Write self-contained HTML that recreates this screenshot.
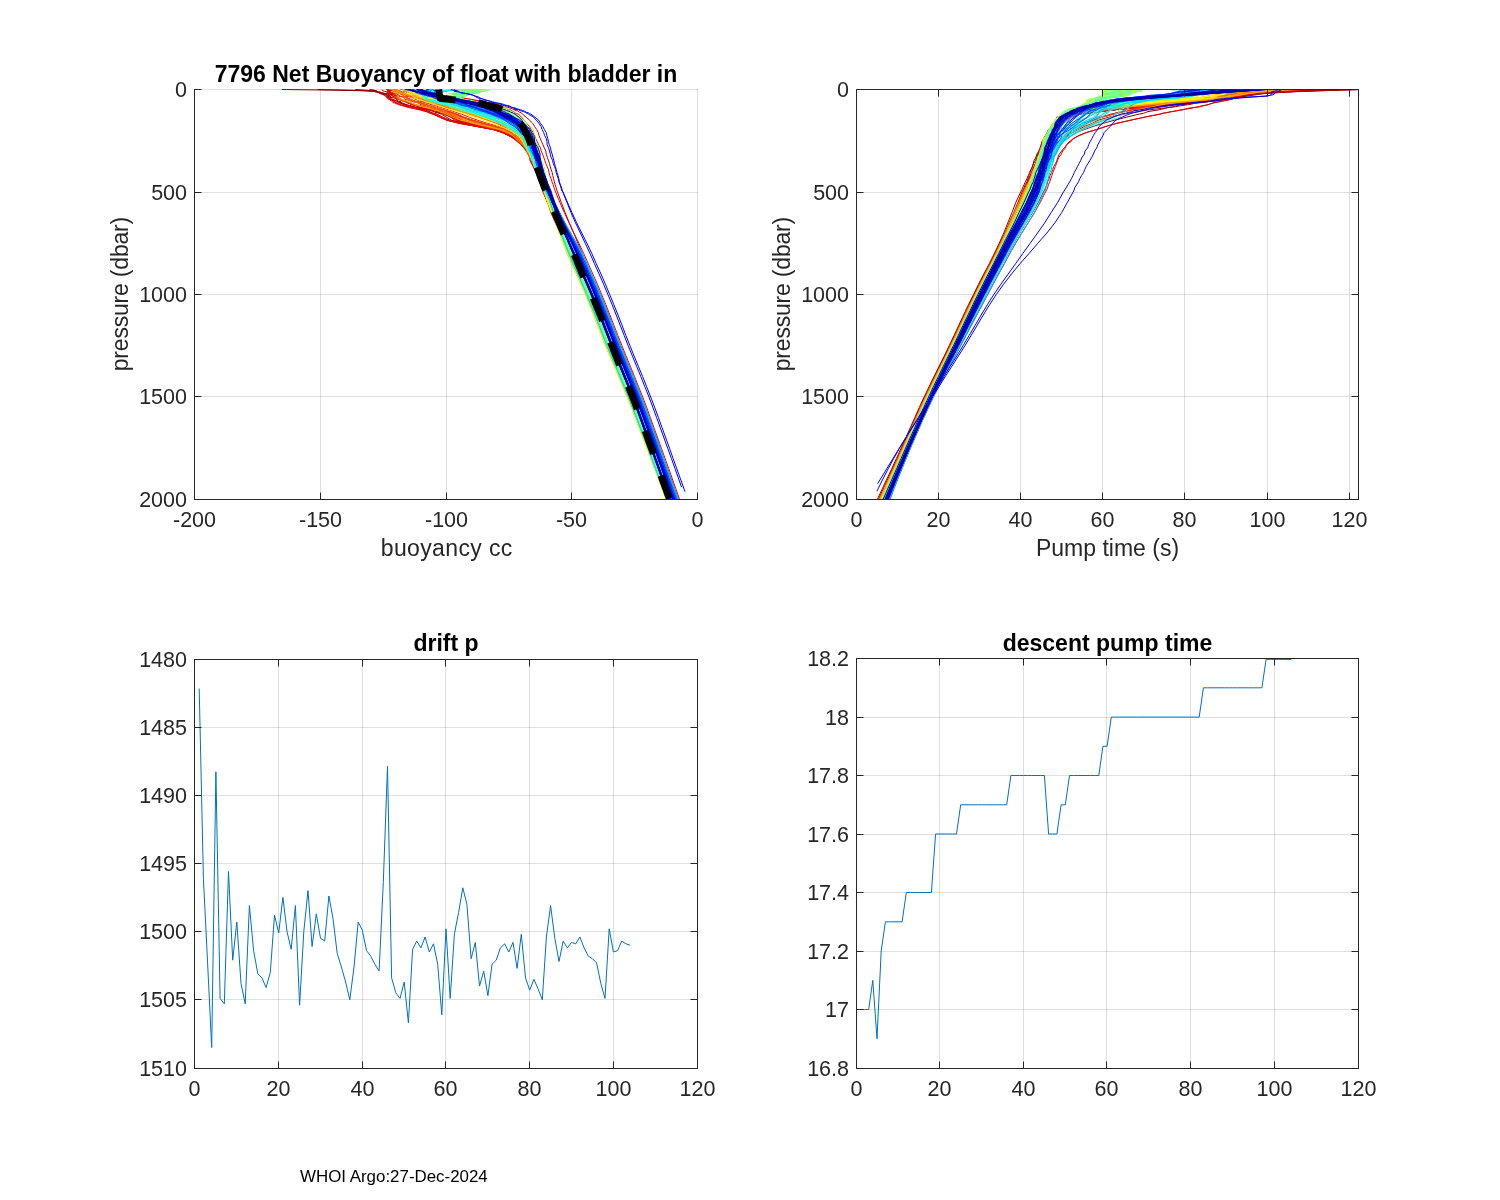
<!DOCTYPE html>
<html><head><meta charset="utf-8"><title>7796 Net Buoyancy of float with bladder in</title>
<style>
html,body{margin:0;padding:0;background:#fff;width:1500px;height:1200px;overflow:hidden}
svg{display:block}
.tk{font-family:'Liberation Sans', Arial, Helvetica, sans-serif;font-size:21.5px;fill:#262626}
.lb{font-family:'Liberation Sans', Arial, Helvetica, sans-serif;font-size:23px;fill:#262626}
.tt{font-family:'Liberation Sans', Arial, Helvetica, sans-serif;font-size:23px;font-weight:bold;fill:#000}
.ft{font-family:'Liberation Sans', Arial, Helvetica, sans-serif;font-size:16.9px;fill:#000}
</style></head><body>
<svg width="1500" height="1200" viewBox="0 0 1500 1200">
<rect width="1500" height="1200" fill="#fff"/>
<defs><clipPath id="c1"><rect x="194" y="89" width="504" height="411"/></clipPath><clipPath id="c2"><rect x="856" y="89" width="503" height="411"/></clipPath><clipPath id="c3"><rect x="194" y="659" width="504" height="410"/></clipPath><clipPath id="c4"><rect x="856" y="658" width="503" height="411"/></clipPath></defs>
<path d="M320.5 89V499.5M446.5 89V499.5M571.5 89V499.5M697.5 89V499.5" stroke="#262626" stroke-opacity="0.15" stroke-width="1" fill="none"/>
<path d="M194.5 89.5H698M194.5 192.5H698M194.5 294.5H698M194.5 396.5H698" stroke="#262626" stroke-opacity="0.15" stroke-width="1" fill="none"/>
<g clip-path="url(#c1)"><path d="M281.9 89.5L330.4 90.1L359.9 90.7L372.4 91.3L378 92L379.8 92.6L382 93.2L386 93.8L389.6 94.4L393.4 95L395.1 95.7L397.4 96.3L397.6 96.9L398.2 97.5L398.2 98.1L398.8 98.7L399.7 99.3L402.5 100L402.5 100.6L404 101.2L405.4 101.8L406.2 102.4L407.5 103L409.9 103.6L411.2 104.3L412.9 104.9L415.1 105.5L416.2 106.1L419 106.7L421.3 107.3L423 108L426.3 108.6L428.5 109.2L431.2 109.8L433.5 110.4L435.7 111L437.1 111.6L439.2 112.3L441.1 112.9L443.9 113.5L445.2 114.1L453.4 117.2L460.9 120.2L473.3 123.3L486.8 126.4L500 129.5L507.5 132.6L512.9 135.6L516 138.7L519.4 141.8L522.7 144.8L524.7 147.9L527 151L528.7 154.1L530.7 157.2L532.4 160.2L533.8 163.3L534.9 166.4L536.5 169.4L537.4 172.5L538 175.6L539.1 178.7L540.2 181.8L541.1 184.8L542.1 187.9L543.3 191L543.9 192L548.2 202.2L551.8 212.5L556.1 222.8L560.6 233L565 243.2L569.6 253.5L574.4 263.8L578.8 274L583.3 284.2L587.8 294.5L591.9 304.8L595.9 315L599.9 325.2L603.9 335.5L607.9 345.8L612.2 356L616.5 366.2L620.8 376.5L625 386.8L629.2 397L633.2 407.2L637.1 417.5L640.9 427.8L644.8 438L648.6 448.2L652.4 458.5L656.2 468.8L659.9 479L663.7 489.2L667.4 499.5" stroke="#800000" stroke-width="1.0" fill="none" stroke-linejoin="round" />
<path d="M369.6 89.5L372.8 90.1L376.7 90.7L376.3 91.3L377.1 92L378.4 92.6L378.9 93.2L380.8 93.8L383.5 94.4L383.4 95L384.8 95.7L386 96.3L389.2 96.9L392.2 97.5L394.9 98.1L395.4 98.7L396.6 99.3L397.3 100L397.1 100.6L398.8 101.2L401 101.8L400.5 102.4L402.4 103L403.9 103.6L404.9 104.3L406.5 104.9L408.7 105.5L410.6 106.1L411.8 106.7L414.8 107.3L416.6 108L418.6 108.6L422.1 109.2L424.9 109.8L426 110.4L427.9 111L429.8 111.6L431 112.3L432.6 112.9L434.9 113.5L436.6 114.1L442.8 117.2L449.9 120.2L463.3 123.3L480.2 126.4L496.6 129.5L506.3 132.6L511.1 135.6L515.4 138.7L518.6 141.8L521.1 144.8L523.8 147.9L526.1 151L528.8 154.1L530.5 157.2L532.7 160.2L533.6 163.3L534.8 166.4L536 169.4L536.6 172.5L537.4 175.6L538.7 178.7L539.6 181.8L540.7 184.8L542 187.9L543.4 191L543.8 192L548.6 202.2L552.7 212.5L557 222.8L562.6 233L567.4 243.2L572.2 253.5L577 263.8L581.5 274L586 284.2L590.3 294.5L594.5 304.8L598.5 315L602.5 325.2L606.5 335.5L610.6 345.8L614.8 356L619 366.2L623.2 376.5L627.4 386.8L631.5 397L635.4 407.2L639.2 417.5L643 427.8L646.7 438L650.4 448.2L654.2 458.5L657.9 468.8L661.6 479L665.2 489.2L668.9 499.5" stroke="#890000" stroke-width="1.0" fill="none" stroke-linejoin="round" />
<path d="M317.6 89.5L347.2 90.1L366.5 90.7L375.9 91.3L380 92L380.8 92.6L381.1 93.2L381.8 93.8L383.8 94.4L385.4 95L388.3 95.7L388.6 96.3L389.7 96.9L390.2 97.5L391.3 98.1L392 98.7L392.8 99.3L394.1 100L396.3 100.6L396.6 101.2L398.1 101.8L398.7 102.4L400.8 103L402.6 103.6L405.2 104.3L407.1 104.9L409.7 105.5L412.2 106.1L413.7 106.7L415.9 107.3L419.2 108L422.8 108.6L425.7 109.2L427.7 109.8L430.1 110.4L432.3 111L434.2 111.6L434.9 112.3L438 112.9L439.5 113.5L441.3 114.1L446.3 117.2L451.5 120.2L463.2 123.3L477.5 126.4L493.4 129.5L502.1 132.6L509.4 135.6L514.9 138.7L519.8 141.8L524.5 144.8L526.5 147.9L527.7 151L529.2 154.1L530 157.2L530 160.2L531.6 163.3L533.7 166.4L535.2 169.4L536.8 172.5L538.1 175.6L539.5 178.7L540.9 181.8L541.2 184.8L542.6 187.9L543.1 191L543.7 192L548 202.2L552.8 212.5L557.7 222.8L562.5 233L567.7 243.2L572.7 253.5L577.3 263.8L581.8 274L586.3 284.2L590.6 294.5L594.8 304.8L598.8 315L602.8 325.2L606.8 335.5L610.9 345.8L615 356L619.2 366.2L623.5 376.5L627.7 386.8L631.7 397L635.6 407.2L639.4 417.5L643.2 427.8L646.9 438L650.6 448.2L654.3 458.5L658 468.8L661.7 479L665.4 489.2L669 499.5" stroke="#930000" stroke-width="1.0" fill="none" stroke-linejoin="round" />
<path d="M371.4 89.5L372.8 90.1L375.2 90.7L377 91.3L378 92L381.5 92.6L384 93.2L387.4 93.8L389.5 94.4L391.5 95L392.1 95.7L393.5 96.3L394.8 96.9L396.3 97.5L395.6 98.1L396.6 98.7L398.7 99.3L400.1 100L402.7 100.6L404.7 101.2L406.9 101.8L407.8 102.4L409.3 103L410.6 103.6L412.1 104.3L414.4 104.9L415.6 105.5L418.5 106.1L419.8 106.7L422.8 107.3L424.6 108L427.5 108.6L430.3 109.2L432.1 109.8L435.3 110.4L436.7 111L438.4 111.6L440 112.3L442.1 112.9L443.3 113.5L445 114.1L451.2 117.2L458 120.2L468.5 123.3L481.9 126.4L497.8 129.5L507 132.6L513.5 135.6L518 138.7L522 141.8L524.1 144.8L525.2 147.9L526.6 151L527.9 154.1L529.6 157.2L531.4 160.2L533.1 163.3L534.2 166.4L536.2 169.4L537 172.5L538.2 175.6L539.8 178.7L540.6 181.8L541.7 184.8L542.7 187.9L543.6 191L543.7 192L547.6 202.2L553 212.5L557 222.8L561.8 233L566.9 243.2L571.6 253.5L576.3 263.8L580.7 274L585.3 284.2L589.6 294.5L593.8 304.8L597.9 315L601.8 325.2L605.8 335.5L609.9 345.8L614.1 356L618.3 366.2L622.6 376.5L626.8 386.8L630.9 397L634.8 407.2L638.7 417.5L642.5 427.8L646.2 438L649.9 448.2L653.7 458.5L657.4 468.8L661.1 479L664.8 489.2L668.5 499.5" stroke="#9d0000" stroke-width="1.0" fill="none" stroke-linejoin="round" />
<path d="M355.4 89.5L365.5 90.1L371 90.7L374.2 91.3L375.8 92L379.5 92.6L381.5 93.2L383.9 93.8L385.4 94.4L387.9 95L389.6 95.7L390.1 96.3L391 96.9L389.7 97.5L390.4 98.1L389.4 98.7L391.1 99.3L393.5 100L396.1 100.6L397.9 101.2L398.5 101.8L399.8 102.4L401.1 103L401.8 103.6L403.2 104.3L404.6 104.9L405.3 105.5L407.6 106.1L409.4 106.7L413.4 107.3L415.2 108L416.9 108.6L420.7 109.2L423 109.8L424.1 110.4L425.7 111L428.1 111.6L429.8 112.3L430.3 112.9L432 113.5L433.2 114.1L440.2 117.2L447 120.2L459.9 123.3L476.6 126.4L493.7 129.5L504.4 132.6L509.7 135.6L514.4 138.7L518.4 141.8L522.4 144.8L525.1 147.9L527.2 151L528.9 154.1L530.3 157.2L531.2 160.2L532.8 163.3L533.5 166.4L534.8 169.4L536.5 172.5L537.6 175.6L539.4 178.7L540.4 181.8L541.5 184.8L542.6 187.9L543.4 191L543.8 192L547.3 202.2L552.1 212.5L556.8 222.8L561.2 233L566.1 243.2L570.9 253.5L575.4 263.8L580 274L584.4 284.2L588.9 294.5L593.1 304.8L597 315L601 325.2L605.1 335.5L609.1 345.8L613.3 356L617.6 366.2L621.9 376.5L626.1 386.8L630.2 397L634.2 407.2L638 417.5L641.8 427.8L645.6 438L649.4 448.2L653.2 458.5L656.9 468.8L660.7 479L664.4 489.2L668.1 499.5" stroke="#a70000" stroke-width="1.0" fill="none" stroke-linejoin="round" />
<path d="M393.7 89.5L391.1 90.1L390.5 90.7L388.2 91.3L388.2 92L389 92.6L390.5 93.2L391.7 93.8L391.2 94.4L390.1 95L389 95.7L388.6 96.3L387.7 96.9L387.1 97.5L388.3 98.1L388.6 98.7L389.1 99.3L391.4 100L393.3 100.6L393.8 101.2L394.3 101.8L395.6 102.4L396.7 103L398.5 103.6L399.1 104.3L400.9 104.9L402.7 105.5L405.1 106.1L406.6 106.7L408.8 107.3L412.5 108L414.6 108.6L417.8 109.2L421.1 109.8L422.7 110.4L425.1 111L426.8 111.6L427.9 112.3L429.8 112.9L430.8 113.5L432.9 114.1L439.6 117.2L446.7 120.2L459.4 123.3L476.6 126.4L493.3 129.5L503.3 132.6L509.1 135.6L514.2 138.7L518.2 141.8L522.1 144.8L525.1 147.9L527.3 151L528.9 154.1L530.3 157.2L530.7 160.2L531.8 163.3L533.1 166.4L534.5 169.4L536.4 172.5L538.3 175.6L539.4 178.7L540.6 181.8L541.7 184.8L542.4 187.9L543.1 191L543.3 192L547.6 202.2L552.9 212.5L557.4 222.8L562.4 233L567.5 243.2L572.5 253.5L577.2 263.8L581.7 274L586.1 284.2L590.4 294.5L594.7 304.8L598.7 315L602.6 325.2L606.7 335.5L610.8 345.8L614.9 356L619.2 366.2L623.4 376.5L627.6 386.8L631.6 397L635.5 407.2L639.3 417.5L643.1 427.8L646.8 438L650.5 448.2L654.3 458.5L658 468.8L661.6 479L665.3 489.2L669 499.5" stroke="#b10000" stroke-width="1.0" fill="none" stroke-linejoin="round" />
<path d="M401.4 89.5L405.8 90.1L410.2 90.7L414.6 91.3L418.8 92L423.2 92.6L426.7 93.2L431.9 93.8L436.8 94.4L440.8 95L445.2 95.7L450.8 96.3L454.7 96.9L459.8 97.5L463.3 98.1L467.3 98.7L471.4 99.3L475.1 100L477.9 100.6L480.4 101.2L483.5 101.8L485.7 102.4L489.7 103L493.8 103.6L496.8 104.3L499.6 104.9L501 105.5L504.6 106.1L505.5 106.7L507.8 107.3L509.8 108L512.1 108.6L512.8 109.2L515.1 109.8L515.1 110.4L517.7 111L518.9 111.6L519.5 112.3L521.3 112.9L521.7 113.5L522.6 114.1L526.2 117.2L529.5 120.2L532.7 123.3L534.5 126.4L536.7 129.5L538.2 132.6L539.1 135.6L540.3 138.7L541.6 141.8L543 144.8L544.3 147.9L545.8 151L546.3 154.1L547.3 157.2L548.4 160.2L549.4 163.3L550.2 166.4L551.1 169.4L552.2 172.5L552.8 175.6L553.6 178.7L554.4 181.8L555.2 184.8L556.2 187.9L557.1 191L557.5 192L561.2 202.2L565.1 212.5L569.3 222.8L573.6 233L577.9 243.2L582.4 253.5L586.9 263.8L591.5 274L596 284.2L600.4 294.5L604.6 304.8L608.7 315L612.6 325.2L616.6 335.5L620.7 345.8L624.8 356L629.1 366.2L633.3 376.5L637.4 386.8L641.4 397L645.3 407.2L649.1 417.5L652.8 427.8L656.5 438L660.2 448.2L663.8 458.5L667.5 468.8L671.2 479L674.8 489.2L678.4 499.5" stroke="#bb0000" stroke-width="1.0" fill="none" stroke-linejoin="round" />
<path d="M382 89.5L382.3 90.1L382.5 90.7L384.6 91.3L387.9 92L391.3 92.6L395.3 93.2L396.7 93.8L397.9 94.4L397.9 95L398.7 95.7L400.2 96.3L403.2 96.9L404.3 97.5L406.4 98.1L408.1 98.7L409.7 99.3L410.8 100L411.6 100.6L412.6 101.2L414.9 101.8L417 102.4L418.7 103L420.9 103.6L422.4 104.3L423.9 104.9L426.8 105.5L428.7 106.1L430.5 106.7L433.3 107.3L435.6 108L436.1 108.6L439.1 109.2L440.9 109.8L443.2 110.4L445.5 111L447.7 111.6L449.2 112.3L451 112.9L453.6 113.5L455.6 114.1L463.9 117.2L472.6 120.2L482.9 123.3L493.8 126.4L504.4 129.5L511.2 132.6L515.1 135.6L518.3 138.7L521.1 141.8L523.6 144.8L525.3 147.9L527.1 151L528.6 154.1L530.6 157.2L532.7 160.2L534 163.3L535.5 166.4L536.8 169.4L537.8 172.5L538.7 175.6L539 178.7L540.2 181.8L540.8 184.8L542 187.9L543.6 191L544.3 192L548.8 202.2L552.3 212.5L556.6 222.8L561.6 233L566 243.2L570.7 253.5L575.5 263.8L579.8 274L584.4 284.2L588.9 294.5L593 304.8L597 315L601.1 325.2L605 335.5L609.1 345.8L613.3 356L617.6 366.2L621.9 376.5L626.1 386.8L630.2 397L634.2 407.2L638 417.5L641.8 427.8L645.6 438L649.4 448.2L653.2 458.5L656.9 468.8L660.6 479L664.4 489.2L668.1 499.5" stroke="#c50000" stroke-width="1.0" fill="none" stroke-linejoin="round" />
<path d="M392 89.5L390.1 90.1L390.6 90.7L389.7 91.3L390.7 92L390.1 92.6L391.6 93.2L392.8 93.8L392.6 94.4L392 95L391.2 95.7L390.5 96.3L389 96.9L388.3 97.5L388.4 98.1L388.6 98.7L390.1 99.3L390.8 100L392.9 100.6L394 101.2L395.1 101.8L397.7 102.4L399 103L401.3 103.6L402.2 104.3L403.4 104.9L405.8 105.5L409.1 106.1L411.7 106.7L416 107.3L420.1 108L422.7 108.6L424.7 109.2L428.3 109.8L430.4 110.4L432.7 111L434.3 111.6L437.7 112.3L438.9 112.9L441.8 113.5L443.1 114.1L450.6 117.2L455 120.2L466.2 123.3L479.2 126.4L493.2 129.5L502.7 132.6L508.7 135.6L514.7 138.7L520.1 141.8L524.3 144.8L526.9 147.9L528.4 151L529.3 154.1L529.8 157.2L530.3 160.2L531.5 163.3L533.4 166.4L535.4 169.4L537 172.5L538.9 175.6L539.7 178.7L540.1 181.8L541.4 184.8L541.9 187.9L542.8 191L543.4 192L548.5 202.2L552.9 212.5L557.2 222.8L562.7 233L567.6 243.2L572.3 253.5L577.2 263.8L581.6 274L586 284.2L590.5 294.5L594.6 304.8L598.6 315L602.7 325.2L606.6 335.5L610.7 345.8L614.9 356L619.1 366.2L623.3 376.5L627.5 386.8L631.6 397L635.5 407.2L639.3 417.5L643.1 427.8L646.8 438L650.5 448.2L654.2 458.5L657.9 468.8L661.6 479L665.3 489.2L668.9 499.5" stroke="#cf0000" stroke-width="1.0" fill="none" stroke-linejoin="round" />
<path d="M391.9 89.5L391.3 90.1L391.5 90.7L390.3 91.3L388.3 92L388.9 92.6L392 93.2L393.5 93.8L394.2 94.4L393.8 95L394.8 95.7L394.6 96.3L396.1 96.9L397.8 97.5L398.8 98.1L400.7 98.7L400.7 99.3L400.8 100L402.5 100.6L404.2 101.2L406.2 101.8L407.7 102.4L410.4 103L411.1 103.6L411 104.3L414 104.9L417 105.5L419.2 106.1L421.2 106.7L424.5 107.3L426.1 108L428.9 108.6L430.9 109.2L432.7 109.8L435.6 110.4L437.3 111L440 111.6L441.4 112.3L442.3 112.9L444.1 113.5L445.7 114.1L451.6 117.2L458.1 120.2L469.5 123.3L483.8 126.4L498.8 129.5L507.5 132.6L512.6 135.6L515.2 138.7L519.3 141.8L523.1 144.8L526.2 147.9L528.5 151L530.3 154.1L530.9 157.2L531.8 160.2L532.6 163.3L534 166.4L535.3 169.4L536.3 172.5L537.7 175.6L538.5 178.7L540.2 181.8L541.7 184.8L543.2 187.9L544.1 191L544.6 192L547.9 202.2L551.5 212.5L556.1 222.8L560.6 233L565.3 243.2L569.5 253.5L574.3 263.8L578.8 274L583.3 284.2L587.7 294.5L591.8 304.8L595.9 315L599.9 325.2L603.9 335.5L607.9 345.8L612.2 356L616.5 366.2L620.8 376.5L625 386.8L629.2 397L633.2 407.2L637.1 417.5L640.9 427.8L644.7 438L648.6 448.2L652.4 458.5L656.2 468.8L659.9 479L663.7 489.2L667.4 499.5" stroke="#d90000" stroke-width="1.0" fill="none" stroke-linejoin="round" />
<path d="M386.3 89.5L390.1 90.1L390.4 90.7L388.8 91.3L386.9 92L388 92.6L387.6 93.2L392.5 93.8L394.9 94.4L395.7 95L395.6 95.7L392.5 96.3L394.8 96.9L396.1 97.5L397.5 98.1L399.6 98.7L401.5 99.3L400.9 100L402.1 100.6L403 101.2L404.9 101.8L407.4 102.4L408.8 103L409.8 103.6L410.6 104.3L413 104.9L415.4 105.5L417.4 106.1L418.6 106.7L420.9 107.3L423.2 108L426.7 108.6L429 109.2L431.1 109.8L433.9 110.4L436.4 111L437.6 111.6L440.1 112.3L441.6 112.9L443.6 113.5L446.2 114.1L453.7 117.2L461.6 120.2L473.2 123.3L485.3 126.4L498.3 129.5L505.4 132.6L510.5 135.6L514.3 138.7L519.5 141.8L522.9 144.8L526.2 147.9L528.5 151L529.5 154.1L530.6 157.2L532.1 160.2L533.3 163.3L534.8 166.4L536 169.4L537 172.5L537.6 175.6L538.6 178.7L539.4 181.8L540.8 184.8L542.2 187.9L543.7 191L544.2 192L548.7 202.2L551.9 212.5L556.4 222.8L561.2 233L566.3 243.2L570.9 253.5L575.2 263.8L580 274L584.5 284.2L588.8 294.5L592.8 304.8L596.9 315L601 325.2L604.9 335.5L609 345.8L613.2 356L617.5 366.2L621.8 376.5L626 386.8L630.1 397L634.1 407.2L637.9 417.5L641.7 427.8L645.5 438L649.3 448.2L653.1 458.5L656.8 468.8L660.6 479L664.3 489.2L668 499.5" stroke="#e30000" stroke-width="1.0" fill="none" stroke-linejoin="round" />
<path d="M403.2 89.5L406.8 90.1L409.6 90.7L412.9 91.3L417.6 92L422.8 92.6L425.8 93.2L432.5 93.8L436.5 94.4L441.8 95L445.3 95.7L450.8 96.3L454.9 96.9L459.9 97.5L462.1 98.1L466 98.7L468.7 99.3L472.2 100L474.4 100.6L478.9 101.2L481.4 101.8L483.9 102.4L486.5 103L489.7 103.6L492.8 104.3L495.2 104.9L497.5 105.5L500.4 106.1L502 106.7L503.4 107.3L504 108L506.8 108.6L507.7 109.2L509.8 109.8L511.2 110.4L512.3 111L513.4 111.6L514.6 112.3L515.3 112.9L516.7 113.5L518.5 114.1L521.5 117.2L524 120.2L527 123.3L529.4 126.4L531.2 129.5L533.1 132.6L534.7 135.6L535.7 138.7L537.3 141.8L538.6 144.8L540.5 147.9L541.2 151L542.5 154.1L543.7 157.2L544.7 160.2L545.7 163.3L547.1 166.4L548.4 169.4L548.9 172.5L549.8 175.6L551.1 178.7L552 181.8L553.2 184.8L554.1 187.9L555.2 191L555.6 192L559.8 202.2L564.3 212.5L569 222.8L573.9 233L578.9 243.2L583.7 253.5L588.3 263.8L592.8 274L597.4 284.2L601.7 294.5L605.9 304.8L609.9 315L613.9 325.2L617.9 335.5L622 345.8L626.1 356L630.3 366.2L634.5 376.5L638.6 386.8L642.7 397L646.6 407.2L650.3 417.5L654 427.8L657.7 438L661.4 448.2L665.1 458.5L668.8 468.8L672.4 479L676 489.2L679.6 499.5" stroke="#ec0000" stroke-width="1.0" fill="none" stroke-linejoin="round" />
<path d="M388.1 89.5L388.2 90.1L387 90.7L389 91.3L387.9 92L388.1 92.6L389.1 93.2L388.6 93.8L389.9 94.4L388 95L388.6 95.7L387.5 96.3L387.6 96.9L388.8 97.5L388.6 98.1L389.7 98.7L391.1 99.3L391.2 100L390.4 100.6L393.6 101.2L393.2 101.8L392.9 102.4L394.7 103L396.6 103.6L398.2 104.3L399.3 104.9L401.2 105.5L403.3 106.1L405.8 106.7L407.8 107.3L411 108L414.1 108.6L417.2 109.2L419.4 109.8L421.9 110.4L423.4 111L426.2 111.6L428.4 112.3L429.3 112.9L432.1 113.5L433.7 114.1L440.4 117.2L447 120.2L458.9 123.3L476.8 126.4L493.2 129.5L503 132.6L509.3 135.6L514.1 138.7L518.3 141.8L522.3 144.8L525.3 147.9L527.2 151L528.4 154.1L529.8 157.2L530.7 160.2L532.2 163.3L533.4 166.4L535.6 169.4L536.8 172.5L538.2 175.6L539.2 178.7L540.2 181.8L541.2 184.8L541.9 187.9L543 191L543 192L547.5 202.2L552 212.5L556.1 222.8L560.7 233L565.5 243.2L570 253.5L574.7 263.8L579.2 274L583.7 284.2L588.1 294.5L592.3 304.8L596.2 315L600.3 325.2L604.3 335.5L608.3 345.8L612.5 356L616.8 366.2L621.1 376.5L625.4 386.8L629.5 397L633.5 407.2L637.4 417.5L641.2 427.8L645 438L648.8 448.2L652.6 458.5L656.4 468.8L660.2 479L663.9 489.2L667.6 499.5" stroke="#f60000" stroke-width="1.0" fill="none" stroke-linejoin="round" />
<path d="M386.7 89.5L388.4 90.1L389 90.7L387.9 91.3L388.1 92L388.5 92.6L389.3 93.2L389.2 93.8L387.6 94.4L387.7 95L387.1 95.7L386.6 96.3L386.1 96.9L386.3 97.5L387.6 98.1L387.7 98.7L388.7 99.3L391.2 100L391.4 100.6L394.1 101.2L394.1 101.8L394.8 102.4L395.6 103L396.5 103.6L398.9 104.3L400.5 104.9L403 105.5L405.9 106.1L408.6 106.7L410.8 107.3L415 108L416.9 108.6L419.8 109.2L422.2 109.8L423.9 110.4L426.9 111L428 111.6L430.6 112.3L432.2 112.9L434.2 113.5L436.7 114.1L442.6 117.2L448.2 120.2L461.3 123.3L476.6 126.4L493.6 129.5L502.5 132.6L509 135.6L514 138.7L517.4 141.8L521.8 144.8L524.9 147.9L527.3 151L529.3 154.1L530.8 157.2L532 160.2L532.7 163.3L533.8 166.4L534.9 169.4L536.1 172.5L537.4 175.6L538.7 178.7L540.5 181.8L541.5 184.8L542.6 187.9L543.7 191L543.7 192L547.6 202.2L552.4 212.5L556.6 222.8L561.4 233L566.5 243.2L571 253.5L575.8 263.8L580.3 274L584.8 284.2L589.1 294.5L593.3 304.8L597.4 315L601.4 325.2L605.3 335.5L609.4 345.8L613.6 356L617.9 366.2L622.2 376.5L626.4 386.8L630.5 397L634.4 407.2L638.3 417.5L642.1 427.8L645.8 438L649.6 448.2L653.4 458.5L657.1 468.8L660.8 479L664.5 489.2L668.2 499.5" stroke="#ff0100" stroke-width="1.0" fill="none" stroke-linejoin="round" />
<path d="M388.5 89.5L388.8 90.1L391.3 90.7L393.9 91.3L396.4 92L395.2 92.6L395.2 93.2L394.5 93.8L394.6 94.4L396 95L397.8 95.7L400.2 96.3L402.7 96.9L404.1 97.5L404 98.1L404.4 98.7L404.7 99.3L407.3 100L408.9 100.6L411.7 101.2L413.6 101.8L416.2 102.4L418.3 103L419.4 103.6L419.9 104.3L421.5 104.9L424.6 105.5L426.6 106.1L429.6 106.7L432 107.3L435 108L436.3 108.6L438.6 109.2L442.1 109.8L443.4 110.4L444.5 111L447.9 111.6L451.5 112.3L451.8 112.9L454.2 113.5L456 114.1L462.7 117.2L469.4 120.2L478 123.3L489.1 126.4L500.2 129.5L508.5 132.6L513.8 135.6L518 138.7L522.1 141.8L525.1 144.8L526.8 147.9L528.1 151L528.8 154.1L530.5 157.2L532 160.2L533.2 163.3L534.5 166.4L535.5 169.4L536.9 172.5L537.6 175.6L538.8 178.7L540.3 181.8L541.8 184.8L543.6 187.9L544.6 191L545.2 192L547.6 202.2L552.2 212.5L557.1 222.8L561.5 233L566.4 243.2L570.9 253.5L575.7 263.8L580.3 274L584.6 284.2L589 294.5L593.3 304.8L597.2 315L601.2 325.2L605.3 335.5L609.3 345.8L613.5 356L617.7 366.2L622 376.5L626.3 386.8L630.3 397L634.3 407.2L638.2 417.5L642 427.8L645.7 438L649.5 448.2L653.3 458.5L657 468.8L660.8 479L664.5 489.2L668.2 499.5" stroke="#ff0b00" stroke-width="1.0" fill="none" stroke-linejoin="round" />
<path d="M408.4 89.5L409.2 90.1L408.7 90.7L407 91.3L405.8 92L407.8 92.6L409.5 93.2L410.6 93.8L410.6 94.4L409.4 95L408.7 95.7L407 96.3L410.2 96.9L410.3 97.5L413.5 98.1L414.3 98.7L414.9 99.3L417.3 100L418.5 100.6L419.8 101.2L422.1 101.8L423.9 102.4L425.8 103L429.2 103.6L429.7 104.3L432.1 104.9L434.6 105.5L436.7 106.1L438.2 106.7L440.4 107.3L442.4 108L444.8 108.6L446.5 109.2L448.3 109.8L451.4 110.4L452.6 111L454.3 111.6L455.5 112.3L457.5 112.9L459.1 113.5L461.5 114.1L469.2 117.2L477.6 120.2L487.4 123.3L498 126.4L509 129.5L514.6 132.6L517.9 135.6L520.1 138.7L521.4 141.8L523.1 144.8L524.6 147.9L527.2 151L529.8 154.1L531.4 157.2L533 160.2L534 163.3L535.2 166.4L536.2 169.4L537.3 172.5L538.4 175.6L539.4 178.7L540.5 181.8L541.1 184.8L542.5 187.9L544 191L544.7 192L548.6 202.2L551 212.5L555.6 222.8L559.8 233L563.9 243.2L568 253.5L572.8 263.8L577.2 274L581.8 284.2L586.3 294.5L590.5 304.8L594.4 315L598.5 325.2L602.5 335.5L606.5 345.8L610.8 356L615.1 366.2L619.5 376.5L623.7 386.8L628 397L632 407.2L635.9 417.5L639.8 427.8L643.7 438L647.5 448.2L651.4 458.5L655.2 468.8L659.1 479L662.9 489.2L666.6 499.5" stroke="#ff1500" stroke-width="1.0" fill="none" stroke-linejoin="round" />
<path d="M391.6 89.5L395.9 90.1L397.6 90.7L400.8 91.3L402.4 92L402.7 92.6L401.8 93.2L403 93.8L403.6 94.4L405.7 95L409.8 95.7L411.6 96.3L412.9 96.9L415.5 97.5L418 98.1L419.9 98.7L421.8 99.3L423.9 100L426.6 100.6L429.1 101.2L431.6 101.8L434 102.4L436.1 103L439.5 103.6L441.6 104.3L445 104.9L448 105.5L450.7 106.1L452 106.7L454.4 107.3L456.2 108L458.2 108.6L459.8 109.2L461.8 109.8L464.7 110.4L467.7 111L468.8 111.6L471 112.3L474 112.9L474.4 113.5L477.2 114.1L484.2 117.2L491.4 120.2L497.4 123.3L503 126.4L508.2 129.5L513.2 132.6L518.1 135.6L522.5 138.7L525.2 141.8L527.8 144.8L529.4 147.9L530.1 151L530.7 154.1L531.2 157.2L531.8 160.2L532.8 163.3L534.2 166.4L535.9 169.4L537.5 172.5L538.9 175.6L540.3 178.7L541.3 181.8L542.5 184.8L543.6 187.9L544.7 191L545 192L548.6 202.2L552.2 212.5L557.1 222.8L561.5 233L565.5 243.2L570.4 253.5L575.2 263.8L579.5 274L584 284.2L588.5 294.5L592.6 304.8L596.6 315L600.6 325.2L604.6 335.5L608.7 345.8L612.9 356L617.2 366.2L621.5 376.5L625.7 386.8L629.8 397L633.8 407.2L637.7 417.5L641.5 427.8L645.3 438L649.1 448.2L652.9 458.5L656.7 468.8L660.4 479L664.1 489.2L667.8 499.5" stroke="#ff1f00" stroke-width="1.0" fill="none" stroke-linejoin="round" />
<path d="M401 89.5L400.2 90.1L399.4 90.7L399.2 91.3L399.6 92L399.3 92.6L399.5 93.2L399.6 93.8L400.6 94.4L403.3 95L403 95.7L404.2 96.3L407.5 96.9L407.3 97.5L407.7 98.1L408.5 98.7L410.3 99.3L411.2 100L413.8 100.6L415.4 101.2L418.1 101.8L420.4 102.4L421.3 103L423.6 103.6L424.4 104.3L426 104.9L427.1 105.5L428.1 106.1L429.9 106.7L431.7 107.3L433.7 108L435.6 108.6L436.8 109.2L440.6 109.8L441 110.4L442.5 111L444.8 111.6L447.1 112.3L448.9 112.9L450.2 113.5L452.6 114.1L462 117.2L471.8 120.2L482.9 123.3L494.1 126.4L504.3 129.5L509.2 132.6L513.3 135.6L517.8 138.7L521.4 141.8L524.7 144.8L526.6 147.9L528.6 151L528.8 154.1L529.6 157.2L531.5 160.2L533.4 163.3L535.2 166.4L536.3 169.4L537 172.5L538.2 175.6L539.2 178.7L540.6 181.8L542.1 184.8L543.1 187.9L544.2 191L544.5 192L547.7 202.2L552.3 212.5L555.7 222.8L560.4 233L565.1 243.2L569.6 253.5L573.9 263.8L578.6 274L583.1 284.2L587.5 294.5L591.7 304.8L595.8 315L599.7 325.2L603.7 335.5L607.8 345.8L612 356L616.3 366.2L620.6 376.5L624.9 386.8L629 397L633 407.2L636.9 417.5L640.8 427.8L644.6 438L648.4 448.2L652.3 458.5L656 468.8L659.8 479L663.6 489.2L667.3 499.5" stroke="#ff2900" stroke-width="1.0" fill="none" stroke-linejoin="round" />
<path d="M395.5 89.5L395.4 90.1L395.7 90.7L396.7 91.3L398.1 92L398.2 92.6L399.2 93.2L399.4 93.8L398.2 94.4L397 95L396.8 95.7L395.4 96.3L395.6 96.9L396.1 97.5L396 98.1L397.9 98.7L399.3 99.3L400.4 100L402.8 100.6L404.8 101.2L405.3 101.8L408.5 102.4L409.2 103L410.9 103.6L411.5 104.3L413.8 104.9L416.6 105.5L420 106.1L422.1 106.7L425.4 107.3L428.6 108L430.4 108.6L433.1 109.2L436 109.8L438 110.4L441 111L441.1 111.6L444.4 112.3L446.1 112.9L448.5 113.5L450 114.1L457.1 117.2L462.7 120.2L472.1 123.3L483.3 126.4L498 129.5L506.6 132.6L512.5 135.6L518 138.7L521.8 141.8L523.9 144.8L526.1 147.9L527.1 151L528.3 154.1L529.7 157.2L531.4 160.2L533.5 163.3L535.1 166.4L536.7 169.4L537.2 172.5L537.8 175.6L539 178.7L540 181.8L541.3 184.8L542.9 187.9L544.1 191L544.4 192L547.7 202.2L551.9 212.5L556.4 222.8L560.7 233L565.4 243.2L570 253.5L574.6 263.8L579 274L583.6 284.2L588.1 294.5L592.1 304.8L596.3 315L600.3 325.2L604.2 335.5L608.3 345.8L612.5 356L616.8 366.2L621.1 376.5L625.4 386.8L629.5 397L633.5 407.2L637.4 417.5L641.2 427.8L645 438L648.8 448.2L652.6 458.5L656.4 468.8L660.1 479L663.9 489.2L667.6 499.5" stroke="#ff3300" stroke-width="1.0" fill="none" stroke-linejoin="round" />
<path d="M407.5 89.5L407.1 90.1L405.1 90.7L404.6 91.3L403 92L404.5 92.6L403.9 93.2L404.4 93.8L404.5 94.4L406.6 95L406.1 95.7L406.4 96.3L406.3 96.9L407 97.5L407.4 98.1L407.8 98.7L409.7 99.3L412 100L413.6 100.6L415.3 101.2L417.6 101.8L420.3 102.4L422.1 103L424.6 103.6L425.7 104.3L428.1 104.9L430.2 105.5L432.2 106.1L433.9 106.7L436.5 107.3L438.7 108L440.5 108.6L442.1 109.2L444.8 109.8L446.2 110.4L448.5 111L450.6 111.6L452.6 112.3L454.4 112.9L455.2 113.5L457 114.1L464 117.2L472.3 120.2L482.3 123.3L494.1 126.4L505.3 129.5L510.9 132.6L516.1 135.6L518.9 138.7L521.8 141.8L524 144.8L526.4 147.9L527.9 151L529.5 154.1L530.1 157.2L531.8 160.2L533 163.3L534.8 166.4L536.4 169.4L537.8 172.5L539.3 175.6L540.1 178.7L540.6 181.8L541.6 184.8L542.2 187.9L543.5 191L544 192L548.1 202.2L551.8 212.5L555.9 222.8L559.9 233L564.9 243.2L569 253.5L573.5 263.8L578.2 274L582.6 284.2L587 294.5L591.2 304.8L595.3 315L599.2 325.2L603.2 335.5L607.4 345.8L611.5 356L615.9 366.2L620.2 376.5L624.5 386.8L628.6 397L632.7 407.2L636.6 417.5L640.4 427.8L644.3 438L648.1 448.2L651.9 458.5L655.8 468.8L659.5 479L663.3 489.2L667.1 499.5" stroke="#ff3d00" stroke-width="1.0" fill="none" stroke-linejoin="round" />
<path d="M394.4 89.5L397.2 90.1L396.4 90.7L398.3 91.3L397.4 92L399.7 92.6L399.7 93.2L401.5 93.8L403.8 94.4L405.9 95L408.5 95.7L409.2 96.3L411.6 96.9L414.3 97.5L415.8 98.1L419.2 98.7L419 99.3L421.4 100L422.1 100.6L422.1 101.2L426 101.8L428.2 102.4L431.4 103L434.1 103.6L437.5 104.3L439.9 104.9L441.8 105.5L443.9 106.1L445.3 106.7L447.2 107.3L449.8 108L451.9 108.6L454.7 109.2L456.4 109.8L458.6 110.4L461.4 111L462.9 111.6L465.4 112.3L467.5 112.9L469.6 113.5L472 114.1L481.8 117.2L489.5 120.2L497.4 123.3L503.7 126.4L509.2 129.5L513.8 132.6L516.8 135.6L519.9 138.7L523.3 141.8L525.9 144.8L528.2 147.9L529.5 151L531 154.1L530.7 157.2L531.4 160.2L532.4 163.3L534.1 166.4L535.8 169.4L537.8 172.5L539.7 175.6L540.9 178.7L541.6 181.8L542.2 184.8L542.8 187.9L543.8 191L544.4 192L548.6 202.2L552.2 212.5L556.2 222.8L560.8 233L565.2 243.2L569.6 253.5L574.1 263.8L578.7 274L583.3 284.2L587.7 294.5L591.9 304.8L595.9 315L599.9 325.2L603.9 335.5L607.9 345.8L612.2 356L616.4 366.2L620.8 376.5L625.1 386.8L629.2 397L633.2 407.2L637.1 417.5L640.9 427.8L644.8 438L648.6 448.2L652.4 458.5L656.2 468.8L659.9 479L663.7 489.2L667.4 499.5" stroke="#ff4700" stroke-width="1.0" fill="none" stroke-linejoin="round" />
<path d="M395.1 89.5L394 90.1L394.6 90.7L394.6 91.3L394.7 92L396.4 92.6L397.7 93.2L396.5 93.8L394 94.4L393.2 95L393.5 95.7L394.7 96.3L396.3 96.9L398.1 97.5L399 98.1L398.6 98.7L401 99.3L400.4 100L401.5 100.6L404.2 101.2L407.2 101.8L408.7 102.4L411.2 103L413.1 103.6L413.9 104.3L414.4 104.9L417.5 105.5L421.2 106.1L423 106.7L426.4 107.3L428.7 108L431.7 108.6L432.8 109.2L434.9 109.8L436.5 110.4L439 111L441.6 111.6L443.1 112.3L444.7 112.9L446.6 113.5L448.2 114.1L454.6 117.2L460.8 120.2L472.2 123.3L485.3 126.4L498.9 129.5L506.8 132.6L513.3 135.6L517.3 138.7L520.7 141.8L523.4 144.8L525.9 147.9L527.5 151L528.7 154.1L530 157.2L531.2 160.2L532.8 163.3L534.5 166.4L536.1 169.4L537.3 172.5L538.3 175.6L539.5 178.7L540.1 181.8L541.3 184.8L541.8 187.9L543.4 191L543.6 192L548.2 202.2L551.1 212.5L555.4 222.8L560 233L563.8 243.2L568.7 253.5L573.1 263.8L577.5 274L582.2 284.2L586.6 294.5L590.7 304.8L594.8 315L598.8 325.2L602.8 335.5L606.8 345.8L611.1 356L615.4 366.2L619.7 376.5L624 386.8L628.2 397L632.2 407.2L636.2 417.5L640.1 427.8L643.9 438L647.8 448.2L651.6 458.5L655.4 468.8L659.2 479L663 489.2L666.8 499.5" stroke="#ff5000" stroke-width="1.0" fill="none" stroke-linejoin="round" />
<path d="M394.5 89.5L396.5 90.1L396.4 90.7L396.1 91.3L397.9 92L399.7 92.6L401.4 93.2L402.5 93.8L407.4 94.4L408.7 95L411.2 95.7L412.3 96.3L413.7 96.9L415.8 97.5L417.3 98.1L418 98.7L419.1 99.3L421.2 100L423.8 100.6L424.2 101.2L427.8 101.8L429.1 102.4L431.5 103L432.5 103.6L434.9 104.3L437.1 104.9L439.1 105.5L441.2 106.1L444.3 106.7L445.7 107.3L447.4 108L448.8 108.6L451.2 109.2L453.1 109.8L455.4 110.4L457.7 111L460.2 111.6L462.8 112.3L465.3 112.9L466.2 113.5L468.4 114.1L478.5 117.2L487.1 120.2L496.1 123.3L503.2 126.4L509.2 129.5L513.4 132.6L516.9 135.6L519.5 138.7L522.9 141.8L525.6 144.8L527.9 147.9L530 151L531 154.1L531.9 157.2L532.4 160.2L533 163.3L534.2 166.4L535.1 169.4L536.7 172.5L538.4 175.6L540.1 178.7L541.6 181.8L542.7 184.8L543.4 187.9L544.6 191L545 192L548 202.2L552.3 212.5L556.2 222.8L560.5 233L565.2 243.2L569.3 253.5L573.9 263.8L578.7 274L583.1 284.2L587.4 294.5L591.7 304.8L595.7 315L599.7 325.2L603.7 335.5L607.7 345.8L612 356L616.3 366.2L620.6 376.5L624.9 386.8L629 397L633 407.2L636.9 417.5L640.8 427.8L644.6 438L648.4 448.2L652.2 458.5L656 468.8L659.8 479L663.6 489.2L667.3 499.5" stroke="#ff5a00" stroke-width="1.0" fill="none" stroke-linejoin="round" />
<path d="M407.6 89.5L407 90.1L408 90.7L409.2 91.3L410.4 92L412.1 92.6L412.7 93.2L412.6 93.8L415.6 94.4L414.9 95L415.3 95.7L415.4 96.3L415.3 96.9L417.7 97.5L419.9 98.1L422.1 98.7L423.8 99.3L427.6 100L431.2 100.6L432.1 101.2L434.1 101.8L435 102.4L436 103L437.2 103.6L440.1 104.3L442.4 104.9L445.3 105.5L447.1 106.1L449.8 106.7L452 107.3L453.7 108L455.5 108.6L457.1 109.2L458.3 109.8L459.9 110.4L461.3 111L463.6 111.6L465.6 112.3L467.5 112.9L471.1 113.5L473.3 114.1L481.8 117.2L490.4 120.2L498.5 123.3L506.2 126.4L511.5 129.5L515.7 132.6L519.1 135.6L522.3 138.7L524.6 141.8L526.2 144.8L527.6 147.9L528.7 151L530.1 154.1L531.3 157.2L532.1 160.2L533.2 163.3L534.8 166.4L536.1 169.4L537.6 172.5L539.2 175.6L540.5 178.7L541.4 181.8L542.6 184.8L543.6 187.9L544.6 191L545 192L548.3 202.2L552.6 212.5L557 222.8L561.1 233L565.5 243.2L570.1 253.5L574.8 263.8L579.3 274L583.7 284.2L588.2 294.5L592.4 304.8L596.4 315L600.3 325.2L604.4 335.5L608.4 345.8L612.6 356L616.9 366.2L621.2 376.5L625.5 386.8L629.6 397L633.6 407.2L637.5 417.5L641.3 427.8L645.1 438L648.9 448.2L652.7 458.5L656.5 468.8L660.2 479L664 489.2L667.7 499.5" stroke="#ff6400" stroke-width="1.0" fill="none" stroke-linejoin="round" />
<path d="M397.3 89.5L397.4 90.1L396.6 90.7L396.7 91.3L397.3 92L397.5 92.6L400.1 93.2L398.3 93.8L398.7 94.4L397.6 95L398.1 95.7L397.1 96.3L398.1 96.9L397.5 97.5L399.2 98.1L400.4 98.7L401.8 99.3L402.1 100L405.5 100.6L406.3 101.2L406.9 101.8L410.2 102.4L411.6 103L412.6 103.6L415.2 104.3L417.1 104.9L419.9 105.5L421 106.1L423.4 106.7L425.6 107.3L429.8 108L432.5 108.6L434.2 109.2L436.6 109.8L439 110.4L440.8 111L442.4 111.6L444.5 112.3L446.6 112.9L448.3 113.5L451.2 114.1L458.5 117.2L463.8 120.2L474.4 123.3L486.6 126.4L499.3 129.5L507.2 132.6L512.6 135.6L517.2 138.7L520.6 141.8L524.5 144.8L526.2 147.9L527.9 151L529.7 154.1L530.7 157.2L532.3 160.2L532.9 163.3L534.8 166.4L535.9 169.4L536.9 172.5L537.7 175.6L538.9 178.7L540.2 181.8L541.1 184.8L542.7 187.9L544.1 191L544.2 192L547.8 202.2L550.7 212.5L555.3 222.8L559.8 233L563.9 243.2L568 253.5L572.5 263.8L577.3 274L581.8 284.2L586.1 294.5L590.3 304.8L594.4 315L598.4 325.2L602.3 335.5L606.4 345.8L610.7 356L615 366.2L619.3 376.5L623.6 386.8L627.8 397L631.9 407.2L635.8 417.5L639.7 427.8L643.6 438L647.5 448.2L651.3 458.5L655.2 468.8L659 479L662.8 489.2L666.6 499.5" stroke="#ff6e00" stroke-width="1.0" fill="none" stroke-linejoin="round" />
<path d="M411.5 89.5L409.3 90.1L407.7 90.7L403.7 91.3L402.2 92L402.5 92.6L403.8 93.2L404.5 93.8L404.6 94.4L403.2 95L402.7 95.7L402.3 96.3L402.3 96.9L404.5 97.5L406 98.1L407.3 98.7L407.2 99.3L408.5 100L409.8 100.6L412.5 101.2L414.9 101.8L417.3 102.4L418.9 103L420.9 103.6L421.6 104.3L424.1 104.9L427 105.5L428 106.1L430.1 106.7L431.7 107.3L434.4 108L436.9 108.6L439.4 109.2L440.3 109.8L443.1 110.4L444.6 111L446.1 111.6L447.6 112.3L450.1 112.9L451.1 113.5L453.3 114.1L459.7 117.2L467.5 120.2L478.4 123.3L490 126.4L502.5 129.5L509.8 132.6L515.5 135.6L518.5 138.7L521.4 141.8L524.1 144.8L525.8 147.9L526.8 151L528.2 154.1L530 157.2L531.8 160.2L533.3 163.3L535.3 166.4L537 169.4L538 172.5L539 175.6L539.6 178.7L540.3 181.8L541.2 184.8L542 187.9L543.1 191L543.7 192L548.4 202.2L552.3 212.5L556.1 222.8L560.9 233L565.8 243.2L569.9 253.5L574.5 263.8L579.3 274L583.7 284.2L588 294.5L592.3 304.8L596.4 315L600.3 325.2L604.2 335.5L608.4 345.8L612.6 356L616.8 366.2L621.2 376.5L625.4 386.8L629.5 397L633.5 407.2L637.4 417.5L641.2 427.8L645 438L648.8 448.2L652.6 458.5L656.4 468.8L660.2 479L663.9 489.2L667.6 499.5" stroke="#ff7800" stroke-width="1.0" fill="none" stroke-linejoin="round" />
<path d="M394.5 89.5L396.1 90.1L396.5 90.7L397 91.3L398.6 92L400.4 92.6L402.7 93.2L404.8 93.8L407.3 94.4L411.3 95L413.5 95.7L415.4 96.3L416.9 96.9L417.8 97.5L418.6 98.1L422.3 98.7L424.3 99.3L426.2 100L428.1 100.6L430.9 101.2L433.4 101.8L436.1 102.4L437.6 103L439.2 103.6L442.2 104.3L444.8 104.9L446.2 105.5L448.8 106.1L450.5 106.7L453.2 107.3L454.3 108L456.3 108.6L458.4 109.2L459.6 109.8L463 110.4L464.4 111L466.3 111.6L467.7 112.3L470.2 112.9L471.9 113.5L473.5 114.1L482.5 117.2L490.6 120.2L498.1 123.3L503.7 126.4L510.5 129.5L514.9 132.6L520.3 135.6L522.9 138.7L525.6 141.8L526.3 144.8L528 147.9L528.8 151L529.9 154.1L531.1 157.2L531.8 160.2L533.5 163.3L534.7 166.4L536 169.4L537.4 172.5L538.5 175.6L539.9 178.7L541.9 181.8L543 184.8L543.9 187.9L544.7 191L545 192L548 202.2L552 212.5L556 222.8L560.1 233L564.2 243.2L568.7 253.5L573.2 263.8L577.7 274L582.3 284.2L586.7 294.5L590.9 304.8L594.9 315L598.8 325.2L602.8 335.5L606.9 345.8L611.2 356L615.5 366.2L619.8 376.5L624.1 386.8L628.3 397L632.3 407.2L636.3 417.5L640.2 427.8L644 438L647.8 448.2L651.7 458.5L655.5 468.8L659.3 479L663.1 489.2L666.9 499.5" stroke="#ff8200" stroke-width="1.0" fill="none" stroke-linejoin="round" />
<path d="M393.5 89.5L393.8 90.1L392.6 90.7L395.9 91.3L398.2 92L399.6 92.6L402.6 93.2L404.7 93.8L405.9 94.4L407.4 95L407.3 95.7L409.9 96.3L409.2 96.9L411.6 97.5L415.3 98.1L418.6 98.7L421.2 99.3L422.5 100L424.9 100.6L427.3 101.2L428.7 101.8L430.9 102.4L433.8 103L436.8 103.6L440.2 104.3L443.2 104.9L446.2 105.5L448.1 106.1L450.1 106.7L451.1 107.3L452.5 108L453.9 108.6L456.8 109.2L457.9 109.8L460.7 110.4L462.3 111L465.1 111.6L467.1 112.3L468.7 112.9L469.4 113.5L471.2 114.1L481.5 117.2L489.5 120.2L499.2 123.3L504.9 126.4L510.4 129.5L513.9 132.6L517.3 135.6L520.1 138.7L523.5 141.8L526.2 144.8L528.1 147.9L529.5 151L530.2 154.1L530.9 157.2L531.9 160.2L533.4 163.3L534.8 166.4L536.7 169.4L538 172.5L539 175.6L539.7 178.7L540.4 181.8L541.2 184.8L543 187.9L544.5 191L545 192L549 202.2L553.4 212.5L557.3 222.8L562.4 233L567.3 243.2L571.5 253.5L576.3 263.8L581 274L585.5 284.2L589.7 294.5L594 304.8L598 315L602 325.2L606 335.5L610.1 345.8L614.2 356L618.5 366.2L622.7 376.5L626.9 386.8L631 397L634.9 407.2L638.8 417.5L642.6 427.8L646.3 438L650 448.2L653.8 458.5L657.5 468.8L661.2 479L664.9 489.2L668.6 499.5" stroke="#ff8c00" stroke-width="1.0" fill="none" stroke-linejoin="round" />
<path d="M390.9 89.5L395.3 90.1L398.1 90.7L399.5 91.3L400.4 92L400.3 92.6L402.4 93.2L404.2 93.8L406.5 94.4L408.8 95L412.3 95.7L413.2 96.3L417 96.9L419.2 97.5L423.1 98.1L424.2 98.7L427 99.3L427.7 100L428.6 100.6L431.5 101.2L432.8 101.8L434.9 102.4L436.5 103L438.7 103.6L440.3 104.3L443.2 104.9L445.1 105.5L448.1 106.1L448.8 106.7L450.7 107.3L452.2 108L453.4 108.6L455.7 109.2L457.2 109.8L458.2 110.4L460.2 111L462.5 111.6L464.4 112.3L466.9 112.9L468.7 113.5L471.2 114.1L480.8 117.2L490.7 120.2L499.1 123.3L505.5 126.4L513.2 129.5L516.2 132.6L519.4 135.6L522.2 138.7L523.6 141.8L524.8 144.8L526.6 147.9L527.6 151L529.7 154.1L531.3 157.2L532.4 160.2L534.1 163.3L535.5 166.4L536.7 169.4L537.7 172.5L538.5 175.6L539.6 178.7L540.8 181.8L541.7 184.8L543 187.9L544.5 191L544.8 192L548.8 202.2L552.7 212.5L556.8 222.8L561.2 233L565.7 243.2L570.4 253.5L574.8 263.8L579.3 274L583.9 284.2L588.3 294.5L592.4 304.8L596.5 315L600.5 325.2L604.5 335.5L608.5 345.8L612.8 356L617.1 366.2L621.3 376.5L625.6 386.8L629.7 397L633.7 407.2L637.6 417.5L641.4 427.8L645.2 438L649 448.2L652.8 458.5L656.6 468.8L660.3 479L664 489.2L667.8 499.5" stroke="#ff9600" stroke-width="1.0" fill="none" stroke-linejoin="round" />
<path d="M391.4 89.5L393.4 90.1L393.8 90.7L394.4 91.3L395.3 92L397.9 92.6L399.1 93.2L403.9 93.8L409.7 94.4L411.2 95L414.6 95.7L415.4 96.3L416 96.9L417.1 97.5L420.6 98.1L423.8 98.7L427.2 99.3L429.6 100L432.3 100.6L432.7 101.2L435.3 101.8L436.6 102.4L438.9 103L440.7 103.6L441.6 104.3L443.6 104.9L445 105.5L447.7 106.1L447.9 106.7L449.8 107.3L450.3 108L451.9 108.6L453.3 109.2L454.5 109.8L457.2 110.4L459.2 111L460.7 111.6L462.4 112.3L464.4 112.9L466.9 113.5L469.7 114.1L479.3 117.2L490 120.2L500.3 123.3L508.3 126.4L513.8 129.5L516.9 132.6L518.1 135.6L520.5 138.7L522.4 141.8L524.2 144.8L527.1 147.9L529.5 151L531.3 154.1L532.2 157.2L533.4 160.2L533.7 163.3L534.3 166.4L535.2 169.4L536.9 172.5L538.1 175.6L539.9 178.7L541.6 181.8L542.8 184.8L544 187.9L544.6 191L544.8 192L548.6 202.2L553.3 212.5L557.4 222.8L562.4 233L567 243.2L571.6 253.5L576.4 263.8L580.8 274L585.4 284.2L589.7 294.5L593.9 304.8L598 315L601.9 325.2L605.9 335.5L610 345.8L614.1 356L618.4 366.2L622.7 376.5L626.9 386.8L631 397L634.9 407.2L638.7 417.5L642.5 427.8L646.3 438L650 448.2L653.8 458.5L657.5 468.8L661.2 479L664.9 489.2L668.5 499.5" stroke="#ffa000" stroke-width="1.0" fill="none" stroke-linejoin="round" />
<path d="M392.7 89.5L393.2 90.1L393.7 90.7L394.1 91.3L393.8 92L395 92.6L396.8 93.2L398.6 93.8L398.5 94.4L397.9 95L398.2 95.7L398 96.3L397.7 96.9L398.1 97.5L398.5 98.1L400.5 98.7L400.8 99.3L403 100L405.1 100.6L406.9 101.2L408.2 101.8L410.3 102.4L411.1 103L413.3 103.6L415 104.3L415.9 104.9L418 105.5L419.7 106.1L422.4 106.7L424.5 107.3L427.4 108L429.3 108.6L431.9 109.2L433.4 109.8L436 110.4L438 111L439.8 111.6L440.3 112.3L443.2 112.9L444.1 113.5L445.8 114.1L452.9 117.2L461 120.2L474.1 123.3L487.4 126.4L501.3 129.5L508.6 132.6L512.9 135.6L515.8 138.7L519.3 141.8L522.7 144.8L525.3 147.9L527.6 151L529.3 154.1L530.8 157.2L532.3 160.2L533.5 163.3L534.6 166.4L535.9 169.4L537.3 172.5L538 175.6L538.8 178.7L539.8 181.8L540.9 184.8L542.4 187.9L543.9 191L544.5 192L547.9 202.2L551.8 212.5L556.4 222.8L561.2 233L565.7 243.2L570.3 253.5L575 263.8L579.4 274L584 284.2L588.3 294.5L592.5 304.8L596.6 315L600.6 325.2L604.6 335.5L608.6 345.8L612.8 356L617.1 366.2L621.4 376.5L625.6 386.8L629.8 397L633.7 407.2L637.6 417.5L641.5 427.8L645.2 438L649 448.2L652.8 458.5L656.6 468.8L660.4 479L664.1 489.2L667.8 499.5" stroke="#ffaa00" stroke-width="1.0" fill="none" stroke-linejoin="round" />
<path d="M420.5 89.5L418.2 90.1L418.4 90.7L421 91.3L423.1 92L424.4 92.6L424.5 93.2L424.7 93.8L426.8 94.4L428.4 95L431 95.7L434 96.3L434.2 96.9L434.6 97.5L437.6 98.1L440.5 98.7L443.7 99.3L445.8 100L448.9 100.6L449.7 101.2L450.8 101.8L453.7 102.4L456 103L458.2 103.6L460.3 104.3L461.9 104.9L463.5 105.5L464.9 106.1L468 106.7L468.8 107.3L470.9 108L473.5 108.6L474.5 109.2L476.4 109.8L477.4 110.4L479.7 111L480.9 111.6L483.1 112.3L485.3 112.9L486.8 113.5L488.4 114.1L496.6 117.2L503.7 120.2L510.3 123.3L515.8 126.4L520.4 129.5L522.8 132.6L525.4 135.6L527.6 138.7L528.6 141.8L529.6 144.8L531 147.9L532.3 151L533.6 154.1L534.8 157.2L535.8 160.2L536.7 163.3L537.9 166.4L539 169.4L539.9 172.5L541.2 175.6L542.8 178.7L543.9 181.8L544.9 184.8L546.2 187.9L547.2 191L547.4 192L549.7 202.2L552.7 212.5L556.4 222.8L559.8 233L563.2 243.2L567.2 253.5L571.6 263.8L576.2 274L580.8 284.2L585.3 294.5L589.5 304.8L593.5 315L597.5 325.2L601.5 335.5L605.5 345.8L609.8 356L614.2 366.2L618.6 376.5L622.9 386.8L627.1 397L631.2 407.2L635.2 417.5L639.1 427.8L643 438L646.9 448.2L650.8 458.5L654.6 468.8L658.5 479L662.3 489.2L666.1 499.5" stroke="#ffb300" stroke-width="1.0" fill="none" stroke-linejoin="round" />
<path d="M415 89.5L416.9 90.1L419.6 90.7L419.8 91.3L419 92L417.8 92.6L416 93.2L414.6 93.8L416.6 94.4L416.4 95L417.1 95.7L419 96.3L420.1 96.9L421.6 97.5L423.4 98.1L425.6 98.7L427.3 99.3L428.8 100L431.3 100.6L432.2 101.2L434.6 101.8L436.3 102.4L440 103L442.5 103.6L445.1 104.3L447.7 104.9L450.4 105.5L452.5 106.1L454.1 106.7L456.6 107.3L457.2 108L458.6 108.6L461.4 109.2L463.7 109.8L464.4 110.4L467.8 111L470 111.6L472 112.3L474.4 112.9L476 113.5L477.7 114.1L486.2 117.2L494.7 120.2L501.2 123.3L507.2 126.4L511.3 129.5L515.5 132.6L518.7 135.6L522.2 138.7L525 141.8L527.6 144.8L529.6 147.9L531 151L532.3 154.1L532.4 157.2L532.8 160.2L533.4 163.3L534.3 166.4L535.7 169.4L537.2 172.5L539 175.6L540.8 178.7L542.4 181.8L543.8 184.8L544.7 187.9L545.5 191L545.8 192L548.3 202.2L552.1 212.5L556.4 222.8L560.1 233L564.2 243.2L568.7 253.5L573.2 263.8L577.7 274L582.2 284.2L586.6 294.5L590.9 304.8L594.9 315L598.9 325.2L602.9 335.5L606.9 345.8L611.2 356L615.5 366.2L619.8 376.5L624.1 386.8L628.3 397L632.3 407.2L636.3 417.5L640.2 427.8L644 438L647.8 448.2L651.7 458.5L655.5 468.8L659.3 479L663.1 489.2L666.9 499.5" stroke="#ffbd00" stroke-width="1.0" fill="none" stroke-linejoin="round" />
<path d="M430 89.5L427.3 90.1L423.8 90.7L424.2 91.3L423.2 92L423.5 92.6L424.9 93.2L425.8 93.8L425.1 94.4L424.8 95L425.3 95.7L425.6 96.3L426.6 96.9L428.6 97.5L429.8 98.1L429.9 98.7L430.9 99.3L433.5 100L435.3 100.6L439.6 101.2L441.2 101.8L442.1 102.4L444.2 103L447 103.6L449.2 104.3L452.3 104.9L454.5 105.5L455.7 106.1L456.6 106.7L458.7 107.3L460 108L462.9 108.6L464.2 109.2L465.7 109.8L467.9 110.4L468.9 111L471.2 111.6L474.8 112.3L475.1 112.9L476.5 113.5L479.5 114.1L487.7 117.2L494.9 120.2L503.6 123.3L510.6 126.4L516.6 129.5L520.2 132.6L522.7 135.6L524.8 138.7L525.2 141.8L526.4 144.8L528.2 147.9L529.5 151L531 154.1L532.4 157.2L534.2 160.2L535.2 163.3L537 166.4L538.2 169.4L539.6 172.5L540.4 175.6L540.9 178.7L541.7 181.8L542.6 184.8L543.9 187.9L545.3 191L545.5 192L549.9 202.2L553.2 212.5L557.1 222.8L561.6 233L566.3 243.2L570.3 253.5L574.8 263.8L579.5 274L584.1 284.2L588.3 294.5L592.6 304.8L596.7 315L600.6 325.2L604.6 335.5L608.7 345.8L612.9 356L617.1 366.2L621.5 376.5L625.7 386.8L629.8 397L633.8 407.2L637.7 417.5L641.5 427.8L645.3 438L649.1 448.2L652.9 458.5L656.6 468.8L660.4 479L664.1 489.2L667.8 499.5" stroke="#ffc700" stroke-width="1.0" fill="none" stroke-linejoin="round" />
<path d="M414 89.5L413.5 90.1L415.7 90.7L416.3 91.3L418.7 92L420.1 92.6L418 93.2L416.7 93.8L416.5 94.4L417 95L415.4 95.7L418.4 96.3L420.6 96.9L422.9 97.5L425.2 98.1L426.3 98.7L429.7 99.3L429.8 100L431.7 100.6L435.2 101.2L437.5 101.8L439.1 102.4L441.7 103L444.5 103.6L447 104.3L449.7 104.9L452.4 105.5L453.5 106.1L456.3 106.7L458.9 107.3L460.4 108L461.9 108.6L463.8 109.2L465.3 109.8L468.2 110.4L469.3 111L471 111.6L473.6 112.3L475.4 112.9L476.5 113.5L478.4 114.1L486.1 117.2L494.2 120.2L500.7 123.3L506.7 126.4L512.5 129.5L517.3 132.6L521.4 135.6L523.1 138.7L525.7 141.8L527.2 144.8L528.3 147.9L529.7 151L531 154.1L532.6 157.2L533.9 160.2L534.8 163.3L535.8 166.4L536.9 169.4L537.6 172.5L539.2 175.6L540.5 178.7L541.8 181.8L543.1 184.8L544.2 187.9L545.5 191L545.4 192L549 202.2L552.9 212.5L556.7 222.8L561.3 233L565.7 243.2L570.1 253.5L574.7 263.8L579 274L583.8 284.2L588.1 294.5L592.3 304.8L596.3 315L600.3 325.2L604.4 335.5L608.4 345.8L612.6 356L616.9 366.2L621.2 376.5L625.4 386.8L629.5 397L633.5 407.2L637.4 417.5L641.3 427.8L645.1 438L648.8 448.2L652.7 458.5L656.4 468.8L660.2 479L663.9 489.2L667.7 499.5" stroke="#ffd100" stroke-width="1.0" fill="none" stroke-linejoin="round" />
<path d="M407.1 89.5L410 90.1L411.7 90.7L414.1 91.3L415.2 92L416.8 92.6L417.3 93.2L415.9 93.8L416.2 94.4L418.7 95L421.8 95.7L426.8 96.3L428.8 96.9L429.8 97.5L431.7 98.1L432.8 98.7L435.4 99.3L439 100L440.7 100.6L444 101.2L446.7 101.8L449.5 102.4L451.2 103L452.5 103.6L454.2 104.3L457.9 104.9L460.4 105.5L462.5 106.1L464.2 106.7L465.5 107.3L466.5 108L469.4 108.6L471 109.2L474.1 109.8L474.7 110.4L476.8 111L478.2 111.6L481 112.3L482.2 112.9L484.2 113.5L485.5 114.1L493.6 117.2L500.5 120.2L506 123.3L511.3 126.4L515.9 129.5L519.5 132.6L522.9 135.6L525.3 138.7L527.2 141.8L528.5 144.8L530.2 147.9L531.5 151L533.3 154.1L534.3 157.2L535 160.2L535.7 163.3L536.2 166.4L537.4 169.4L538.8 172.5L540.4 175.6L542.2 178.7L543.4 181.8L544.3 184.8L545.1 187.9L546 191L546.4 192L549.7 202.2L552.6 212.5L556.5 222.8L560.5 233L564.2 243.2L568.4 253.5L572.7 263.8L577.6 274L581.9 284.2L586.4 294.5L590.6 304.8L594.7 315L598.6 325.2L602.6 335.5L606.7 345.8L610.9 356L615.3 366.2L619.6 376.5L623.9 386.8L628.1 397L632.1 407.2L636.1 417.5L640 427.8L643.8 438L647.7 448.2L651.5 458.5L655.4 468.8L659.2 479L663 489.2L666.7 499.5" stroke="#ffdb00" stroke-width="1.0" fill="none" stroke-linejoin="round" />
<path d="M402.3 89.5L405.9 90.1L406.6 90.7L407.3 91.3L407.7 92L407.6 92.6L409.9 93.2L412.7 93.8L416.5 94.4L418.4 95L419.5 95.7L420.7 96.3L422.4 96.9L426 97.5L428 98.1L430.2 98.7L432 99.3L433.5 100L434.8 100.6L439.2 101.2L442.1 101.8L441.7 102.4L443.7 103L445.5 103.6L448 104.3L449.2 104.9L451.8 105.5L454.3 106.1L455.4 106.7L456 107.3L457.6 108L458 108.6L461.2 109.2L460.9 109.8L463.8 110.4L464.5 111L466.4 111.6L468.6 112.3L470.6 112.9L472.8 113.5L474.4 114.1L482.7 117.2L490.6 120.2L500.4 123.3L508.1 126.4L513.9 129.5L518.9 132.6L522.9 135.6L525.6 138.7L527 141.8L528.1 144.8L528.5 147.9L529.4 151L529.5 154.1L530.6 157.2L531.8 160.2L533.6 163.3L535.3 166.4L537.3 169.4L539 172.5L540.5 175.6L541.4 178.7L542.4 181.8L543.4 184.8L544.2 187.9L544.8 191L545 192L548.2 202.2L552.3 212.5L556.2 222.8L559.5 233L563.6 243.2L568.2 253.5L572.5 263.8L576.9 274L581.6 284.2L586.1 294.5L590.2 304.8L594.2 315L598.2 325.2L602.2 335.5L606.3 345.8L610.5 356L614.9 366.2L619.2 376.5L623.5 386.8L627.7 397L631.8 407.2L635.7 417.5L639.6 427.8L643.5 438L647.4 448.2L651.2 458.5L655.1 468.8L658.9 479L662.7 489.2L666.5 499.5" stroke="#ffe500" stroke-width="1.0" fill="none" stroke-linejoin="round" />
<path d="M411.8 89.5L411.3 90.1L409.5 90.7L409.1 91.3L410.2 92L413.8 92.6L414.3 93.2L417 93.8L419.4 94.4L421.8 95L422.7 95.7L423.7 96.3L427.1 96.9L427.9 97.5L430.5 98.1L432.5 98.7L435.9 99.3L438.1 100L440.5 100.6L444.3 101.2L445.7 101.8L448.3 102.4L450.6 103L452.4 103.6L455.2 104.3L457.5 104.9L459.4 105.5L461.4 106.1L462.4 106.7L463.6 107.3L465.4 108L467.2 108.6L469.8 109.2L470.1 109.8L472.5 110.4L474.3 111L475.6 111.6L477 112.3L478 112.9L480.3 113.5L482.6 114.1L489.5 117.2L497.3 120.2L505.9 123.3L512.4 126.4L517.4 129.5L520.8 132.6L523.1 135.6L524.9 138.7L526.4 141.8L527.2 144.8L528.7 147.9L530.9 151L532.6 154.1L534.3 157.2L535.3 160.2L536.1 163.3L536.6 166.4L537.6 169.4L539.1 172.5L540.7 175.6L542 178.7L543.2 181.8L544.4 184.8L544.9 187.9L545.4 191L545.8 192L549.4 202.2L552.8 212.5L555.7 222.8L560.1 233L563.7 243.2L567.9 253.5L572.3 263.8L576.6 274L581.5 284.2L585.8 294.5L589.9 304.8L594.1 315L598 325.2L602 335.5L606.1 345.8L610.3 356L614.7 366.2L619 376.5L623.4 386.8L627.6 397L631.6 407.2L635.6 417.5L639.5 427.8L643.3 438L647.2 448.2L651.1 458.5L654.9 468.8L658.8 479L662.6 489.2L666.4 499.5" stroke="#ffef00" stroke-width="1.0" fill="none" stroke-linejoin="round" />
<path d="M418.4 89.5L418.2 90.1L417.1 90.7L415.8 91.3L417.6 92L419 92.6L418.9 93.2L419.7 93.8L420.3 94.4L420.6 95L421.9 95.7L422.3 96.3L424 96.9L425 97.5L426.8 98.1L428.6 98.7L430.6 99.3L431.6 100L433.5 100.6L435.8 101.2L439.5 101.8L440.8 102.4L444 103L446.1 103.6L446.8 104.3L448.5 104.9L451.1 105.5L452.6 106.1L454.6 106.7L456.7 107.3L458.6 108L460.7 108.6L462.6 109.2L464.9 109.8L465.6 110.4L469 111L470.8 111.6L472.3 112.3L474.2 112.9L476.1 113.5L478.7 114.1L488.4 117.2L496.3 120.2L503.6 123.3L510.1 126.4L514.4 129.5L517.6 132.6L520.4 135.6L522.9 138.7L525.3 141.8L527 144.8L528.8 147.9L530.1 151L531.9 154.1L532.3 157.2L534 160.2L535.5 163.3L536 166.4L537.4 169.4L538.5 172.5L539.9 175.6L541 178.7L542.1 181.8L543.1 184.8L543.9 187.9L545.3 191L545.8 192L548.9 202.2L551.9 212.5L555.7 222.8L559.3 233L563.2 243.2L567.4 253.5L571.7 263.8L576.4 274L581 284.2L585.4 294.5L589.6 304.8L593.7 315L597.6 325.2L601.6 335.5L605.7 345.8L609.9 356L614.3 366.2L618.7 376.5L623 386.8L627.2 397L631.3 407.2L635.2 417.5L639.2 427.8L643.1 438L646.9 448.2L650.8 458.5L654.7 468.8L658.5 479L662.4 489.2L666.2 499.5" stroke="#fff900" stroke-width="1.0" fill="none" stroke-linejoin="round" />
<path d="M408 89.5L407.2 90.1L406.7 90.7L407.3 91.3L407.6 92L407 92.6L407 93.2L408.5 93.8L410 94.4L410.9 95L412.1 95.7L412.4 96.3L413.5 96.9L413.8 97.5L415.5 98.1L417.3 98.7L417.2 99.3L420.5 100L422.6 100.6L424 101.2L425.7 101.8L427.5 102.4L430.9 103L432.6 103.6L434.9 104.3L435.9 104.9L437.9 105.5L439.8 106.1L441.7 106.7L443.9 107.3L445.3 108L447.1 108.6L448.6 109.2L451.3 109.8L453.7 110.4L455 111L457.5 111.6L459.7 112.3L461.6 112.9L463.6 113.5L465.6 114.1L474.3 117.2L483 120.2L491.7 123.3L500.2 126.4L508.7 129.5L513.4 132.6L518.4 135.6L520.5 138.7L522.8 141.8L524.4 144.8L526.2 147.9L528 151L529.9 154.1L531.9 157.2L532.9 160.2L533.7 163.3L534.5 166.4L535.2 169.4L536.5 172.5L538.2 175.6L539.7 178.7L541.5 181.8L542.9 184.8L543.9 187.9L544.4 191L544.6 192L547.5 202.2L552.1 212.5L555.4 222.8L559.7 233L563.9 243.2L568.2 253.5L572.8 263.8L577.2 274L581.8 284.2L586.3 294.5L590.5 304.8L594.4 315L598.5 325.2L602.4 335.5L606.5 345.8L610.8 356L615.1 366.2L619.5 376.5L623.8 386.8L627.9 397L632 407.2L635.9 417.5L639.8 427.8L643.7 438L647.5 448.2L651.4 458.5L655.2 468.8L659.1 479L662.9 489.2L666.6 499.5" stroke="#fbff04" stroke-width="1.0" fill="none" stroke-linejoin="round" />
<path d="M478.7 91.5L465.3 90.6L466.4 89.5L473.7 90.2L474.6 92.4L465.2 93.8L458.9 93.5L460.2 93L465.1 93.7L466.5 95.3L459.7 96.4L456 96.5L457.4 96.4L460.7 97L461.5 98.3L459.1 99.2L458.6 99.5L461 99.7L465.6 100.3L467.1 101.3L469.3 102.1L467.9 102.5L471.4 102.9L475.2 103.5L478.9 104.3L479.8 105L481 105.6L482.4 106L485.3 106.6L487.5 107.4L488.5 108.1L489.4 108.6L491.4 109.1L492.7 109.7L494.4 110.4L496.3 111.1L497.1 111.7L498.8 112.2L501 112.8L502.8 113.5L503.8 114.1L510.4 117.2L515.8 120.3L520 123.3L523.2 126.4L524.6 129.5L526.7 132.6L529.1 135.6L532.4 138.7L533.8 141.8L534.8 144.9L535.4 147.9L535.6 151L535.7 154.1L537.1 157.2L538.7 160.2L540 163.3L541.1 166.4L542.2 169.5L542.7 172.5L543.3 175.6L544.2 178.7L545.5 181.8L546.8 184.8L548.2 187.9L549.1 191L549.4 192L552.6 202.2L556.7 212.5L559.7 222.8L564.6 233L568.5 243.3L572.8 253.5L577.1 263.7L581.9 274L586.5 284.2L590.7 294.5L595 304.8L599.1 315L603.1 325.2L607 335.5L611.1 345.8L615.3 356L619.5 366.2L623.7 376.5L627.9 386.8L631.9 397L635.8 407.2L639.6 417.5L643.4 427.8L647.1 438L650.8 448.2L654.5 458.5L658.2 468.8L661.9 479L665.5 489.2L669.2 499.5" stroke="#f1ff0e" stroke-width="1.0" fill="none" stroke-linejoin="round" />
<path d="M484.7 89.5L487.8 90L479.7 92.2L466.8 92.6L461.2 91.7L465.8 91.4L471.2 92.5L470 94.2L462.5 95.3L456.3 95.4L456.1 95.2L458.2 95.6L460.9 96.8L457.9 98L456.6 98.5L454.9 98.7L456.8 99L460.5 99.7L463.7 100.7L462.9 101.5L464.9 101.9L467.9 102.3L471 102.8L474.5 103.6L476.9 104.4L479 105L481.5 105.5L484.6 106L486.8 106.6L489.4 107.4L490.3 108.1L491 108.6L494.8 109.1L495.9 109.7L497.3 110.4L499.7 111.1L500.5 111.7L502.2 112.3L504.1 112.8L505.2 113.5L506.3 114.1L512.7 117.2L516.4 120.2L519.9 123.3L523.7 126.4L526.1 129.5L527.6 132.6L529.7 135.6L531.6 138.7L532.5 141.8L533.8 144.9L534.5 147.9L536.3 151L537.5 154.1L538.4 157.1L539.6 160.2L540 163.3L541.1 166.4L541.6 169.5L542.5 172.5L543.2 175.6L544.5 178.7L545.4 181.7L546.9 184.8L548.4 187.9L549.5 191L549.9 192L552.7 202.2L556.3 212.5L560.9 222.7L564.7 233L568.7 243.2L573.5 253.5L577.8 263.7L582.2 274L586.9 284.2L591.4 294.5L595.5 304.8L599.5 315L603.6 325.2L607.5 335.5L611.6 345.8L615.7 356L620 366.2L624.2 376.5L628.3 386.8L632.4 397L636.2 407.2L640 417.5L643.8 427.8L647.5 438L651.1 448.2L654.8 458.5L658.5 468.8L662.2 479L665.8 489.2L669.4 499.5" stroke="#e7ff18" stroke-width="1.0" fill="none" stroke-linejoin="round" />
<path d="M474.2 89.5L480.6 89.5L480.7 91.4L473.2 92.9L464.7 92.7L464.5 92L467.7 92.1L471.3 93.4L466.4 95L458.2 95.9L453.3 95.9L454.2 95.8L457.1 96.3L458.9 97.4L458.5 98.5L456.1 99.1L454.5 99.4L457.2 99.6L461.1 100.3L462.7 101.2L462.2 102.1L462.9 102.6L464 103L467.1 103.4L471.5 104.1L474 104.9L475 105.6L476.3 106.2L478.1 106.7L480.7 107.2L483.4 107.9L485.6 108.6L486.6 109.3L487.2 109.8L490.3 110.4L490.7 111L492.1 111.6L493.5 112.3L494.8 112.9L496.5 113.5L498.7 114.1L505.1 117.2L511.2 120.3L516.8 123.3L520.8 126.4L524.3 129.5L526.8 132.5L529.3 135.6L530.5 138.7L531.4 141.8L531.5 144.9L533 147.9L533.9 151L535 154.1L536.3 157.1L537.4 160.2L539 163.3L539.9 166.4L541.6 169.5L542.1 172.5L543 175.6L544 178.7L544.3 181.7L545.7 184.8L546.3 187.9L547.6 191L548 192L552.1 202.2L555.4 212.5L558.6 222.8L563 233L567.2 243.3L571.1 253.5L575.6 263.7L580.4 274L584.9 284.2L589.2 294.5L593.5 304.8L597.5 315L601.5 325.2L605.5 335.5L609.5 345.8L613.7 356L618 366.2L622.3 376.5L626.5 386.8L630.6 397L634.5 407.2L638.4 417.5L642.2 427.8L645.9 438L649.7 448.2L653.5 458.5L657.2 468.8L660.9 479L664.6 489.2L668.3 499.5" stroke="#deff21" stroke-width="1.0" fill="none" stroke-linejoin="round" />
<path d="M478.5 89.5L475.1 91.3L458.8 92.1L452.8 90.6L460.1 90.7L463.8 93L452.7 94.3L448 93.6L453.4 93.5L456.8 95.1L451.4 96.4L448.2 96.3L451.2 96.3L453.5 97.4L450.6 98.6L448.5 98.9L450.8 99L455.7 99.8L456.8 100.9L457.1 101.4L459.4 101.6L464.5 102.2L466.5 103.2L468.4 103.8L472.1 104.2L475.4 104.7L477.7 105.6L479.7 106.2L481.4 106.7L485.3 107.2L486.6 108L488.5 108.7L490 109.2L491.2 109.7L493.5 110.4L495.3 111.1L496 111.7L497.1 112.2L498.3 112.9L499.8 113.5L500.7 114.1L505.2 117.2L508.4 120.2L512.6 123.3L517.5 126.4L522.3 129.5L526.5 132.5L529.9 135.6L531.7 138.7L532.2 141.8L532.1 144.9L532.3 147.9L532.9 151L534.6 154.1L536.1 157.2L537.7 160.2L538.7 163.3L540.2 166.4L540.8 169.4L541.7 172.5L542.8 175.6L543.7 178.7L544.7 181.7L545.9 184.8L546.6 187.9L547.7 191L548 192L551.9 202.2L555 212.5L558.3 222.7L563 233L566.5 243.2L570.7 253.5L575.4 263.7L579.7 274L584.3 284.2L588.8 294.5L593 304.8L597 315L601 325.2L605 335.5L609 345.8L613.3 356L617.6 366.2L621.8 376.5L626.1 386.8L630.2 397L634.1 407.2L638 417.5L641.8 427.8L645.6 438L649.4 448.2L653.1 458.5L656.9 468.8L660.6 479L664.3 489.2L668 499.5" stroke="#d4ff2b" stroke-width="1.0" fill="none" stroke-linejoin="round" />
<path d="M477.4 89.5L486 89.5L483.9 91.7L472.4 92.8L461.4 92L465.4 91.4L468.9 92.6L467.3 94.4L458.9 95.3L453 95L456.6 94.9L460.6 95.9L459.7 97.3L456.6 98L453.6 98L455.9 98.3L457.1 99.2L457.7 100.2L455.3 100.9L457.7 101.1L461.2 101.5L465.7 102.3L467.8 103.2L468.9 103.8L471.5 104.2L475.7 104.7L478.6 105.5L481.9 106.2L482.5 106.8L483.7 107.3L486.3 107.8L488.9 108.5L490.8 109.3L491.4 109.8L494.4 110.4L495.6 111L497.7 111.6L499.9 112.3L500.8 112.9L502.7 113.5L504.3 114.1L510.4 117.2L515.6 120.2L518.5 123.3L522.5 126.4L524.4 129.5L526.5 132.5L529 135.6L530.6 138.7L532.8 141.8L533.6 144.8L534.2 147.9L535.5 151L536.5 154.1L537.2 157.1L538 160.2L539.4 163.3L540.4 166.4L541.5 169.5L542.2 172.5L543.6 175.6L544.4 178.7L545.6 181.8L546.3 184.8L547.3 187.9L548.4 191L548.7 192L552.3 202.2L555.6 212.5L559.1 222.7L563.1 233L567.1 243.3L571.2 253.5L575.5 263.8L580.2 274L584.8 284.2L589.2 294.5L593.4 304.8L597.5 315L601.4 325.2L605.4 335.5L609.5 345.8L613.7 356L617.9 366.2L622.2 376.5L626.4 386.8L630.5 397L634.5 407.2L638.3 417.5L642.1 427.8L645.9 438L649.6 448.2L653.4 458.5L657.1 468.8L660.9 479L664.6 489.2L668.3 499.5" stroke="#caff35" stroke-width="1.0" fill="none" stroke-linejoin="round" />
<path d="M454.1 89.5L461.1 89.5L467.3 89.5L468.9 91.5L463.9 93.1L455.9 93.7L452.5 93.4L454.9 93.1L459.5 93.5L460.4 94.7L459.3 96L454.9 96.9L452.8 97.3L452.6 97.3L456.8 97.6L460.6 98.4L461.7 99.4L463.9 100.3L465.1 100.9L467.7 101.3L471.5 101.6L475.4 102.2L480.5 102.9L481.1 103.7L483.5 104.4L485.4 105L489.2 105.5L491.8 106L494.8 106.6L497.9 107.3L499.3 108L499.3 108.7L500.1 109.2L502.6 109.7L503.8 110.3L506.5 111L506.9 111.7L508.9 112.3L509.5 112.9L510.3 113.5L511 114.1L514.9 117.2L518.6 120.3L521.5 123.3L524.8 126.4L527.2 129.5L530.4 132.6L532.2 135.6L534.3 138.7L535.2 141.8L535.7 144.9L536.4 147.9L537.2 151L537.7 154.1L538.7 157.2L540 160.2L540.9 163.3L541.7 166.4L542.9 169.5L543.6 172.5L544.2 175.6L545.3 178.7L546.1 181.7L547.4 184.8L548.9 187.9L550 191L550.5 192L553.5 202.2L555.9 212.5L559.6 222.7L563.6 233L567.3 243.2L571.1 253.5L575.6 263.7L580.3 274L584.9 284.2L589.1 294.5L593.4 304.8L597.6 315L601.5 325.2L605.4 335.5L609.5 345.8L613.7 356L618 366.2L622.3 376.5L626.5 386.8L630.6 397L634.5 407.2L638.4 417.5L642.1 427.8L645.9 438L649.7 448.2L653.4 458.5L657.2 468.8L660.9 479L664.6 489.2L668.3 499.5" stroke="#c0ff3f" stroke-width="1.0" fill="none" stroke-linejoin="round" />
<path d="M471.6 91.5L462.1 90.2L469.8 89.5L479.2 90.5L479.6 92.8L469 93.7L461.1 93.1L463.1 92.8L466 93.9L464.4 95.6L461.2 96.3L459.8 96.2L463.4 96.3L465.3 97.2L463.1 98.5L459.9 99.1L460.7 99.3L466 99.6L471.6 100.4L475.4 101.4L475.7 102L477.7 102.4L481.8 102.8L485.9 103.6L489.3 104.4L492.5 105L495.2 105.4L498.6 106L500.9 106.7L502.5 107.4L503.4 108L505.4 108.5L508.2 109.1L509.3 109.8L509.4 110.5L511.4 111.1L511.2 111.6L512.9 112.2L513.7 112.9L514.9 113.5L515.2 114.1L519.8 117.2L523.8 120.3L527.3 123.3L530.7 126.4L533.4 129.5L533.9 132.6L535 135.6L535.1 138.7L535.3 141.8L536.2 144.9L537.2 147.9L538.3 151L539.5 154.1L540.3 157.1L541.4 160.2L543.1 163.3L544.1 166.4L544.8 169.4L544.9 172.5L545.5 175.6L545.6 178.7L547.1 181.7L548.6 184.8L550.3 187.9L551.3 191L551.6 192L553.9 202.3L556 212.5L559.1 222.8L562.6 233L565.4 243.2L569.4 253.5L573.5 263.7L578.1 274L582.7 284.2L587.4 294.5L591.5 304.8L595.6 315L599.5 325.2L603.5 335.5L607.6 345.8L611.9 356L616.1 366.2L620.5 376.5L624.8 386.8L628.9 397L632.9 407.2L636.8 417.5L640.7 427.8L644.5 438L648.3 448.2L652.1 458.5L655.9 468.8L659.7 479L663.5 489.2L667.2 499.5" stroke="#b6ff49" stroke-width="1.0" fill="none" stroke-linejoin="round" />
<path d="M473.5 91.5L459.5 90.9L461 89.5L468.5 90.1L470.8 92.4L463.1 93.8L456.1 93.5L461.1 92.9L463 93.7L461.4 95.4L454.7 96.4L451.5 96.3L454.9 96.3L459.3 97.1L460.9 98.4L458.4 99.2L456.1 99.3L460.1 99.6L464.1 100.4L466.4 101.4L467.7 102L469.4 102.4L474.2 102.8L477.9 103.6L480.6 104.4L479.9 105L482.4 105.4L485.6 106L488.9 106.7L489.6 107.4L490.7 108L490.7 108.5L493.6 109.1L495.9 109.8L496.9 110.5L498 111.1L499 111.6L501.2 112.2L501.8 112.9L502.8 113.5L502.9 114.1L509 117.2L513.2 120.3L518.6 123.3L522.6 126.4L526.2 129.5L529.5 132.5L532.1 135.6L533 138.7L533.8 141.8L534 144.8L534.1 147.9L535.3 151L535.8 154.1L537.1 157.1L538.3 160.2L539.7 163.3L541.1 166.4L541.7 169.4L542.9 172.5L543.7 175.6L544.8 178.7L545.8 181.8L546.8 184.8L548 187.9L548.8 191L549.4 192L552.3 202.2L555.7 212.5L559.5 222.7L563.4 233L567.2 243.2L571.4 253.5L575.8 263.8L580.5 274L585 284.2L589.3 294.5L593.7 304.8L597.7 315L601.6 325.2L605.7 335.5L609.7 345.8L613.9 356L618.2 366.2L622.4 376.5L626.6 386.8L630.7 397L634.7 407.2L638.5 417.5L642.3 427.8L646 438L649.8 448.2L653.6 458.5L657.3 468.8L661 479L664.7 489.2L668.4 499.5" stroke="#acff53" stroke-width="1.0" fill="none" stroke-linejoin="round" />
<path d="M470.9 90.8L466.2 89.5L472.4 89.5L477.7 91.3L470.8 93.2L464.4 93.3L462.5 92.6L467.7 92.8L468.1 94.4L462.4 95.8L454.8 96.1L454.2 95.9L457.8 96.3L460.1 97.5L456.9 98.6L455.7 99L455.7 99.1L461.7 99.6L465.4 100.6L467.7 101.5L468.2 102L470.7 102.3L475.4 102.8L479 103.7L481.7 104.4L485.1 105L488.5 105.4L492.2 106L495.6 106.7L496.5 107.4L497.6 108L499.2 108.5L501.2 109.1L502.6 109.8L503.9 110.5L504.6 111.1L506.5 111.6L507.6 112.2L508.9 112.9L508.9 113.5L510 114.1L513.2 117.2L517.3 120.3L521.9 123.3L525.4 126.4L529.5 129.5L531.1 132.6L532.4 135.6L532.5 138.7L533.4 141.8L535.1 144.9L536.3 147.9L537.4 151L538 154.1L538.4 157.2L539.2 160.2L540.1 163.3L541.4 166.4L542.6 169.4L543.8 172.5L544.8 175.6L545.6 178.7L546.3 181.7L547 184.8L548.2 187.9L549.6 191L550.1 192L553.2 202.3L555.6 212.5L559.6 222.7L562.8 233L566.8 243.2L570.9 253.5L575.3 263.8L579.7 274L584.5 284.2L588.9 294.5L593.1 304.8L597.1 315L601.1 325.2L605.1 335.5L609.2 345.8L613.4 356L617.6 366.2L621.9 376.5L626.1 386.8L630.2 397L634.2 407.2L638.1 417.5L641.9 427.8L645.6 438L649.4 448.2L653.2 458.5L656.9 468.8L660.7 479L664.4 489.2L668.1 499.5" stroke="#a2ff5d" stroke-width="1.0" fill="none" stroke-linejoin="round" />
<path d="M474.9 89.5L476.1 90.4L465.5 92.4L453.3 92L454.6 91L462.8 91.5L465.8 93.4L459.6 94.8L452.7 94.8L454.5 94.4L458.5 95L462.5 96.4L459.1 97.5L455.6 97.7L456.2 97.7L460.3 98.3L463.4 99.4L463.6 100.3L465.6 100.7L470.2 100.9L474.6 101.6L477.8 102.5L480.7 103.3L482.2 103.7L485.8 104.1L489.1 104.7L492.4 105.5L492.6 106.2L495 106.8L497.5 107.2L500.1 107.9L501.6 108.6L503 109.3L503.9 109.8L506 110.4L507.3 111L508.9 111.7L510.3 112.3L510.8 112.9L512 113.4L514.1 114.1L518.3 117.2L522.2 120.2L524.6 123.3L525.8 126.4L527.6 129.5L529.6 132.5L531.9 135.6L535 138.7L535.8 141.8L537.3 144.8L538.1 147.9L538.2 151L538.6 154.1L539.5 157.1L539.9 160.2L541.2 163.3L542.3 166.4L543.5 169.4L544.2 172.5L544.7 175.6L545.9 178.7L546.9 181.8L548.3 184.8L549.5 187.9L550.6 191L550.4 192L553.3 202.2L555.7 212.5L558.6 222.8L562.3 233L565.5 243.3L569.3 253.5L573.4 263.7L578.1 274L582.9 284.2L587.4 294.5L591.5 304.8L595.5 315L599.6 325.2L603.5 335.5L607.6 345.8L611.8 356L616.1 366.2L620.5 376.5L624.7 386.8L628.9 397L632.9 407.2L636.8 417.5L640.7 427.8L644.5 438L648.3 448.2L652.1 458.5L655.9 468.8L659.7 479L663.5 489.2L667.2 499.5" stroke="#98ff67" stroke-width="1.0" fill="none" stroke-linejoin="round" />
<path d="M462.6 89.5L468.3 89.5L473.6 89.7L471.6 91.9L461 93.3L453.7 93.3L454.3 92.7L458.5 92.8L463.8 93.9L463.2 95.4L459.6 96.4L456.5 96.6L457 96.6L459.1 96.9L461.8 97.9L461.8 99L461.4 99.8L462.4 100.1L466.1 100.4L471.6 100.9L474.8 101.7L476.8 102.6L479.8 103.3L480.5 103.7L483.4 104.1L487.6 104.7L490.4 105.4L492.1 106.2L493.3 106.8L494.8 107.4L497.3 107.9L499.2 108.5L500.8 109.2L502.2 109.8L502.7 110.5L503.9 111L506.5 111.6L507.4 112.2L509.5 112.9L510.8 113.5L511 114.1L516.4 117.2L519.9 120.2L523.1 123.3L526 126.4L529.3 129.5L531.3 132.6L533.6 135.6L534.2 138.7L535 141.8L535.1 144.8L536.1 147.9L537.2 151L538.1 154.1L539.7 157.2L540.7 160.2L541.4 163.3L541.9 166.4L543.3 169.5L543.5 172.5L544.6 175.6L545.2 178.7L546.2 181.7L547.9 184.8L549.4 187.9L550.6 191L550.8 192L552.6 202.3L555.8 212.5L559 222.8L562.3 233L565.8 243.2L569.8 253.5L573.7 263.8L578.5 274L583.3 284.2L587.6 294.5L591.9 304.8L595.9 315L599.9 325.2L603.9 335.5L608 345.8L612.1 356L616.5 366.2L620.8 376.5L625 386.8L629.2 397L633.2 407.2L637.1 417.5L640.9 427.8L644.7 438L648.5 448.2L652.4 458.5L656.1 468.8L659.9 479L663.7 489.2L667.4 499.5" stroke="#8eff71" stroke-width="1.0" fill="none" stroke-linejoin="round" />
<path d="M489.4 90.5L475.3 91.9L465.3 91L469.5 90L477.7 90.9L478.6 93L469.8 94.3L461.5 94.1L458.7 93.7L462.4 94.3L461.7 95.8L458.3 96.9L455.3 97.1L456.1 97.1L459.4 97.7L460.4 98.8L459.5 99.7L457.8 100.2L460 100.4L464.9 100.9L467.4 101.8L467.8 102.7L470.5 103.2L473.2 103.5L478.6 104.1L482.5 104.9L484.8 105.6L486.8 106.2L489 106.7L491.3 107.2L494.1 107.9L494.8 108.6L496.4 109.2L498.6 109.8L500.4 110.3L501.9 111L503.5 111.7L505.2 112.3L506.6 112.9L507.8 113.4L509.4 114.1L514.5 117.2L519.3 120.2L524.3 123.3L527 126.4L529.7 129.5L530 132.5L530.4 135.6L531.1 138.7L531.8 141.8L533.8 144.8L535.7 147.9L537.8 151L539.3 154.1L539.5 157.1L539.7 160.2L540.5 163.3L541 166.4L542 169.4L543.5 172.5L544.5 175.6L545.7 178.7L546.2 181.8L547 184.8L548.2 187.9L549.6 191L549.9 192L553.4 202.3L556.5 212.5L560.6 222.7L564.2 233L568.7 243.3L572.7 253.5L577.2 263.7L581.5 274L586.4 284.2L590.8 294.5L594.9 304.8L598.9 315L603 325.2L607 335.5L610.9 345.8L615.2 356L619.4 366.2L623.6 376.5L627.8 386.8L631.8 397L635.7 407.2L639.5 417.5L643.3 427.8L647 438L650.7 448.2L654.4 458.5L658.1 468.8L661.8 479L665.5 489.2L669.1 499.5" stroke="#84ff7b" stroke-width="1.0" fill="none" stroke-linejoin="round" />
<path d="M467.9 89.5L475.7 89.5L480 90.6L472.4 92.6L464.2 93.2L458.5 92.6L462 92.2L466.4 93L465 94.5L460.2 95.8L453.7 96.2L453 96.1L455.7 96.3L458.5 97.1L459.7 98.3L457.7 99.2L456.4 99.6L457.7 99.8L460.4 100.2L464.1 101L465.8 101.9L466.9 102.7L469.5 103.1L471.3 103.5L476.7 104.1L479.6 104.8L483 105.6L484.4 106.2L485.6 106.7L486.8 107.3L490.6 107.9L492.9 108.6L494.8 109.2L496.4 109.9L497 110.4L499.5 111L501.4 111.6L502.7 112.3L504.7 112.9L505.8 113.5L506.8 114.1L513 117.2L518.8 120.3L522.3 123.3L525.3 126.4L526.9 129.5L528.9 132.5L529.9 135.6L531.7 138.7L532.5 141.8L533.8 144.9L534.7 147.9L536 151L537 154.1L538.2 157.1L539.1 160.2L540.3 163.3L541.3 166.4L542.3 169.5L543.2 172.5L544.4 175.6L545.4 178.7L546.1 181.8L547 184.8L548 187.9L548.8 191L549.2 192L552.2 202.3L555.5 212.5L558.5 222.7L561.5 233L565.3 243.2L569.4 253.5L573.6 263.8L577.9 274L582.7 284.2L587.3 294.5L591.5 304.8L595.4 315L599.4 325.2L603.4 335.5L607.5 345.8L611.7 356L616 366.2L620.4 376.5L624.6 386.8L628.8 397L632.8 407.2L636.7 417.5L640.6 427.8L644.4 438L648.2 448.2L652 458.5L655.9 468.8L659.6 479L663.4 489.2L667.2 499.5" stroke="#7bff84" stroke-width="1.0" fill="none" stroke-linejoin="round" />
<path d="M482.1 91L466.9 91.7L460.4 90.3L466.6 89.8L471.6 91.6L467.5 93.6L458.8 94L456.6 93.3L460.9 93.5L464.4 95L460.5 96.4L455.2 96.7L456.8 96.5L461.5 97L462.2 98.2L461.3 99.2L459.2 99.5L462.2 99.7L466.2 100.3L469.6 101.3L470.4 102.1L471.2 102.5L475.2 102.8L480.3 103.5L482.8 104.4L484.1 105L486.6 105.5L489.1 106L491.5 106.7L492.4 107.4L493.3 108L495 108.5L497.2 109.1L498.8 109.8L501.3 110.5L501.4 111.1L502.7 111.6L505.2 112.2L505 112.9L506.8 113.5L508.7 114.1L514.9 117.2L520.1 120.3L523.4 123.3L525.9 126.4L527.8 129.5L528.5 132.5L530.6 135.6L532.5 138.7L534.7 141.8L535.9 144.8L537.1 147.9L538 151L538.2 154.1L538.3 157.1L538.7 160.2L539.8 163.3L541.2 166.4L542.4 169.5L543.6 172.5L544.7 175.6L545.5 178.7L546.6 181.8L547.7 184.8L548.7 187.9L550 191L550.2 192L552.9 202.3L556 212.5L560 222.7L563.4 233L567.4 243.2L571.2 253.5L575.8 263.7L580.3 274L584.9 284.2L589.4 294.5L593.6 304.8L597.7 315L601.6 325.2L605.6 335.5L609.7 345.8L613.9 356L618.1 366.2L622.4 376.5L626.6 386.8L630.7 397L634.6 407.2L638.5 417.5L642.3 427.8L646 438L649.8 448.2L653.5 458.5L657.3 468.8L661 479L664.7 489.2L668.4 499.5" stroke="#71ff8e" stroke-width="1.0" fill="none" stroke-linejoin="round" />
<path d="M479.5 89.5L485.8 89.5L485.8 90.8L477.7 92.6L468 93.2L461.9 92.8L463.6 92.4L469.2 92.8L470.7 94L467.7 95.4L464.6 96.4L459 96.7L457.6 96.8L459.6 97L461.5 97.7L463.3 98.7L464 99.7L463.7 100.3L466.1 100.7L469.5 101L472.6 101.5L476.5 102.3L479.6 103.1L482.1 103.8L484.7 104.4L488.9 104.9L491.6 105.4L495.2 106L497.1 106.7L498.4 107.4L500.4 108.1L500.5 108.6L503.5 109.1L505.2 109.7L506.9 110.4L509.2 111L509.4 111.7L510.1 112.3L511.3 112.9L512.1 113.5L513.7 114.1L517.4 117.2L521.8 120.3L525.6 123.3L527.6 126.4L529.8 129.5L530.5 132.6L532.4 135.6L533.7 138.7L535.2 141.8L537.9 144.9L538.7 147.9L538.6 151L538.8 154.1L538.4 157.2L539.2 160.2L540.6 163.3L542.3 166.4L543.5 169.4L544.7 172.5L545.3 175.6L546.4 178.7L547.4 181.7L548.2 184.8L548.9 187.9L549.7 191L550.2 192L554.3 202.2L557.4 212.5L561 222.7L565.1 233L569.2 243.2L573.3 253.5L577.8 263.7L582.4 274L587 284.2L591.3 294.5L595.7 304.8L599.7 315L603.6 325.2L607.6 335.5L611.7 345.8L615.8 356L620.1 366.2L624.3 376.5L628.4 386.8L632.4 397L636.3 407.2L640.1 417.5L643.8 427.8L647.5 438L651.2 448.2L654.9 458.5L658.6 468.8L662.2 479L665.9 489.2L669.5 499.5" stroke="#67ff98" stroke-width="1.0" fill="none" stroke-linejoin="round" />
<path d="M458.3 90.8L453.2 89.5L458.4 89.5L465.3 90.3L467.5 92.3L461.6 93.7L456.2 94.1L451.8 93.7L452.8 93.6L455.3 94.3L456.9 95.6L455.4 96.8L452.5 97.4L450.5 97.6L451.4 97.7L454 98.3L456.2 99.2L457.3 100.2L459.5 100.9L461.4 101.3L463.1 101.6L468 102.2L470.2 102.9L473.7 103.7L475 104.4L477.8 105L480 105.4L482.1 106L485.4 106.6L486.9 107.4L488.5 108L489.8 108.6L491.9 109.2L494.5 109.7L496.7 110.4L497.8 111L498.8 111.7L500.1 112.3L500.8 112.9L502.6 113.5L504.1 114.1L508.7 117.2L513.8 120.3L518.3 123.3L523 126.4L524.9 129.5L527.2 132.5L529.1 135.6L530.6 138.7L532.1 141.8L534.2 144.8L535.1 147.9L536.2 151L536.6 154.1L536.9 157.1L538 160.2L539.1 163.3L540.6 166.4L541.9 169.5L543 172.5L543.6 175.6L544.2 178.7L544.8 181.8L546.3 184.8L547.6 187.9L549.1 191L549.5 192L551.6 202.2L555 212.5L558.4 222.8L561.9 233L565.9 243.3L569.7 253.5L574.1 263.7L578.6 274L583.4 284.2L587.7 294.5L592 304.8L596 315L600 325.2L604 335.5L608.1 345.8L612.3 356L616.6 366.2L620.9 376.5L625.1 386.8L629.3 397L633.3 407.2L637.2 417.5L641 427.8L644.8 438L648.6 448.2L652.4 458.5L656.2 468.8L660 479L663.7 489.2L667.5 499.5" stroke="#5dffa2" stroke-width="1.0" fill="none" stroke-linejoin="round" />
<path d="M444.6 89.5L441.9 90.1L439.3 90.7L439.6 91.3L437.2 92L434 92.6L431.1 93.2L426.9 93.8L423.1 94.4L422.4 95L423.7 95.7L423.9 96.3L424.2 96.9L423.6 97.5L423.3 98.1L423.4 98.7L426.1 99.3L428.2 100L430.3 100.6L433 101.2L434.6 101.8L436.5 102.4L437.2 103L440 103.6L443.3 104.3L445.7 104.9L447.5 105.5L449.6 106.1L450 106.7L452.6 107.3L454.3 108L456.3 108.6L457.6 109.2L459.4 109.8L462.3 110.4L463.2 111L466.3 111.6L469 112.3L471.5 112.9L473.9 113.5L475.6 114.1L486.1 117.2L494.4 120.2L500.5 123.3L505.7 126.4L509.7 129.5L515 132.6L519.5 135.6L523.2 138.7L525.8 141.8L526.6 144.8L527.5 147.9L529.3 151L530.3 154.1L531.7 157.2L532.9 160.2L533.9 163.3L534.9 166.4L536.6 169.4L537.8 172.5L539.1 175.6L540.7 178.7L541.4 181.8L542.1 184.8L543.5 187.9L545.1 191L545.5 192L550.4 202.2L556.8 212.5L562 222.8L568.4 233L574.3 243.2L580 253.5L584.6 263.8L589.4 274L593.7 284.2L597.9 294.5L602.1 304.8L606.2 315L610.2 325.2L614.2 335.5L618.2 345.8L622.4 356L626.6 366.2L630.8 376.5L634.9 386.8L638.9 397L642.8 407.2L646.6 417.5L650.3 427.8L654 438L657.7 448.2L661.4 458.5L665 468.8L668.7 479L672.3 489.2L675.9 499.5" stroke="#53ffac" stroke-width="1.0" fill="none" stroke-linejoin="round" />
<path d="M453.9 89.5L449.9 90.1L445.7 90.7L442.3 91.3L438.6 92L437.1 92.6L435.4 93.2L436.4 93.8L435.9 94.4L435.4 95L435.8 95.7L436.1 96.3L435.8 96.9L437.3 97.5L437.1 98.1L437.5 98.7L438.7 99.3L441.6 100L444.6 100.6L448.2 101.2L450 101.8L453.3 102.4L454.8 103L457.5 103.6L459.3 104.3L461.3 104.9L463.2 105.5L465.9 106.1L468.5 106.7L470.1 107.3L472 108L474 108.6L477.1 109.2L477.6 109.8L480.7 110.4L481.2 111L483.6 111.6L485.5 112.3L487.8 112.9L490.3 113.5L492.1 114.1L498.8 117.2L504.8 120.2L510.3 123.3L514.2 126.4L517.8 129.5L521 132.6L524.4 135.6L527.5 138.7L529.1 141.8L530.3 144.8L531.2 147.9L532 151L532.9 154.1L534.8 157.2L535.8 160.2L537.3 163.3L538 166.4L539.2 169.4L540 172.5L540.9 175.6L541.9 178.7L543.2 181.8L544.1 184.8L545.6 187.9L547 191L547.3 192L552.1 202.2L557.5 212.5L562.4 222.8L568.3 233L573.9 243.2L578.9 253.5L583.9 263.8L588.4 274L592.8 284.2L596.9 294.5L601.3 304.8L605.3 315L609.2 325.2L613.3 335.5L617.3 345.8L621.4 356L625.6 366.2L629.9 376.5L634 386.8L638 397L641.9 407.2L645.7 417.5L649.4 427.8L653.1 438L656.8 448.2L660.4 458.5L664.1 468.8L667.8 479L671.4 489.2L675 499.5" stroke="#49ffb6" stroke-width="1.0" fill="none" stroke-linejoin="round" />
<path d="M432 89.5L429.3 90.1L427 90.7L423.7 91.3L421.8 92L423.5 92.6L423.6 93.2L424.6 93.8L424.9 94.4L423 95L422.8 95.7L421.9 96.3L421.9 96.9L422.4 97.5L424.7 98.1L426.4 98.7L429 99.3L430.5 100L433.8 100.6L436.1 101.2L437 101.8L440.7 102.4L442.7 103L445.5 103.6L450.2 104.3L453.1 104.9L455.5 105.5L456.5 106.1L458.5 106.7L460.7 107.3L462.8 108L465.7 108.6L467.5 109.2L469.8 109.8L471.2 110.4L473.7 111L474.9 111.6L475.8 112.3L478.6 112.9L480.8 113.5L482.5 114.1L489.9 117.2L495.8 120.2L502.4 123.3L509.1 126.4L514.5 129.5L519 132.6L522.4 135.6L524.1 138.7L525.8 141.8L526.8 144.8L528.5 147.9L530.3 151L532 154.1L533.5 157.2L534.7 160.2L535 163.3L536 166.4L536.8 169.4L538.2 172.5L539.4 175.6L541.2 178.7L542.7 181.8L544.1 184.8L545.1 187.9L545.6 191L545.8 192L550.9 202.2L557.1 212.5L562 222.8L568.1 233L573.8 243.2L579.1 253.5L584 263.8L588.5 274L592.9 284.2L597.1 294.5L601.3 304.8L605.4 315L609.3 325.2L613.4 335.5L617.4 345.8L621.5 356L625.8 366.2L630 376.5L634.1 386.8L638.1 397L642 407.2L645.8 417.5L649.5 427.8L653.2 438L656.9 448.2L660.6 458.5L664.2 468.8L667.9 479L671.5 489.2L675.1 499.5" stroke="#3fffc0" stroke-width="1.0" fill="none" stroke-linejoin="round" />
<path d="M442.3 89.5L440.8 90.1L439.7 90.7L436.6 91.3L435.2 92L433.8 92.6L433.7 93.2L433.3 93.8L434.8 94.4L434.5 95L435.4 95.7L437.6 96.3L436.8 96.9L437.4 97.5L440.5 98.1L441.8 98.7L445.2 99.3L446.9 100L448.6 100.6L452.1 101.2L454.6 101.8L455.9 102.4L458.6 103L460.2 103.6L462.7 104.3L463 104.9L466.1 105.5L466.6 106.1L468.4 106.7L469.9 107.3L471.4 108L472.5 108.6L473.9 109.2L475.2 109.8L477.7 110.4L478.1 111L479.7 111.6L482.2 112.3L483.8 112.9L486.3 113.5L487.5 114.1L496.4 117.2L503.9 120.2L510.8 123.3L516.9 126.4L520.9 129.5L523.8 132.6L526 135.6L527.1 138.7L528.2 141.8L529.9 144.8L530.7 147.9L532.1 151L533.5 154.1L534.5 157.2L535.8 160.2L536.5 163.3L537.5 166.4L538.6 169.4L539.9 172.5L541.4 175.6L542.6 178.7L543.8 181.8L544.7 184.8L546 187.9L546.6 191L547.2 192L552.4 202.2L558.4 212.5L564.1 222.8L569.8 233L575.8 243.2L581.4 253.5L586.2 263.8L590.7 274L595 284.2L599.3 294.5L603.6 304.8L607.6 315L611.5 325.2L615.6 335.5L619.6 345.8L623.7 356L628 366.2L632.1 376.5L636.3 386.8L640.3 397L644.2 407.2L648 417.5L651.7 427.8L655.4 438L659 448.2L662.7 458.5L666.4 468.8L670 479L673.7 489.2L677.3 499.5" stroke="#35ffca" stroke-width="1.0" fill="none" stroke-linejoin="round" />
<path d="M429.7 89.5L428.7 90.1L428.8 90.7L428.6 91.3L431 92L429.7 92.6L429 93.2L428.8 93.8L427.6 94.4L428.7 95L430.2 95.7L431.1 96.3L432.1 96.9L434 97.5L436.4 98.1L439.5 98.7L441.2 99.3L444.3 100L447.3 100.6L449.7 101.2L451.9 101.8L454.6 102.4L458 103L459.7 103.6L461.9 104.3L464 104.9L464.8 105.5L467.6 106.1L468 106.7L470.5 107.3L472.7 108L473.6 108.6L474.9 109.2L476.2 109.8L476.8 110.4L478.8 111L481.3 111.6L482.3 112.3L483.4 112.9L485.5 113.5L487.5 114.1L495.6 117.2L504.2 120.2L510.5 123.3L514.2 126.4L518.2 129.5L522 132.6L524.2 135.6L527.5 138.7L529 141.8L529 144.8L530.2 147.9L530.8 151L532.7 154.1L535.3 157.2L536.6 160.2L537.4 163.3L538.1 166.4L538.8 169.4L539.6 172.5L540.7 175.6L542 178.7L543 181.8L543.9 184.8L545.4 187.9L547.1 191L547.6 192L552.2 202.2L557.2 212.5L563 222.8L568.5 233L574 243.2L579.6 253.5L584.1 263.8L588.7 274L593.2 284.2L597.5 294.5L601.6 304.8L605.8 315L609.6 325.2L613.7 335.5L617.7 345.8L621.9 356L626.1 366.2L630.3 376.5L634.4 386.8L638.4 397L642.3 407.2L646.1 417.5L649.8 427.8L653.5 438L657.2 448.2L660.9 458.5L664.5 468.8L668.2 479L671.8 489.2L675.4 499.5" stroke="#2bffd4" stroke-width="1.0" fill="none" stroke-linejoin="round" />
<path d="M440.8 89.5L438.1 90.1L438.2 90.7L436.9 91.3L437.5 92L434 92.6L430.6 93.2L428.8 93.8L427.1 94.4L427.2 95L425.6 95.7L425.6 96.3L425.8 96.9L425.5 97.5L425.5 98.1L425.9 98.7L428.3 99.3L431.3 100L432.7 100.6L436.2 101.2L437 101.8L440 102.4L442.6 103L445.3 103.6L446.1 104.3L448.7 104.9L452.5 105.5L454.6 106.1L457.2 106.7L459.6 107.3L461.7 108L463.7 108.6L465.6 109.2L468.3 109.8L470.3 110.4L472.3 111L475.6 111.6L477.2 112.3L479.2 112.9L480.8 113.5L482.7 114.1L490.2 117.2L496.4 120.2L503 123.3L508.2 126.4L514.4 129.5L518.2 132.6L521.2 135.6L523.2 138.7L524.3 141.8L526.1 144.8L528.6 147.9L531 151L532.7 154.1L533.3 157.2L534 160.2L534.9 163.3L536.4 166.4L537.7 169.4L539 172.5L539.8 175.6L540.1 178.7L541 181.8L541.9 184.8L543.7 187.9L545.8 191L546.2 192L551.6 202.2L557.6 212.5L562.9 222.8L569.9 233L575.8 243.2L581.3 253.5L586.1 263.8L590.8 274L595.1 284.2L599.4 294.5L603.5 304.8L607.6 315L611.6 325.2L615.6 335.5L619.6 345.8L623.7 356L628 366.2L632.2 376.5L636.3 386.8L640.3 397L644.2 407.2L648 417.5L651.7 427.8L655.4 438L659.1 448.2L662.8 458.5L666.4 468.8L670.1 479L673.7 489.2L677.3 499.5" stroke="#21ffde" stroke-width="1.0" fill="none" stroke-linejoin="round" />
<path d="M439.9 89.5L437.9 90.1L438.6 90.7L438.1 91.3L437.4 92L436.7 92.6L435.2 93.2L434.3 93.8L432.9 94.4L432.7 95L432.4 95.7L432.6 96.3L434 96.9L436.2 97.5L438.1 98.1L439.7 98.7L440.2 99.3L442.5 100L442.6 100.6L445.6 101.2L448 101.8L449.7 102.4L452.7 103L455.2 103.6L456.7 104.3L458.8 104.9L461.5 105.5L462.6 106.1L465.6 106.7L466.8 107.3L468.9 108L471.8 108.6L472.5 109.2L473.9 109.8L476.8 110.4L478.3 111L480.5 111.6L482 112.3L485.1 112.9L486.8 113.5L488.9 114.1L498.9 117.2L506.6 120.2L512.5 123.3L517.2 126.4L520.1 129.5L522.4 132.6L524.1 135.6L525.3 138.7L526.8 141.8L528.8 144.8L530.1 147.9L531.7 151L533.9 154.1L535.1 157.2L536.5 160.2L538.1 163.3L538.6 166.4L539.3 169.4L540.3 172.5L540.9 175.6L541.8 178.7L542.9 181.8L544 184.8L545.6 187.9L546.9 191L547.4 192L552.2 202.2L557.7 212.5L563.3 222.8L568.8 233L574.5 243.2L580.2 253.5L584.8 263.8L589.2 274L593.7 284.2L598 294.5L602.1 304.8L606.2 315L610.2 325.2L614.2 335.5L618.3 345.8L622.4 356L626.6 366.2L630.8 376.5L635 386.8L639 397L642.9 407.2L646.7 417.5L650.4 427.8L654 438L657.7 448.2L661.4 458.5L665.1 468.8L668.7 479L672.4 489.2L676 499.5" stroke="#18ffe7" stroke-width="1.0" fill="none" stroke-linejoin="round" />
<path d="M454 89.5L451.5 90.1L447.7 90.7L446.4 91.3L443 92L441.9 92.6L438.7 93.2L434.9 93.8L430.9 94.4L427.7 95L425.3 95.7L425.8 96.3L425.4 96.9L426.8 97.5L427 98.1L426.6 98.7L426.6 99.3L428 100L428.3 100.6L431.3 101.2L432.7 101.8L436.1 102.4L437.4 103L440.8 103.6L443 104.3L445.8 104.9L447.7 105.5L449.6 106.1L451.8 106.7L453.8 107.3L456.5 108L457.9 108.6L460.4 109.2L463.2 109.8L464.6 110.4L467 111L469.2 111.6L472 112.3L474.2 112.9L475.9 113.5L478.2 114.1L487.6 117.2L495.6 120.2L503.2 123.3L509.8 126.4L514.7 129.5L518.8 132.6L521.9 135.6L523.5 138.7L524.1 141.8L525.5 144.8L526.3 147.9L528.9 151L530.9 154.1L532.8 157.2L534.4 160.2L535.4 163.3L536.4 166.4L537.4 169.4L538.3 172.5L539.7 175.6L540.7 178.7L541.5 181.8L542.6 184.8L543.3 187.9L544.5 191L545.3 192L551.8 202.2L557.3 212.5L563.3 222.8L569.7 233L576.2 243.2L581.8 253.5L586.5 263.8L591.1 274L595.5 284.2L599.8 294.5L603.8 304.8L608 315L612 325.2L615.9 335.5L619.9 345.8L624.1 356L628.3 366.2L632.5 376.5L636.7 386.8L640.7 397L644.6 407.2L648.4 417.5L652.1 427.8L655.8 438L659.5 448.2L663.1 458.5L666.8 468.8L670.4 479L674.1 489.2L677.7 499.5" stroke="#0efff1" stroke-width="1.0" fill="none" stroke-linejoin="round" />
<path d="M429.8 89.5L430.7 90.1L430.1 90.7L432.4 91.3L431.9 92L431.3 92.6L429.7 93.2L429.1 93.8L430.3 94.4L430.9 95L432.5 95.7L433.1 96.3L437.2 96.9L436.9 97.5L437.7 98.1L440.3 98.7L443.7 99.3L446.2 100L450.6 100.6L453.7 101.2L455.5 101.8L457 102.4L459.6 103L461.9 103.6L464.4 104.3L466.6 104.9L468.5 105.5L471.4 106.1L472.7 106.7L472.7 107.3L475.3 108L475.9 108.6L477 109.2L480.7 109.8L481 110.4L481.7 111L484.4 111.6L484.6 112.3L486.7 112.9L488.4 113.5L489.9 114.1L497.4 117.2L504 120.2L511.2 123.3L516.2 126.4L519.5 129.5L522.5 132.6L525.3 135.6L527.7 138.7L529.8 141.8L531 144.8L531.8 147.9L532.4 151L533 154.1L534.2 157.2L535.6 160.2L537.1 163.3L538.8 166.4L540.1 169.4L540.9 172.5L541.5 175.6L542.2 178.7L543.2 181.8L544.5 184.8L545.9 187.9L547.4 191L547.6 192L552.4 202.2L557.7 212.5L562.7 222.8L568.7 233L574.2 243.2L579.5 253.5L584.1 263.8L588.7 274L593.1 284.2L597.4 294.5L601.6 304.8L605.6 315L609.6 325.2L613.6 335.5L617.6 345.8L621.8 356L626 366.2L630.2 376.5L634.3 386.8L638.4 397L642.3 407.2L646 417.5L649.7 427.8L653.4 438L657.1 448.2L660.8 458.5L664.5 468.8L668.1 479L671.7 489.2L675.3 499.5" stroke="#04fffb" stroke-width="1.0" fill="none" stroke-linejoin="round" />
<path d="M437.9 89.5L435.1 90.1L431.5 90.7L429.8 91.3L429.7 92L429.7 92.6L426.4 93.2L426.4 93.8L423.9 94.4L422.1 95L422.2 95.7L423.3 96.3L425.2 96.9L426.4 97.5L427.8 98.1L428.3 98.7L428.3 99.3L432.1 100L435.3 100.6L439.8 101.2L442.2 101.8L443.4 102.4L445.6 103L447.5 103.6L450.7 104.3L452.8 104.9L455.1 105.5L455.9 106.1L458.6 106.7L459.8 107.3L460.9 108L463.3 108.6L464.7 109.2L465.4 109.8L467.1 110.4L468.3 111L470 111.6L472.9 112.3L474.1 112.9L476.6 113.5L477.1 114.1L485.6 117.2L493.3 120.2L500.6 123.3L507.8 126.4L512 129.5L517.5 132.6L521.2 135.6L524.4 138.7L526.4 141.8L528.4 144.8L529.3 147.9L530.5 151L530.8 154.1L531.7 157.2L532 160.2L533.2 163.3L535.1 166.4L536.9 169.4L539.1 172.5L540.2 175.6L541.6 178.7L541.9 181.8L542.8 184.8L543.6 187.9L544.8 191L545.2 192L551.4 202.2L557.4 212.5L563.7 222.8L569.7 233L576.2 243.2L581.9 253.5L586.8 263.8L591.4 274L595.6 284.2L600 294.5L604.1 304.8L608.1 315L612.1 325.2L616.1 335.5L620.2 345.8L624.3 356L628.5 366.2L632.8 376.5L636.9 386.8L640.9 397L644.8 407.2L648.6 417.5L652.3 427.8L656 438L659.7 448.2L663.3 458.5L667 468.8L670.6 479L674.3 489.2L677.9 499.5" stroke="#00f9ff" stroke-width="1.0" fill="none" stroke-linejoin="round" />
<path d="M453.8 89.5L448.5 90.1L446.2 90.7L441 91.3L439.3 92L436.6 92.6L436.2 93.2L435.4 93.8L436.5 94.4L436.1 95L435.8 95.7L434.8 96.3L435.5 96.9L436.2 97.5L439.2 98.1L440.1 98.7L442.4 99.3L446.3 100L448.9 100.6L451.6 101.2L456 101.8L459.1 102.4L460.4 103L465.2 103.6L467.2 104.3L468.8 104.9L471.1 105.5L472.5 106.1L474.8 106.7L476.5 107.3L479.1 108L480.5 108.6L482.1 109.2L483.8 109.8L485 110.4L486.1 111L486.9 111.6L488.7 112.3L489.7 112.9L490.8 113.5L491.9 114.1L498.7 117.2L503.8 120.2L510.7 123.3L516.6 126.4L520.5 129.5L523.4 132.6L525.8 135.6L527.8 138.7L529.8 141.8L530.6 144.8L532.2 147.9L533.2 151L533.3 154.1L533.6 157.2L535.5 160.2L537.1 163.3L538.7 166.4L540.4 169.4L541.6 172.5L542 175.6L542.6 178.7L543.5 181.8L544.5 184.8L545.9 187.9L547.2 191L547.6 192L550.4 202.2L554 212.5L556.9 222.8L561.2 233L565.1 243.2L569.1 253.5L573.5 263.8L578.1 274L582.6 284.2L587.2 294.5L591.3 304.8L595.4 315L599.4 325.2L603.3 335.5L607.4 345.8L611.6 356L616 366.2L620.3 376.5L624.6 386.8L628.7 397L632.7 407.2L636.6 417.5L640.5 427.8L644.3 438L648.2 448.2L652 458.5L655.8 468.8L659.6 479L663.4 489.2L667.1 499.5" stroke="#00efff" stroke-width="1.0" fill="none" stroke-linejoin="round" />
<path d="M432.8 89.5L430 90.1L428.4 90.7L427.6 91.3L425.8 92L426.6 92.6L426.2 93.2L426.2 93.8L426.6 94.4L426.2 95L427.6 95.7L428.2 96.3L430.2 96.9L433 97.5L433.5 98.1L435.7 98.7L435.9 99.3L437.7 100L440.9 100.6L443.8 101.2L446.1 101.8L449.2 102.4L450.6 103L451 103.6L452.5 104.3L454.5 104.9L457.5 105.5L458.5 106.1L460.5 106.7L461.7 107.3L462.7 108L464.8 108.6L466.4 109.2L468 109.8L470.6 110.4L471.6 111L474.4 111.6L476.8 112.3L479.6 112.9L481.3 113.5L483 114.1L492.7 117.2L500.4 120.2L506.1 123.3L512 126.4L515.6 129.5L520 132.6L523.7 135.6L526.1 138.7L527 141.8L527.4 144.8L528.1 147.9L529.8 151L531.9 154.1L534.1 157.2L535.8 160.2L536.6 163.3L537.4 166.4L537.7 169.4L538.9 172.5L540.1 175.6L541.3 178.7L542.2 181.8L543.4 184.8L544.4 187.9L545.8 191L546.5 192L552 202.2L556.6 212.5L562.8 222.8L568.5 233L574.3 243.2L579.6 253.5L584.6 263.8L588.9 274L593.4 284.2L597.7 294.5L601.9 304.8L605.9 315L610 325.2L613.9 335.5L617.9 345.8L622.1 356L626.3 366.2L630.5 376.5L634.7 386.8L638.7 397L642.6 407.2L646.3 417.5L650.1 427.8L653.7 438L657.4 448.2L661.1 458.5L664.8 468.8L668.4 479L672 489.2L675.6 499.5" stroke="#00e5ff" stroke-width="1.0" fill="none" stroke-linejoin="round" />
<path d="M430.1 89.5L429.4 90.1L429.7 90.7L429.9 91.3L428.5 92L428.7 92.6L428.2 93.2L428.9 93.8L430.2 94.4L429.2 95L429.7 95.7L431.7 96.3L432.9 96.9L434.7 97.5L435.4 98.1L437.1 98.7L439 99.3L441.2 100L441.7 100.6L444 101.2L447.2 101.8L449.1 102.4L449.5 103L452.2 103.6L454.5 104.3L455.8 104.9L457.9 105.5L460.2 106.1L462.2 106.7L464.8 107.3L466.5 108L467.7 108.6L469.9 109.2L472.2 109.8L473.5 110.4L475.7 111L478.8 111.6L480.4 112.3L482.8 112.9L486.1 113.5L487.6 114.1L496.6 117.2L503.5 120.2L509 123.3L513.6 126.4L517.4 129.5L521.2 132.6L525.3 135.6L527.4 138.7L528.4 141.8L528.5 144.8L529.1 147.9L530.8 151L532 154.1L533.8 157.2L535.9 160.2L537.4 163.3L538.2 166.4L538.8 169.4L539.5 172.5L540.7 175.6L541.9 178.7L543.4 181.8L544.4 184.8L545.2 187.9L545.9 191L546.1 192L550.1 202.2L553.2 212.5L556.5 222.8L560.5 233L564.5 243.2L568.7 253.5L572.7 263.8L577.6 274L582.1 284.2L586.6 294.5L590.6 304.8L594.8 315L598.8 325.2L602.7 335.5L606.8 345.8L611 356L615.4 366.2L619.7 376.5L624 386.8L628.2 397L632.2 407.2L636.2 417.5L640.1 427.8L643.9 438L647.8 448.2L651.6 458.5L655.4 468.8L659.2 479L663 489.2L666.8 499.5" stroke="#00dbff" stroke-width="1.0" fill="none" stroke-linejoin="round" />
<path d="M452.1 89.5L452.4 90.1L449.2 90.7L444.6 91.3L442.4 92L438.5 92.6L438.8 93.2L438.6 93.8L436.9 94.4L437.5 95L436.2 95.7L436.2 96.3L438.7 96.9L439.6 97.5L442.5 98.1L444 98.7L447.1 99.3L448.1 100L450 100.6L453 101.2L456.8 101.8L459.8 102.4L461.7 103L464.2 103.6L467.1 104.3L469.8 104.9L471.3 105.5L473.9 106.1L475.7 106.7L476.9 107.3L478.8 108L480.7 108.6L482 109.2L484.8 109.8L485.4 110.4L487.4 111L489 111.6L491 112.3L492.6 112.9L494.1 113.5L495 114.1L502.3 117.2L508.3 120.2L513.3 123.3L517.8 126.4L519.9 129.5L522.2 132.6L524.8 135.6L526.8 138.7L528.7 141.8L530.8 144.8L532.9 147.9L534.7 151L535.9 154.1L537.3 157.2L536.8 160.2L538.1 163.3L538.1 166.4L538.4 169.4L539.5 172.5L540.9 175.6L542 178.7L544.3 181.8L545.6 184.8L547.1 187.9L548.4 191L548.7 192L552.5 202.2L558.3 212.5L564.1 222.8L570 233L575.8 243.2L581 253.5L585.9 263.8L590.6 274L594.8 284.2L599.1 294.5L603.3 304.8L607.3 315L611.4 325.2L615.4 335.5L619.4 345.8L623.6 356L627.8 366.2L632 376.5L636.1 386.8L640.1 397L644 407.2L647.8 417.5L651.5 427.8L655.2 438L658.9 448.2L662.6 458.5L666.2 468.8L669.9 479L673.5 489.2L677.1 499.5" stroke="#00d1ff" stroke-width="1.0" fill="none" stroke-linejoin="round" />
<path d="M433.8 89.5L431.2 90.1L431.4 90.7L430 91.3L427.8 92L429.7 92.6L429.7 93.2L429.4 93.8L431.1 94.4L431.5 95L432.2 95.7L432.9 96.3L435.6 96.9L438.4 97.5L442.6 98.1L443.9 98.7L445.9 99.3L447.6 100L450.9 100.6L453.1 101.2L456 101.8L460.9 102.4L464.2 103L466 103.6L467.9 104.3L470 104.9L472.3 105.5L474 106.1L475.3 106.7L478.6 107.3L480 108L481.1 108.6L483.2 109.2L485 109.8L488.1 110.4L489.3 111L490.3 111.6L492.3 112.3L493.3 112.9L494.9 113.5L496.8 114.1L502.9 117.2L506.8 120.2L511 123.3L515.2 126.4L518.2 129.5L521.9 132.6L525.9 135.6L528.8 138.7L530.7 141.8L532.6 144.8L533.2 147.9L534.7 151L534.7 154.1L535.1 157.2L535.8 160.2L536.2 163.3L537.7 166.4L539 169.4L540.3 172.5L541.9 175.6L543.2 178.7L544.4 181.8L545.8 184.8L546.5 187.9L547.7 191L547.8 192L552.5 202.2L558 212.5L563.9 222.8L569.3 233L575 243.2L580.4 253.5L585.1 263.8L589.7 274L594 284.2L598.4 294.5L602.5 304.8L606.6 315L610.6 325.2L614.5 335.5L618.6 345.8L622.8 356L627 366.2L631.2 376.5L635.3 386.8L639.4 397L643.2 407.2L647 417.5L650.7 427.8L654.4 438L658.1 448.2L661.8 458.5L665.4 468.8L669.1 479L672.7 489.2L676.3 499.5" stroke="#00c7ff" stroke-width="1.0" fill="none" stroke-linejoin="round" />
<path d="M422.8 89.5L422.1 90.1L422 90.7L422 91.3L423.8 92L425.6 92.6L427 93.2L427.7 93.8L427.4 94.4L427.6 95L427.1 95.7L429.2 96.3L432.6 96.9L435.3 97.5L437.8 98.1L438.9 98.7L440.3 99.3L441.6 100L443.9 100.6L446.9 101.2L448 101.8L451.3 102.4L452.9 103L455.8 103.6L457.1 104.3L459.8 104.9L462.6 105.5L464.9 106.1L468.1 106.7L469.7 107.3L471.3 108L474.2 108.6L476.1 109.2L477.8 109.8L480 110.4L482.4 111L484.6 111.6L487.4 112.3L489.2 112.9L490.9 113.5L492.5 114.1L501.3 117.2L509.3 120.2L513.8 123.3L517.1 126.4L519.1 129.5L521.6 132.6L524.3 135.6L525.7 138.7L528.4 141.8L530.4 144.8L531.7 147.9L532.9 151L534.3 154.1L535.2 157.2L536.5 160.2L537.5 163.3L538.2 166.4L539.2 169.4L540.1 172.5L541.6 175.6L542.6 178.7L543.5 181.8L544.5 184.8L545.4 187.9L546.7 191L547.1 192L552 202.2L556.7 212.5L561 222.8L566.2 233L571.7 243.2L576.2 253.5L580.9 263.8L585.6 274L590 284.2L594.3 294.5L598.5 304.8L602.5 315L606.5 325.2L610.6 335.5L614.6 345.8L618.7 356L622.9 366.2L627.1 376.5L631.3 386.8L635.3 397L639.2 407.2L643 417.5L646.7 427.8L650.4 438L654 448.2L657.7 458.5L661.4 468.8L665 479L668.7 489.2L672.3 499.5" stroke="#00bdff" stroke-width="1.0" fill="none" stroke-linejoin="round" />
<path d="M435.9 89.5L434.8 90.1L434.9 90.7L435.1 91.3L437 92L437.8 92.6L440.7 93.2L440.7 93.8L441.9 94.4L441.9 95L442.6 95.7L442.7 96.3L443.2 96.9L445.3 97.5L447.9 98.1L450.5 98.7L454.7 99.3L455.9 100L460 100.6L463.2 101.2L463.4 101.8L465.7 102.4L469.8 103L471.2 103.6L473.6 104.3L475.2 104.9L478.9 105.5L480.5 106.1L483.1 106.7L485.9 107.3L486.6 108L488.4 108.6L489.5 109.2L491.6 109.8L493.5 110.4L495.9 111L497.1 111.6L499.1 112.3L499.8 112.9L501.9 113.5L503.4 114.1L509.7 117.2L514.8 120.2L519.3 123.3L523.4 126.4L525.9 129.5L529 132.6L531.2 135.6L532.5 138.7L533.3 141.8L533.7 144.8L533.7 147.9L535 151L534.9 154.1L536.2 157.2L538.1 160.2L539.6 163.3L541.2 166.4L542.4 169.4L543.3 172.5L544.2 175.6L544.6 178.7L545.1 181.8L546.4 184.8L547.3 187.9L548.6 191L549.1 192L553.8 202.2L558.3 212.5L563.4 222.8L568.2 233L573.1 243.2L578.4 253.5L583 263.8L587.5 274L591.9 284.2L596.3 294.5L600.6 304.8L604.5 315L608.5 325.2L612.6 335.5L616.6 345.8L620.7 356L624.9 366.2L629.1 376.5L633.3 386.8L637.3 397L641.2 407.2L645 417.5L648.7 427.8L652.4 438L656 448.2L659.7 458.5L663.4 468.8L667 479L670.7 489.2L674.3 499.5" stroke="#00b3ff" stroke-width="1.0" fill="none" stroke-linejoin="round" />
<path d="M420.7 89.5L421 90.1L424.1 90.7L424.9 91.3L427.3 92L431.2 92.6L432.3 93.2L434.2 93.8L435.5 94.4L436.5 95L436.7 95.7L439.7 96.3L442 96.9L444.7 97.5L448.1 98.1L451.2 98.7L454.2 99.3L456.8 100L459.2 100.6L461.4 101.2L463.6 101.8L466 102.4L468.8 103L471.1 103.6L472.9 104.3L477.1 104.9L478.4 105.5L480 106.1L481.3 106.7L483.6 107.3L486 108L487.4 108.6L489.2 109.2L491 109.8L492.9 110.4L493.9 111L495.8 111.6L497.9 112.3L499.5 112.9L501.1 113.5L501.9 114.1L507.9 117.2L513.5 120.2L517.3 123.3L520.1 126.4L523.9 129.5L527 132.6L529.8 135.6L532.1 138.7L532.8 141.8L534.5 144.8L534.4 147.9L534.6 151L535.1 154.1L536.2 157.2L537.2 160.2L538.8 163.3L539.8 166.4L541.4 169.4L542.6 172.5L543.2 175.6L544.1 178.7L545 181.8L546.5 184.8L547.6 187.9L549 191L549 192L553.9 202.2L559.6 212.5L565.1 222.8L570.7 233L576.7 243.2L581.9 253.5L586.8 263.8L591.2 274L595.7 284.2L600 294.5L604.1 304.8L608.2 315L612.1 325.2L616.1 335.5L620.2 345.8L624.3 356L628.5 366.2L632.7 376.5L636.9 386.8L640.9 397L644.8 407.2L648.6 417.5L652.3 427.8L656 438L659.7 448.2L663.3 458.5L667 468.8L670.7 479L674.3 489.2L677.9 499.5" stroke="#00aaff" stroke-width="1.0" fill="none" stroke-linejoin="round" />
<path d="M407.5 89.5L412.2 90.1L416.2 90.7L418.5 91.3L419.8 92L420.7 92.6L422.3 93.2L425.7 93.8L429.6 94.4L430.9 95L434.5 95.7L436.2 96.3L437.8 96.9L440.7 97.5L444.5 98.1L447.3 98.7L450 99.3L451.1 100L454.9 100.6L456.6 101.2L461.4 101.8L463.7 102.4L469.1 103L471.2 103.6L473.8 104.3L476.9 104.9L479.9 105.5L482.5 106.1L484.1 106.7L487.1 107.3L488.6 108L490.8 108.6L493.3 109.2L493.1 109.8L495.4 110.4L498.2 111L498.2 111.6L500.4 112.3L500.7 112.9L503.1 113.5L503.3 114.1L507.8 117.2L514.1 120.2L519.9 123.3L524.8 126.4L527.6 129.5L528.3 132.6L528.2 135.6L528.9 138.7L530.2 141.8L532 144.8L534.8 147.9L536.6 151L536.9 154.1L537 157.2L537.8 160.2L539.1 163.3L541.1 166.4L542.5 169.4L542.9 172.5L543.4 175.6L543.6 178.7L544.3 181.8L546.1 184.8L547.5 187.9L549.1 191L549.4 192L553.8 202.2L559.6 212.5L563.7 222.8L569.8 233L575.1 243.2L580.4 253.5L584.8 263.8L589.6 274L594 284.2L598.2 294.5L602.4 304.8L606.5 315L610.5 325.2L614.4 335.5L618.5 345.8L622.6 356L626.9 366.2L631 376.5L635.2 386.8L639.2 397L643.1 407.2L646.9 417.5L650.6 427.8L654.3 438L658 448.2L661.6 458.5L665.3 468.8L668.9 479L672.6 489.2L676.2 499.5" stroke="#00a0ff" stroke-width="1.0" fill="none" stroke-linejoin="round" />
<path d="M405.6 89.5L409.3 90.1L414.7 90.7L416.3 91.3L416.8 92L415.8 92.6L416.8 93.2L418.6 93.8L421.1 94.4L422.9 95L427 95.7L428.6 96.3L431.5 96.9L434.2 97.5L437.1 98.1L438.6 98.7L441.6 99.3L445 100L447.4 100.6L450.5 101.2L454.4 101.8L457.7 102.4L459.3 103L461.3 103.6L464.2 104.3L467 104.9L469.4 105.5L472.5 106.1L474 106.7L476 107.3L476.6 108L478.3 108.6L479.4 109.2L481.7 109.8L483 110.4L484.3 111L485.7 111.6L487.3 112.3L487 112.9L489.5 113.5L490.5 114.1L497.1 117.2L505.2 120.2L513.2 123.3L518.4 126.4L520.9 129.5L522.3 132.6L523.9 135.6L526.5 138.7L528.4 141.8L531.4 144.8L532.7 147.9L533 151L533.7 154.1L534.9 157.2L535.9 160.2L537.1 163.3L538.6 166.4L539.6 169.4L540.7 172.5L541.5 175.6L542.5 178.7L543.6 181.8L544.5 184.8L546.1 187.9L547.2 191L548.1 192L551.7 202.2L556.6 212.5L561.1 222.8L566.4 233L571.2 243.2L576.4 253.5L580.8 263.8L585.5 274L589.8 284.2L594.3 294.5L598.4 304.8L602.5 315L606.5 325.2L610.5 335.5L614.5 345.8L618.7 356L622.9 366.2L627.1 376.5L631.2 386.8L635.2 397L639.1 407.2L642.9 417.5L646.6 427.8L650.3 438L654 448.2L657.7 458.5L661.3 468.8L665 479L668.6 489.2L672.2 499.5" stroke="#0096ff" stroke-width="1.0" fill="none" stroke-linejoin="round" />
<path d="M416.8 89.5L416.8 90.1L418.8 90.7L420.7 91.3L424.1 92L426.4 92.6L429.3 93.2L431.9 93.8L433.5 94.4L435 95L437.4 95.7L441.4 96.3L444.1 96.9L448.2 97.5L451.5 98.1L452.7 98.7L455.6 99.3L457.8 100L460.2 100.6L463.7 101.2L466.4 101.8L469.5 102.4L471.1 103L473.4 103.6L474.6 104.3L479.1 104.9L480.5 105.5L483 106.1L485 106.7L487.7 107.3L488.3 108L490.2 108.6L493.1 109.2L494.6 109.8L496.9 110.4L498.5 111L499.9 111.6L501.6 112.3L503.9 112.9L505.2 113.5L506.5 114.1L513.5 117.2L518.3 120.2L521.4 123.3L522.5 126.4L524.3 129.5L526.7 132.6L530.1 135.6L532.9 138.7L534 141.8L534.6 144.8L534.6 147.9L535.1 151L536.4 154.1L538.3 157.2L539.5 160.2L540.7 163.3L541 166.4L541.4 169.4L542.1 172.5L543.3 175.6L544.8 178.7L546.4 181.8L547.5 184.8L548.1 187.9L549.1 191L549.1 192L554.4 202.2L558.1 212.5L563.3 222.8L568.1 233L573.3 243.2L578 253.5L582.9 263.8L587.4 274L591.8 284.2L596.2 294.5L600.3 304.8L604.4 315L608.4 325.2L612.4 335.5L616.4 345.8L620.6 356L624.8 366.2L629 376.5L633.1 386.8L637.2 397L641 407.2L644.8 417.5L648.5 427.8L652.2 438L655.9 448.2L659.6 458.5L663.2 468.8L666.9 479L670.5 489.2L674.1 499.5" stroke="#008cff" stroke-width="1.0" fill="none" stroke-linejoin="round" />
<path d="M435.5 89.5L436.8 90.1L435.3 90.7L434.1 91.3L433.9 92L434.9 92.6L434.9 93.2L437 93.8L438.8 94.4L441.1 95L442.5 95.7L443.9 96.3L446.1 96.9L446.7 97.5L448 98.1L452.3 98.7L455.4 99.3L458 100L462.8 100.6L464.6 101.2L468.5 101.8L469.7 102.4L474.3 103L476.1 103.6L479.6 104.3L480.7 104.9L482.7 105.5L486.5 106.1L488.5 106.7L489.6 107.3L491.4 108L493.4 108.6L494.7 109.2L496.3 109.8L497.3 110.4L500 111L500.5 111.6L501.7 112.3L502.7 112.9L503.7 113.5L505.1 114.1L510.3 117.2L514.5 120.2L519 123.3L523.5 126.4L526.4 129.5L528.2 132.6L530.9 135.6L532.8 138.7L533 141.8L533.9 144.8L535.9 147.9L536.5 151L537.5 154.1L538 157.2L538.6 160.2L539.1 163.3L539.7 166.4L541.1 169.4L542.2 172.5L544.1 175.6L545.4 178.7L546.4 181.8L547.1 184.8L548.1 187.9L549.4 191L549.5 192L553.4 202.2L558.1 212.5L563.3 222.8L567.7 233L572.6 243.2L577.6 253.5L582.2 263.8L586.7 274L591.1 284.2L595.7 294.5L599.8 304.8L603.9 315L607.8 325.2L611.8 335.5L615.9 345.8L620 356L624.2 366.2L628.4 376.5L632.6 386.8L636.6 397L640.5 407.2L644.2 417.5L648 427.8L651.6 438L655.3 448.2L659 458.5L662.7 468.8L666.3 479L669.9 489.2L673.6 499.5" stroke="#0082ff" stroke-width="1.0" fill="none" stroke-linejoin="round" />
<path d="M422.1 89.5L422.8 90.1L423.2 90.7L422.4 91.3L421.9 92L423.7 92.6L427.6 93.2L429.8 93.8L431.7 94.4L433 95L435.3 95.7L437.8 96.3L440.6 96.9L442.8 97.5L444.3 98.1L446.4 98.7L448.5 99.3L451 100L453.2 100.6L455.1 101.2L456.7 101.8L459.3 102.4L459.2 103L461.7 103.6L463.5 104.3L466.1 104.9L468.4 105.5L469.9 106.1L471.8 106.7L473.4 107.3L476.5 108L477.5 108.6L480.5 109.2L481.7 109.8L484.1 110.4L486 111L488.6 111.6L490.7 112.3L492.7 112.9L495.4 113.5L497.4 114.1L506.5 117.2L513.1 120.2L517.3 123.3L520 126.4L521.1 129.5L523.3 132.6L525.9 135.6L527.5 138.7L529.5 141.8L531.2 144.8L532.2 147.9L533.9 151L535.5 154.1L537.1 157.2L538.5 160.2L539.2 163.3L539.2 166.4L539.6 169.4L539.8 172.5L540.8 175.6L542.5 178.7L544.6 181.8L546.1 184.8L547.4 187.9L548.3 191L548.9 192L552 202.2L557.4 212.5L562.1 222.8L567.3 233L572.1 243.2L577.5 253.5L581.8 263.8L586.5 274L591 284.2L595.3 294.5L599.5 304.8L603.6 315L607.5 325.2L611.5 335.5L615.6 345.8L619.7 356L623.9 366.2L628.1 376.5L632.3 386.8L636.3 397L640.2 407.2L643.9 417.5L647.6 427.8L651.3 438L655 448.2L658.7 458.5L662.4 468.8L666 479L669.6 489.2L673.3 499.5" stroke="#0078ff" stroke-width="1.0" fill="none" stroke-linejoin="round" />
<path d="M430.9 89.5L431 90.1L430.9 90.7L430.1 91.3L429.8 92L432.4 92.6L434.4 93.2L438.1 93.8L438.7 94.4L441.9 95L442.8 95.7L444.5 96.3L446.8 96.9L449.4 97.5L451 98.1L454.8 98.7L457.6 99.3L461.1 100L464.7 100.6L467.4 101.2L470.8 101.8L473.5 102.4L476.1 103L478.8 103.6L480.9 104.3L483.5 104.9L485.3 105.5L487.7 106.1L490.2 106.7L491.6 107.3L493 108L494.3 108.6L495.3 109.2L496.9 109.8L498.4 110.4L500.3 111L501 111.6L502.9 112.3L503.6 112.9L505.7 113.5L507.6 114.1L513.4 117.2L518.6 120.2L523.1 123.3L527.1 126.4L529.8 129.5L531.7 132.6L532.6 135.6L532.7 138.7L532.8 141.8L532.8 144.8L534.1 147.9L535.8 151L537.5 154.1L539.5 157.2L540.6 160.2L541.7 163.3L542.2 166.4L542.7 169.4L543 172.5L543.9 175.6L544.7 178.7L545.9 181.8L547.3 184.8L548.6 187.9L550.1 191L550.4 192L554.7 202.2L559.6 212.5L564.4 222.8L569.3 233L574.8 243.2L579.9 253.5L584.2 263.8L589 274L593.5 284.2L597.7 294.5L602 304.8L606 315L610 325.2L614.1 335.5L618.1 345.8L622.2 356L626.4 366.2L630.6 376.5L634.8 386.8L638.8 397L642.7 407.2L646.4 417.5L650.2 427.8L653.8 438L657.5 448.2L661.2 458.5L664.9 468.8L668.5 479L672.2 489.2L675.8 499.5" stroke="#006eff" stroke-width="1.0" fill="none" stroke-linejoin="round" />
<path d="M428.3 89.5L426.4 90.1L426.2 90.7L427 91.3L427.5 92L428.9 92.6L428.1 93.2L426.9 93.8L427.7 94.4L427.2 95L431.3 95.7L432.3 96.3L433.4 96.9L435.8 97.5L436.2 98.1L438.5 98.7L439.7 99.3L442.6 100L444.5 100.6L447.5 101.2L449.1 101.8L452.4 102.4L455.3 103L457.7 103.6L458.6 104.3L460.2 104.9L462.3 105.5L464.6 106.1L467.6 106.7L469.3 107.3L470.8 108L473.2 108.6L474 109.2L476.8 109.8L478.6 110.4L480.5 111L483.3 111.6L485.1 112.3L486.9 112.9L488.8 113.5L490.8 114.1L499 117.2L505.3 120.2L511.7 123.3L515.8 126.4L519.3 129.5L522.3 132.6L524.5 135.6L526.8 138.7L528.1 141.8L529.2 144.8L530.2 147.9L531.4 151L533.1 154.1L534.9 157.2L536.4 160.2L537.8 163.3L539.1 166.4L539.2 169.4L540 172.5L540.6 175.6L541.9 178.7L542.9 181.8L544.3 184.8L545.7 187.9L547 191L547.5 192L552 202.2L557.2 212.5L562.3 222.8L567.5 233L573.2 243.2L578.2 253.5L583.1 263.8L587.5 274L592.1 284.2L596.3 294.5L600.5 304.8L604.6 315L608.5 325.2L612.5 335.5L616.6 345.8L620.7 356L624.9 366.2L629.1 376.5L633.3 386.8L637.3 397L641.2 407.2L645 417.5L648.7 427.8L652.4 438L656 448.2L659.7 458.5L663.4 468.8L667 479L670.7 489.2L674.3 499.5" stroke="#0064ff" stroke-width="1.0" fill="none" stroke-linejoin="round" />
<path d="M418.5 89.5L419.3 90.1L421.9 90.7L423.5 91.3L423.2 92L423.5 92.6L425.5 93.2L427.4 93.8L430.5 94.4L432.7 95L435.1 95.7L438 96.3L440.9 96.9L444.4 97.5L446.9 98.1L448.5 98.7L450.4 99.3L452.9 100L454.9 100.6L457.9 101.2L460.2 101.8L463.6 102.4L466.6 103L467.6 103.6L470 104.3L471.7 104.9L473.1 105.5L475.5 106.1L477.1 106.7L478.7 107.3L481 108L482.7 108.6L483.8 109.2L486.1 109.8L487 110.4L488.4 111L491 111.6L492.7 112.3L494.7 112.9L495.3 113.5L497.1 114.1L505 117.2L512 120.2L518.3 123.3L522.1 126.4L525.5 129.5L526.8 132.6L528.3 135.6L530.1 138.7L530.8 141.8L532.4 144.8L532.8 147.9L533.6 151L534.3 154.1L535.6 157.2L537.2 160.2L538.9 163.3L540.2 166.4L541.8 169.4L542.4 172.5L543.4 175.6L543.5 178.7L544.8 181.8L545.4 184.8L546.9 187.9L548 191L548.2 192L552.7 202.2L557.9 212.5L562 222.8L566.9 233L572.2 243.2L577.4 253.5L581.8 263.8L586.3 274L590.8 284.2L595.2 294.5L599.3 304.8L603.3 315L607.4 325.2L611.4 335.5L615.4 345.8L619.5 356L623.8 366.2L628 376.5L632.1 386.8L636.1 397L640 407.2L643.8 417.5L647.5 427.8L651.2 438L654.9 448.2L658.6 458.5L662.2 468.8L665.9 479L669.5 489.2L673.1 499.5" stroke="#005aff" stroke-width="1.0" fill="none" stroke-linejoin="round" />
<path d="M416.7 89.5L418.7 90.1L420.3 90.7L419.6 91.3L421 92L422 92.6L424.2 93.2L426.4 93.8L430 94.4L431.2 95L432.2 95.7L434.8 96.3L438.2 96.9L441.2 97.5L443.5 98.1L445.8 98.7L450.7 99.3L453.9 100L456.4 100.6L461.5 101.2L463 101.8L466.9 102.4L470.1 103L472.3 103.6L474.2 104.3L476.3 104.9L478.8 105.5L482 106.1L483.7 106.7L485.5 107.3L487.5 108L489 108.6L489.8 109.2L490.9 109.8L492.5 110.4L494.3 111L495.8 111.6L497.7 112.3L498.4 112.9L499.8 113.5L501.6 114.1L507.1 117.2L512.7 120.2L516.6 123.3L520.3 126.4L522.5 129.5L524.4 132.6L527.2 135.6L530.3 138.7L533.5 141.8L534.6 144.8L535.1 147.9L535.3 151L535.2 154.1L535.5 157.2L536.9 160.2L538.7 163.3L539.8 166.4L541.2 169.4L541.7 172.5L542.6 175.6L543.5 178.7L545 181.8L546.4 184.8L547.4 187.9L548.4 191L548.5 192L553.1 202.2L558.1 212.5L563 222.8L568.4 233L573.6 243.2L578.5 253.5L583.2 263.8L588 274L592.2 284.2L596.6 294.5L600.8 304.8L604.9 315L608.8 325.2L612.8 335.5L616.8 345.8L621 356L625.2 366.2L629.4 376.5L633.6 386.8L637.6 397L641.5 407.2L645.2 417.5L649 427.8L652.6 438L656.3 448.2L660 458.5L663.7 468.8L667.3 479L670.9 489.2L674.6 499.5" stroke="#0050ff" stroke-width="1.0" fill="none" stroke-linejoin="round" />
<path d="M432.8 89.5L433.3 90.1L435 90.7L436.4 91.3L434.8 92L433.9 92.6L433.9 93.2L434.6 93.8L437.6 94.4L437.2 95L437.9 95.7L438.3 96.3L439.8 96.9L441.8 97.5L446 98.1L449 98.7L451.8 99.3L453.5 100L457.2 100.6L460.5 101.2L463 101.8L466.3 102.4L468.8 103L470.2 103.6L472.8 104.3L474.5 104.9L478.1 105.5L480.4 106.1L481.3 106.7L483.9 107.3L485.2 108L486.9 108.6L489 109.2L491.5 109.8L492.4 110.4L493.3 111L495.1 111.6L495.8 112.3L498.1 112.9L499 113.5L501.5 114.1L507.3 117.2L510.8 120.2L516.2 123.3L519 126.4L522.9 129.5L524.7 132.6L527.6 135.6L530.2 138.7L531.7 141.8L533 144.8L534.1 147.9L535 151L536.3 154.1L536.6 157.2L537.3 160.2L538.2 163.3L539.1 166.4L539.9 169.4L541.2 172.5L542.5 175.6L543.7 178.7L545.4 181.8L546.4 184.8L547.4 187.9L548.8 191L549 192L552.7 202.2L558.1 212.5L563.6 222.8L568.1 233L573.3 243.2L578.8 253.5L583.3 263.8L587.6 274L592.3 284.2L596.7 294.5L600.7 304.8L604.9 315L608.9 325.2L612.8 335.5L616.8 345.8L621 356L625.3 366.2L629.4 376.5L633.6 386.8L637.6 397L641.5 407.2L645.3 417.5L649 427.8L652.7 438L656.4 448.2L660 458.5L663.7 468.8L667.4 479L671 489.2L674.6 499.5" stroke="#0047ff" stroke-width="1.0" fill="none" stroke-linejoin="round" />
<path d="M428.9 89.5L426.3 90.1L425.1 90.7L426.6 91.3L428.4 92L429.2 92.6L429 93.2L427.3 93.8L427.2 94.4L428.9 95L431.1 95.7L431.6 96.3L433 96.9L432.9 97.5L434.1 98.1L436.3 98.7L439.1 99.3L442 100L444 100.6L446.9 101.2L448.2 101.8L453.4 102.4L455.6 103L458.6 103.6L460.4 104.3L462.3 104.9L464.5 105.5L467.9 106.1L469.8 106.7L472.9 107.3L475.2 108L478.1 108.6L479.3 109.2L482.1 109.8L484.2 110.4L486.5 111L487.9 111.6L489.1 112.3L491.2 112.9L492.9 113.5L493.9 114.1L500.6 117.2L505 120.2L509 123.3L514.2 126.4L517.6 129.5L522.1 132.6L525.8 135.6L527.6 138.7L529.1 141.8L530.9 144.8L532.1 147.9L533.2 151L534.6 154.1L534.7 157.2L535.6 160.2L536.2 163.3L537.3 166.4L539.1 169.4L540.6 172.5L542 175.6L542.9 178.7L543.6 181.8L544.3 184.8L545.2 187.9L546.8 191L547.3 192L552.8 202.2L557.8 212.5L563.9 222.8L569.3 233L575.2 243.2L580.6 253.5L585.6 263.8L589.8 274L594.4 284.2L598.6 294.5L602.8 304.8L606.8 315L610.8 325.2L614.8 335.5L618.9 345.8L623 356L627.2 366.2L631.4 376.5L635.6 386.8L639.6 397L643.5 407.2L647.3 417.5L651 427.8L654.7 438L658.3 448.2L662 458.5L665.7 468.8L669.3 479L673 489.2L676.6 499.5" stroke="#003dff" stroke-width="1.0" fill="none" stroke-linejoin="round" />
<path d="M421.4 89.5L422.1 90.1L424.8 90.7L425.7 91.3L427.8 92L429.5 92.6L430.9 93.2L432.6 93.8L434.4 94.4L436.5 95L439 95.7L442.7 96.3L445.8 96.9L447.7 97.5L450.8 98.1L452 98.7L455.8 99.3L459.3 100L461.2 100.6L466.1 101.2L468.2 101.8L472.5 102.4L475.7 103L477.2 103.6L480 104.3L482.4 104.9L483.4 105.5L485.8 106.1L487.5 106.7L488.8 107.3L490.8 108L491.8 108.6L493.5 109.2L494 109.8L495.3 110.4L496.7 111L497.9 111.6L498.7 112.3L498.9 112.9L500.8 113.5L501.6 114.1L507.5 117.2L514.7 120.2L520.1 123.3L526.2 126.4L529.2 129.5L529.7 132.6L530.9 135.6L530.6 138.7L531.6 141.8L532.9 144.8L534.5 147.9L535.4 151L536.4 154.1L537.8 157.2L539.3 160.2L540.2 163.3L542 166.4L542.7 169.4L543.2 172.5L543.2 175.6L543.6 178.7L544.4 181.8L546 184.8L547.7 187.9L549.6 191L550.1 192L553.9 202.2L558.2 212.5L562.7 222.8L568.4 233L572.9 243.2L577.8 253.5L582.5 263.8L587.1 274L591.4 284.2L595.9 294.5L600 304.8L604.1 315L608.1 325.2L612.1 335.5L616.1 345.8L620.3 356L624.5 366.2L628.7 376.5L632.8 386.8L636.8 397L640.7 407.2L644.5 417.5L648.2 427.8L651.9 438L655.6 448.2L659.3 458.5L662.9 468.8L666.6 479L670.2 489.2L673.8 499.5" stroke="#0033ff" stroke-width="1.0" fill="none" stroke-linejoin="round" />
<path d="M429.5 89.5L426.3 90.1L425.9 90.7L426.8 91.3L427.7 92L430.5 92.6L433.9 93.2L435.2 93.8L436.5 94.4L437.5 95L437.5 95.7L438 96.3L438.3 96.9L440.2 97.5L445.1 98.1L446.1 98.7L450.7 99.3L452.8 100L455.7 100.6L459.4 101.2L459.1 101.8L461.4 102.4L462.2 103L464.7 103.6L466.2 104.3L467.2 104.9L469.2 105.5L471.8 106.1L472.9 106.7L475.6 107.3L476.8 108L478.8 108.6L480.6 109.2L482.2 109.8L483.3 110.4L485.3 111L487.5 111.6L489 112.3L491.2 112.9L492.5 113.5L496.6 114.1L503.2 117.2L509.7 120.2L516 123.3L519 126.4L521.6 129.5L524.3 132.6L526.8 135.6L529.4 138.7L531.5 141.8L532.5 144.8L533.3 147.9L533.5 151L533.9 154.1L534.8 157.2L535.8 160.2L537.9 163.3L539.5 166.4L540.9 169.4L541.5 172.5L542.2 175.6L543.3 178.7L544 181.8L545.5 184.8L546.6 187.9L547.9 191L548.2 192L552.1 202.2L557.3 212.5L562 222.8L566.8 233L572.1 243.2L576.9 253.5L581.7 263.8L586 274L590.6 284.2L594.9 294.5L599.1 304.8L603.2 315L607.1 325.2L611.2 335.5L615.2 345.8L619.4 356L623.5 366.2L627.8 376.5L631.9 386.8L635.9 397L639.8 407.2L643.6 417.5L647.3 427.8L651 438L654.6 448.2L658.3 458.5L662 468.8L665.7 479L669.3 489.2L672.9 499.5" stroke="#0029ff" stroke-width="1.0" fill="none" stroke-linejoin="round" />
<path d="M411.8 89.5L411.3 90.1L412.8 90.7L414.6 91.3L415.9 92L417.4 92.6L419.7 93.2L419.6 93.8L423.7 94.4L424.6 95L427.2 95.7L430.1 96.3L434.4 96.9L437 97.5L438.6 98.1L442.3 98.7L445 99.3L448.2 100L450.4 100.6L453.6 101.2L457 101.8L458.9 102.4L461.2 103L463.8 103.6L465.9 104.3L466.6 104.9L468.8 105.5L471.1 106.1L472.2 106.7L473.8 107.3L475.6 108L476.7 108.6L478.4 109.2L479.6 109.8L481.7 110.4L482.1 111L484.8 111.6L487.2 112.3L488.3 112.9L490.5 113.5L492.6 114.1L501 117.2L509.2 120.2L514 123.3L517.1 126.4L518.5 129.5L520.1 132.6L523.6 135.6L528 138.7L530.9 141.8L532.8 144.8L532.5 147.9L533.1 151L533.5 154.1L534.7 157.2L536.4 160.2L538.3 163.3L539 166.4L539.3 169.4L540 172.5L540.7 175.6L542.2 178.7L544.3 181.8L546.1 184.8L546.7 187.9L547.6 191L547.5 192L552.3 202.2L557.5 212.5L563 222.8L568.4 233L573.9 243.2L579.3 253.5L584 263.8L588.6 274L592.8 284.2L597.3 294.5L601.4 304.8L605.5 315L609.5 325.2L613.5 335.5L617.4 345.8L621.6 356L625.8 366.2L630.1 376.5L634.2 386.8L638.2 397L642.1 407.2L645.9 417.5L649.6 427.8L653.3 438L656.9 448.2L660.6 458.5L664.3 468.8L668 479L671.6 489.2L675.2 499.5" stroke="#001fff" stroke-width="1.0" fill="none" stroke-linejoin="round" />
<path d="M420.2 89.5L422.7 90.1L425 90.7L426.9 91.3L428.1 92L429.7 92.6L430.5 93.2L431.7 93.8L434.8 94.4L437.5 95L440.5 95.7L442.7 96.3L445.7 96.9L449 97.5L450.3 98.1L453.8 98.7L455.6 99.3L457.9 100L460.7 100.6L463.6 101.2L465.9 101.8L469.5 102.4L473.2 103L475.3 103.6L477.7 104.3L479.1 104.9L481.7 105.5L482.6 106.1L483.5 106.7L485.9 107.3L489.4 108L489.9 108.6L491.6 109.2L492.5 109.8L494.7 110.4L496.9 111L497.7 111.6L499.8 112.3L500.6 112.9L502.2 113.5L503.5 114.1L510.6 117.2L516.8 120.2L521.1 123.3L524.8 126.4L527.7 129.5L529.3 132.6L530.7 135.6L531.1 138.7L531.8 141.8L533.2 144.8L533.8 147.9L535.1 151L536.6 154.1L538.5 157.2L539.3 160.2L540.6 163.3L541.1 166.4L541.9 169.4L542.4 172.5L543.4 175.6L544.5 178.7L545.2 181.8L546.8 184.8L548 187.9L549.1 191L549.6 192L553.9 202.2L558.6 212.5L563.4 222.8L568.5 233L573.6 243.2L578.6 253.5L583.1 263.8L587.7 274L592.3 284.2L596.5 294.5L600.6 304.8L604.8 315L608.8 325.2L612.7 335.5L616.8 345.8L621 356L625.1 366.2L629.4 376.5L633.5 386.8L637.5 397L641.4 407.2L645.2 417.5L648.9 427.8L652.6 438L656.3 448.2L659.9 458.5L663.6 468.8L667.3 479L670.9 489.2L674.5 499.5" stroke="#0015ff" stroke-width="1.0" fill="none" stroke-linejoin="round" />
<path d="M421.9 89.5L422.3 90.1L424.1 90.7L424.5 91.3L426.5 92L427 92.6L426.6 93.2L427.3 93.8L430.7 94.4L433.2 95L436.5 95.7L438.4 96.3L442.8 96.9L444.6 97.5L448.2 98.1L450 98.7L453.2 99.3L457.1 100L458.9 100.6L462.6 101.2L465.8 101.8L467.6 102.4L470.9 103L473.4 103.6L476.6 104.3L478.4 104.9L479.8 105.5L481.9 106.1L483.6 106.7L484.5 107.3L487.3 108L488.3 108.6L489.2 109.2L490.3 109.8L492.6 110.4L492.8 111L494 111.6L495.5 112.3L496.9 112.9L498.3 113.5L498.8 114.1L504.3 117.2L508.9 120.2L514.4 123.3L519.6 126.4L523.3 129.5L527 132.6L530 135.6L532.4 138.7L533 141.8L532.9 144.8L532.6 147.9L533.3 151L534.2 154.1L535.8 157.2L537.2 160.2L538.9 163.3L540.4 166.4L541.5 169.4L542.6 172.5L543.1 175.6L544 178.7L544.5 181.8L545.5 184.8L546.4 187.9L548.1 191L548.3 192L553.5 202.2L557.6 212.5L562 222.8L567.4 233L572.6 243.2L577.2 253.5L581.9 263.8L586.6 274L591 284.2L595.2 294.5L599.5 304.8L603.6 315L607.5 325.2L611.5 335.5L615.6 345.8L619.7 356L623.9 366.2L628.2 376.5L632.3 386.8L636.3 397L640.2 407.2L644 417.5L647.7 427.8L651.4 438L655 448.2L658.7 458.5L662.4 468.8L666 479L669.7 489.2L673.3 499.5" stroke="#000bff" stroke-width="1.0" fill="none" stroke-linejoin="round" />
<path d="M418.6 89.5L420.4 90.1L422.2 90.7L423.2 91.3L423.9 92L425 92.6L427.6 93.2L430 93.8L431.5 94.4L433 95L435.8 95.7L438.2 96.3L440.3 96.9L442.7 97.5L445.4 98.1L449.9 98.7L451.2 99.3L454 100L456.7 100.6L459.1 101.2L460.7 101.8L463.1 102.4L465.9 103L469.1 103.6L471.3 104.3L474.4 104.9L477.1 105.5L479.6 106.1L481.7 106.7L483.5 107.3L485.4 108L487.5 108.6L488.9 109.2L490.9 109.8L493.3 110.4L495.7 111L496.3 111.6L498.8 112.3L500.7 112.9L502.1 113.5L504.1 114.1L509.4 117.2L513.3 120.2L517.7 123.3L520.7 126.4L524 129.5L526.6 132.6L529.1 135.6L530.5 138.7L531.9 141.8L532.4 144.8L533.4 147.9L535.2 151L536.3 154.1L537.4 157.2L538.4 160.2L538.9 163.3L539.8 166.4L540.4 169.4L541.7 172.5L543 175.6L544.3 178.7L545.5 181.8L546.6 184.8L547.5 187.9L548.6 191L548.6 192L553.2 202.2L557.4 212.5L562 222.8L566.9 233L571.8 243.2L576.5 253.5L581 263.8L585.6 274L590.1 284.2L594.5 294.5L598.6 304.8L602.7 315L606.7 325.2L610.7 335.5L614.7 345.8L618.9 356L623.1 366.2L627.3 376.5L631.5 386.8L635.5 397L639.3 407.2L643.1 417.5L646.8 427.8L650.5 438L654.2 448.2L657.9 458.5L661.6 468.8L665.2 479L668.8 489.2L672.4 499.5" stroke="#0001ff" stroke-width="1.0" fill="none" stroke-linejoin="round" />
<path d="M419.4 89.5L419 90.1L420.9 90.7L422.6 91.3L424.6 92L426.9 92.6L430.2 93.2L432.4 93.8L433.2 94.4L435.8 95L437.5 95.7L440.3 96.3L442.8 96.9L444.8 97.5L448.7 98.1L452.3 98.7L455.4 99.3L457.7 100L461.3 100.6L465.5 101.2L467.7 101.8L469.5 102.4L473.2 103L474.6 103.6L478.1 104.3L480.2 104.9L481.9 105.5L484.4 106.1L486 106.7L487.7 107.3L490.2 108L491.2 108.6L492.9 109.2L493.9 109.8L495.1 110.4L495.2 111L497.4 111.6L498.7 112.3L500 112.9L501.6 113.5L502.3 114.1L507.8 117.2L513.2 120.2L519.5 123.3L524.5 126.4L527.7 129.5L529.2 132.6L530.3 135.6L530.2 138.7L530.6 141.8L531.7 144.8L533.9 147.9L535.8 151L537.7 154.1L538.7 157.2L539 160.2L540 163.3L540.2 166.4L541.2 169.4L542 172.5L543.2 175.6L544.5 178.7L545.5 181.8L546.9 184.8L548.1 187.9L549.4 191L549.9 192L553.3 202.2L558.3 212.5L562.8 222.8L567.7 233L572.8 243.2L577.5 253.5L582.4 263.8L586.7 274L591.2 284.2L595.6 294.5L599.8 304.8L603.8 315L607.9 325.2L611.8 335.5L615.9 345.8L620 356L624.2 366.2L628.4 376.5L632.6 386.8L636.6 397L640.5 407.2L644.2 417.5L647.9 427.8L651.6 438L655.3 448.2L659 458.5L662.7 468.8L666.3 479L669.9 489.2L673.6 499.5" stroke="#0000f6" stroke-width="1.0" fill="none" stroke-linejoin="round" />
<path d="M422.2 89.5L421.4 90.1L422.9 90.7L424.3 91.3L426.9 92L429.6 92.6L432.8 93.2L434.8 93.8L437.7 94.4L439 95L440.7 95.7L442.2 96.3L446.1 96.9L447.5 97.5L449.4 98.1L453 98.7L455.3 99.3L457.4 100L461.6 100.6L465.6 101.2L467.9 101.8L470.3 102.4L472.3 103L473.6 103.6L475.3 104.3L478.3 104.9L479.2 105.5L482.4 106.1L484.2 106.7L486 107.3L488.6 108L490 108.6L492.2 109.2L493.8 109.8L496.6 110.4L497.8 111L499.2 111.6L501.5 112.3L502.7 112.9L504.8 113.5L506.8 114.1L513.4 117.2L516.9 120.2L519.8 123.3L522.2 126.4L524.8 129.5L527.4 132.6L529.9 135.6L531.8 138.7L532.2 141.8L533.8 144.8L534.6 147.9L536.4 151L538.7 154.1L539.6 157.2L539 160.2L539 163.3L539.7 166.4L540.9 169.4L542.4 172.5L543.5 175.6L544.9 178.7L545.6 181.8L546.7 184.8L548.1 187.9L549.8 191L550.3 192L552.6 202.2L557 212.5L561.3 222.8L565.9 233L569.8 243.2L574.7 253.5L579.2 263.8L583.7 274L588.2 284.2L592.7 294.5L596.8 304.8L600.9 315L604.9 325.2L608.8 335.5L612.9 345.8L617.1 356L621.3 366.2L625.4 376.5L629.6 386.8L633.6 397L637.5 407.2L641.3 417.5L645 427.8L648.7 438L652.4 448.2L656.1 458.5L659.7 468.8L663.4 479L667 489.2L670.6 499.5" stroke="#0000ec" stroke-width="1.0" fill="none" stroke-linejoin="round" />
<path d="M405.1 89.5L409.9 90.1L413.6 90.7L417.4 91.3L418.5 92L420.1 92.6L420.9 93.2L422.2 93.8L423.7 94.4L428 95L431.9 95.7L434.1 96.3L437.8 96.9L440.1 97.5L443.4 98.1L444.8 98.7L449.1 99.3L451.5 100L455.9 100.6L458.5 101.2L461.9 101.8L463.1 102.4L467.1 103L469.1 103.6L471.8 104.3L474.4 104.9L477.2 105.5L480.1 106.1L481.5 106.7L483.1 107.3L485.3 108L486.3 108.6L487.8 109.2L489.7 109.8L491.2 110.4L493.9 111L495 111.6L495.5 112.3L497.7 112.9L497.6 113.5L500 114.1L506.3 117.2L511.1 120.2L517.2 123.3L522 126.4L524.7 129.5L527.3 132.6L528.7 135.6L529.5 138.7L530 141.8L530.7 144.8L531.4 147.9L533.8 151L535.5 154.1L536.9 157.2L538.5 160.2L539.4 163.3L540.6 166.4L540.8 169.4L541.7 172.5L542.4 175.6L543.6 178.7L544.8 181.8L545.8 184.8L546.9 187.9L548.1 191L548 192L552.1 202.2L556.5 212.5L559.8 222.8L564.3 233L569.1 243.2L573.4 253.5L578.1 263.8L582.3 274L586.9 284.2L591.5 294.5L595.6 304.8L599.6 315L603.6 325.2L607.6 335.5L611.7 345.8L615.8 356L620 366.2L624.2 376.5L628.4 386.8L632.4 397L636.3 407.2L640.1 417.5L643.8 427.8L647.5 438L651.2 448.2L654.9 458.5L658.6 468.8L662.2 479L665.8 489.2L669.5 499.5" stroke="#0000e3" stroke-width="1.0" fill="none" stroke-linejoin="round" />
<path d="M409.6 89.5L410.2 90.1L412.2 90.7L414.2 91.3L418 92L420.6 92.6L425 93.2L427.7 93.8L430.2 94.4L431.6 95L434.5 95.7L437.4 96.3L439.1 96.9L443.9 97.5L446.3 98.1L449 98.7L452.2 99.3L453.8 100L456.6 100.6L459 101.2L461.4 101.8L463 102.4L466.9 103L470.2 103.6L473.2 104.3L475.7 104.9L477.8 105.5L480.7 106.1L483 106.7L484.2 107.3L486.6 108L489.7 108.6L490.8 109.2L493.2 109.8L495.1 110.4L497.1 111L498.4 111.6L500.7 112.3L501.7 112.9L503.4 113.5L504.8 114.1L509.6 117.2L512.6 120.2L515.5 123.3L519.3 126.4L523.4 129.5L526.4 132.6L529 135.6L531 138.7L532.1 141.8L533.4 144.8L534.5 147.9L535.9 151L536.7 154.1L537.4 157.2L537.9 160.2L538.6 163.3L539.3 166.4L540.3 169.4L541.6 172.5L542.7 175.6L544 178.7L545.8 181.8L546.8 184.8L547.6 187.9L548.8 191L549 192L552.7 202.2L556.3 212.5L560.9 222.8L565.6 233L569.8 243.2L574.5 253.5L579 263.8L583.8 274L588.1 284.2L592.5 294.5L596.7 304.8L600.9 315L604.7 325.2L608.7 335.5L612.8 345.8L617 356L621.1 366.2L625.4 376.5L629.5 386.8L633.5 397L637.4 407.2L641.2 417.5L644.9 427.8L648.6 438L652.3 448.2L655.9 458.5L659.6 468.8L663.3 479L666.9 489.2L670.5 499.5" stroke="#0000d9" stroke-width="1.0" fill="none" stroke-linejoin="round" />
<path d="M412.4 89.5L414.7 90.1L413.5 90.7L415.4 91.3L418.2 92L420.5 92.6L424.7 93.2L426.8 93.8L430.2 94.4L432.9 95L435.9 95.7L438.4 96.3L443 96.9L446.6 97.5L449.5 98.1L453.3 98.7L454.5 99.3L458.3 100L461.9 100.6L462.7 101.2L466.1 101.8L470.1 102.4L472.3 103L475 103.6L477.8 104.3L478.6 104.9L480.6 105.5L482.2 106.1L483.9 106.7L484.6 107.3L486.9 108L489 108.6L489.3 109.2L491.3 109.8L492.4 110.4L493.7 111L494.8 111.6L495.6 112.3L497 112.9L498.2 113.5L499.2 114.1L507.5 117.2L513.6 120.2L519.3 123.3L523.7 126.4L526.9 129.5L529.1 132.6L530.5 135.6L531.8 138.7L532.8 141.8L534.3 144.8L534.9 147.9L535.2 151L535.4 154.1L535.8 157.2L536.7 160.2L538.6 163.3L539.8 166.4L542.2 169.4L543.6 172.5L544.8 175.6L545 178.7L546 181.8L546.8 184.8L547.7 187.9L548.6 191L548.9 192L552 202.2L556.7 212.5L560.5 222.8L564.3 233L568.7 243.2L573.2 253.5L577.7 263.8L582.1 274L586.8 284.2L591.1 294.5L595.4 304.8L599.4 315L603.4 325.2L607.4 335.5L611.4 345.8L615.6 356L619.8 366.2L624 376.5L628.2 386.8L632.2 397L636.1 407.2L639.9 417.5L643.6 427.8L647.3 438L651 448.2L654.7 458.5L658.4 468.8L662.1 479L665.7 489.2L669.3 499.5" stroke="#0000cf" stroke-width="1.0" fill="none" stroke-linejoin="round" />
<path d="M409 89.5L411.3 90.1L413 90.7L415 91.3L418.2 92L419 92.6L422.2 93.2L423.7 93.8L426.6 94.4L428.1 95L429.7 95.7L434.7 96.3L439.4 96.9L443.4 97.5L445.5 98.1L447.9 98.7L450.1 99.3L453.6 100L456.2 100.6L459 101.2L461.8 101.8L464.3 102.4L466.4 103L469.3 103.6L471.9 104.3L475.2 104.9L476.2 105.5L478.6 106.1L480.3 106.7L482.6 107.3L483.9 108L485.5 108.6L487.6 109.2L488.6 109.8L490.3 110.4L492.4 111L493.5 111.6L495.2 112.3L497 112.9L497.8 113.5L498.7 114.1L505.1 117.2L511.2 120.2L516.1 123.3L521.2 126.4L523.9 129.5L526.2 132.6L527.4 135.6L529 138.7L530.4 141.8L532 144.8L534 147.9L535 151L536.6 154.1L537.7 157.2L537.5 160.2L538.1 163.3L538.9 166.4L539.9 169.4L540.9 172.5L542.4 175.6L543.5 178.7L544.7 181.8L545.5 184.8L546.8 187.9L548.4 191L548.9 192L552.7 202.2L555.5 212.5L560.4 222.8L564.9 233L569.3 243.2L573.6 253.5L578.2 263.8L583.1 274L587.4 284.2L591.8 294.5L596 304.8L600.1 315L604 325.2L608 335.5L612.1 345.8L616.2 356L620.5 366.2L624.7 376.5L628.8 386.8L632.8 397L636.7 407.2L640.5 417.5L644.2 427.8L647.9 438L651.6 448.2L655.2 458.5L658.9 468.8L662.6 479L666.2 489.2L669.8 499.5" stroke="#0000c5" stroke-width="1.0" fill="none" stroke-linejoin="round" />
<path d="M422 89.5L422 90.1L422.5 90.7L423.6 91.3L425.6 92L427.3 92.6L431.4 93.2L432.5 93.8L435.1 94.4L438.4 95L439.1 95.7L442 96.3L444.6 96.9L446 97.5L449.8 98.1L452.8 98.7L456.5 99.3L460.4 100L463.8 100.6L466.3 101.2L470.6 101.8L473.6 102.4L475.5 103L477.1 103.6L479.3 104.3L482.7 104.9L485.6 105.5L487.1 106.1L489.1 106.7L491.3 107.3L492.4 108L494 108.6L495.7 109.2L496.1 109.8L496.7 110.4L498.3 111L499.8 111.6L501.8 112.3L502.6 112.9L504.3 113.5L505 114.1L510.8 117.2L516.1 120.2L520.4 123.3L524.3 126.4L526.5 129.5L528.9 132.6L529.4 135.6L531.2 138.7L533.2 141.8L534.5 144.8L536.1 147.9L537.4 151L538 154.1L538.8 157.2L538.5 160.2L538.5 163.3L539.7 166.4L541 169.4L543 172.5L544.5 175.6L546.2 178.7L547.2 181.8L547.4 184.8L547.7 187.9L548.6 191L548.8 192L554 202.2L558.5 212.5L562.4 222.8L567.8 233L572.6 243.2L577.3 253.5L581.9 263.8L586.4 274L591.1 284.2L595.3 294.5L599.5 304.8L603.6 315L607.5 325.2L611.5 335.5L615.6 345.8L619.7 356L623.9 366.2L628.1 376.5L632.3 386.8L636.3 397L640.2 407.2L644 417.5L647.7 427.8L651.4 438L655 448.2L658.7 458.5L662.4 468.8L666 479L669.7 489.2L673.3 499.5" stroke="#0000bb" stroke-width="1.0" fill="none" stroke-linejoin="round" />
<path d="M416.5 89.5L419 90.1L422 90.7L423.6 91.3L426.7 92L428.5 92.6L432 93.2L434.8 93.8L437.9 94.4L441.6 95L441.8 95.7L445.8 96.3L448.4 96.9L450.7 97.5L455.7 98.1L458.6 98.7L460.6 99.3L463.5 100L467.4 100.6L470.3 101.2L472.3 101.8L475.6 102.4L478.7 103L481 103.6L483.8 104.3L486 104.9L488.2 105.5L489.9 106.1L492.8 106.7L494.6 107.3L495.8 108L496.2 108.6L498.3 109.2L499.8 109.8L500.8 110.4L503.1 111L503.8 111.6L505.8 112.3L506.2 112.9L507.9 113.5L509.3 114.1L514.1 117.2L519.6 120.2L523.9 123.3L527 126.4L530 129.5L531.6 132.6L533.9 135.6L534.5 138.7L534.5 141.8L535.4 144.8L535.8 147.9L536.8 151L537.6 154.1L538.8 157.2L539.8 160.2L541.3 163.3L542 166.4L543.1 169.4L543.6 172.5L545 175.6L545.6 178.7L547 181.8L548.1 184.8L549.1 187.9L550.2 191L550.4 192L553.6 202.2L557.1 212.5L561.4 222.8L565.4 233L569.3 243.2L573.7 253.5L578.4 263.8L582.9 274L587.2 284.2L591.8 294.5L596 304.8L600 315L604 325.2L608 335.5L612.1 345.8L616.2 356L620.4 366.2L624.6 376.5L628.8 386.8L632.8 397L636.7 407.2L640.4 417.5L644.2 427.8L647.9 438L651.5 448.2L655.2 458.5L658.9 468.8L662.5 479L666.2 489.2L669.8 499.5" stroke="#0000b1" stroke-width="1.0" fill="none" stroke-linejoin="round" />
<path d="M416.9 89.5L418.2 90.1L420.1 90.7L423.2 91.3L424.6 92L427.3 92.6L427.4 93.2L430 93.8L430.8 94.4L434.1 95L435.9 95.7L440.2 96.3L443.2 96.9L446 97.5L448.2 98.1L451.6 98.7L453.6 99.3L457.2 100L459 100.6L460.4 101.2L462.9 101.8L464.8 102.4L466.8 103L469.9 103.6L472.1 104.3L474.4 104.9L476.6 105.5L479.1 106.1L480.4 106.7L482.8 107.3L484.8 108L487.2 108.6L489.3 109.2L491.7 109.8L493.7 110.4L495.7 111L497.9 111.6L499.9 112.3L502 112.9L503.9 113.5L506.2 114.1L512.4 117.2L516.2 120.2L518.1 123.3L519.8 126.4L522.5 129.5L526.8 132.6L530.5 135.6L532.7 138.7L533.3 141.8L532.8 144.8L532.9 147.9L534.4 151L536.4 154.1L537.6 157.2L539 160.2L539 163.3L539.9 166.4L541 169.4L542.6 172.5L543.4 175.6L544.5 178.7L545.1 181.8L546.4 184.8L548 187.9L549.3 191L549.8 192L552.2 202.2L556.9 212.5L560.2 222.8L565 233L569.1 243.2L573.5 253.5L578.1 263.8L582.6 274L587.2 284.2L591.7 294.5L595.8 304.8L599.9 315L603.8 325.2L607.9 335.5L611.9 345.8L616 356L620.3 366.2L624.5 376.5L628.6 386.8L632.6 397L636.5 407.2L640.3 417.5L644 427.8L647.7 438L651.4 448.2L655.1 458.5L658.7 468.8L662.4 479L666 489.2L669.6 499.5" stroke="#0000a7" stroke-width="1.0" fill="none" stroke-linejoin="round" />
<path d="M408.3 89.5L411.3 90.1L411.6 90.7L413.3 91.3L415.3 92L420.3 92.6L424.3 93.2L429.1 93.8L433.9 94.4L437.4 95L441.7 95.7L444.8 96.3L446.8 96.9L450 97.5L451.8 98.1L454 98.7L458.3 99.3L462.6 100L466.2 100.6L469.3 101.2L473.2 101.8L476.8 102.4L479.7 103L481.8 103.6L485 104.3L487.6 104.9L489.9 105.5L492.1 106.1L494.3 106.7L497.2 107.3L498.7 108L501.4 108.6L503.3 109.2L505 109.8L506.4 110.4L508.2 111L510.2 111.6L510.9 112.3L513 112.9L513.6 113.5L515.1 114.1L519.1 117.2L521.8 120.2L523.4 123.3L525.9 126.4L527.3 129.5L530 132.6L532.1 135.6L533.7 138.7L534.4 141.8L536 144.8L538.1 147.9L539.2 151L540.1 154.1L539.9 157.2L540.5 160.2L540.9 163.3L541.4 166.4L542.2 169.4L543.4 172.5L544.4 175.6L545.9 178.7L546.6 181.8L548.4 184.8L549.5 187.9L551 191L551.2 192L554.6 202.2L558.5 212.5L563.1 222.8L568 233L572.4 243.2L576.9 253.5L581.6 263.8L586.4 274L590.8 284.2L595.1 294.5L599.3 304.8L603.4 315L607.4 325.2L611.3 335.5L615.4 345.8L619.6 356L623.7 366.2L627.9 376.5L632.1 386.8L636.1 397L640 407.2L643.8 417.5L647.5 427.8L651.2 438L654.9 448.2L658.5 458.5L662.2 468.8L665.9 479L669.5 489.2L673.1 499.5" stroke="#00009d" stroke-width="1.0" fill="none" stroke-linejoin="round" />
<path d="M412.5 89.5L412 90.1L412.7 90.7L415.2 91.3L419.8 92L423.3 92.6L425.3 93.2L427.5 93.8L430.2 94.4L431.1 95L434.5 95.7L437 96.3L439.5 96.9L442.2 97.5L444.6 98.1L448.1 98.7L451.9 99.3L454.4 100L455.6 100.6L457.8 101.2L461.7 101.8L462.7 102.4L464.9 103L469.2 103.6L471.4 104.3L473.8 104.9L476.3 105.5L477.7 106.1L479.8 106.7L482.3 107.3L484.3 108L486 108.6L487.4 109.2L489.7 109.8L492.1 110.4L493 111L495.1 111.6L496.9 112.3L498.6 112.9L500.2 113.5L501.1 114.1L508.4 117.2L513.8 120.2L517.2 123.3L521.4 126.4L523.9 129.5L526.5 132.6L528.1 135.6L530.4 138.7L532.3 141.8L533 144.8L533.2 147.9L534.3 151L535.6 154.1L536.5 157.2L538 160.2L539 163.3L539.9 166.4L541.6 169.4L542 172.5L543.2 175.6L544 178.7L545 181.8L545.9 184.8L546.9 187.9L548 191L548.4 192L552.6 202.2L556 212.5L559.8 222.8L564.2 233L568.7 243.2L572.9 253.5L577.4 263.8L582 274L586.6 284.2L590.9 294.5L595.1 304.8L599.2 315L603.2 325.2L607.1 335.5L611.2 345.8L615.4 356L619.6 366.2L623.8 376.5L628 386.8L632 397L635.9 407.2L639.7 417.5L643.4 427.8L647.1 438L650.8 448.2L654.6 458.5L658.3 468.8L661.9 479L665.6 489.2L669.2 499.5" stroke="#000093" stroke-width="1.0" fill="none" stroke-linejoin="round" />
<path d="M454.2 89.5L455.1 90.1L456.4 90.7L454.4 91.3L458.5 92L459.8 92.6L464 93.2L467.4 93.8L469.9 94.4L472.2 95L474.2 95.7L476.1 96.3L478.2 96.9L479.7 97.5L480.2 98.1L482.4 98.7L483.6 99.3L484.4 100L488 100.6L490.1 101.2L492.3 101.8L495.1 102.4L497.5 103L501.2 103.6L503.3 104.3L504.9 104.9L507.6 105.5L509.7 106.1L511 106.7L511.5 107.3L515 108L516.7 108.6L518.2 109.2L520.3 109.8L522.4 110.4L524.5 111L525.1 111.6L526.3 112.3L528.9 112.9L529.5 113.5L530.8 114.1L535 117.2L538.7 120.2L540.4 123.3L542.8 126.4L544.4 129.5L546.3 132.6L546.9 135.6L547.8 138.7L548.5 141.8L549.3 144.8L550.5 147.9L551.1 151L552.2 154.1L552.9 157.2L553.8 160.2L554.5 163.3L555.3 166.4L556.2 169.4L557 172.5L558 175.6L558.8 178.7L559.4 181.8L560.4 184.8L561.6 187.9L562.4 191L563 192L567.4 202.2L571.9 212.5L576.7 222.8L581.8 233L586.9 243.2L591.8 253.5L596.3 263.8L601 274L605.4 284.2L609.7 294.5L613.9 304.8L618 315L622 325.2L625.9 335.5L630 345.8L634.1 356L638.3 366.2L642.6 376.5L646.7 386.8L650.7 397L654.6 407.2L658.4 417.5L662.1 427.8L665.8 438L669.5 448.2L673.1 458.5L676.8 468.8L680.5 479L684.1 489.2L685 491.7" stroke="#0000ff" stroke-width="1.0" fill="none" stroke-linejoin="round" />
<path d="M450.9 89.5L452.8 90.1L456.6 90.7L458.8 91.3L459.4 92L460.5 92.6L463.3 93.2L466.9 93.8L470.2 94.4L472.6 95L473.9 95.7L475.2 96.3L475.7 96.9L477 97.5L478.5 98.1L481.8 98.7L483.2 99.3L486.2 100L487.9 100.6L490 101.2L490.3 101.8L492.8 102.4L495.7 103L498.4 103.6L500.9 104.3L502.5 104.9L504.6 105.5L507.9 106.1L509.1 106.7L511.7 107.3L513.4 108L515.4 108.6L514.9 109.2L518.6 109.8L519.3 110.4L521.5 111L523.6 111.6L525.3 112.3L526.1 112.9L527.3 113.5L528.5 114.1L533.5 117.2L536.3 120.2L538.9 123.3L541 126.4L542.1 129.5L543.7 132.6L544.7 135.6L546.3 138.7L547 141.8L547.1 144.8L548.6 147.9L549.5 151L550.3 154.1L551 157.2L552.5 160.2L553.2 163.3L554.4 166.4L555.6 169.4L556.2 172.5L557.2 175.6L558.3 178.7L558.9 181.8L560.1 184.8L561 187.9L562.1 191L562.8 192L566.9 202.2L571 212.5L575.5 222.8L580.4 233L585.2 243.2L590 253.5L594.5 263.8L599.1 274L603.6 284.2L607.9 294.5L612.2 304.8L616.2 315L620.2 325.2L624.2 335.5L628.2 345.8L632.4 356L636.6 366.2L640.8 376.5L644.9 386.8L649 397L652.8 407.2L656.6 417.5L660.3 427.8L664 438L667.7 448.2L671.4 458.5L675.1 468.8L678.7 479L681.6 487.2" stroke="#0000f8" stroke-width="1.0" fill="none" stroke-linejoin="round" />
<path d="M438.7 89.5L440 98.3L443.9 98.9L454.8 99.8L464.1 100.6L472 101.4L477.4 102.2L480.3 103L483 103.8L486 104.7L489.1 105.5L492.1 106.3L495.1 107.1L497.7 108L499.9 108.8L501.7 109.6L503.3 110.4L504.8 111.2L506.3 112L507.7 112.9L509 113.7L510.2 114.5L511.4 115.3L512.5 116.2L513.6 117L514.6 117.8L515.5 118.6L516.4 119.4L517.2 120.2L518 121.1L518.7 121.9L519.4 122.7L520 123.5L520.6 124.3L521.2 125.2L521.8 126L522.3 126.8L522.9 127.6L523.4 128.4L523.9 129.3L524.4 130.1L524.8 130.9L525.3 131.7L525.7 132.6L526.1 133.4L526.5 134.2L526.9 135L527.3 135.8L527.7 136.7L528 137.5L528.4 138.3L528.7 139.1L529.1 139.9L529.4 140.8L529.7 141.6L530 142.4L530.3 143.2L530.6 144L530.9 144.8L531.1 145.7L531.4 146.5L531.6 147.3L531.9 148.1L532.1 148.9L532.3 149.8L532.6 150.6L532.8 151.4L533 152.2L533.2 153.1L533.4 153.9L533.6 154.7L533.8 155.5L534 156.3L534.2 157.2L534.4 158L534.6 158.8L534.8 159.6L535 160.4L535.3 161.2L535.5 162.1L535.7 162.9L535.9 163.7L536.2 164.5L536.4 165.3L536.7 166.2L536.9 167L537.2 167.8L537.5 168.6L537.7 169.4L538 170.3L538.3 171.1L538.6 171.9L538.9 172.7L539.2 173.6L539.5 174.4L539.8 175.2L540.1 176L540.4 176.8L540.7 177.7L541 178.5L541.3 179.3L541.6 180.1L541.9 180.9L542.2 181.8L542.6 182.6L542.9 183.4L543.2 184.2L543.5 185L543.8 185.8L544.1 186.7L544.5 187.5L544.8 188.3L545.1 189.1L545.4 189.9L545.7 190.8L546 191.6L546.2 192L548.2 197.1L550.3 202.2L552.4 207.4L554.6 212.5L556.7 217.6L558.9 222.8L561.1 227.9L563.4 233L565.8 238.1L568.5 243.2L571.1 248.4L573.6 253.5L575.9 258.6L578 263.8L580.1 268.9L582.2 274L584.4 279.1L586.8 284.2L589.3 289.4L591.6 294.5L593.8 299.6L595.9 304.8L598 309.9L600.1 315L602.1 320.1L604 325.2L606 330.4L608 335.5L609.9 340.6L611.9 345.8L613.9 350.9L615.9 356L617.9 361.1L620 366.2L622.2 371.4L624.3 376.5L626.4 381.6L628.5 386.8L630.6 391.9L632.6 397L634.6 402.1L636.5 407.2L638.4 412.4L640.3 417.5L642.2 422.6L644.1 427.8L645.9 432.9L647.7 438L649.5 443.1L651.4 448.2L653.2 453.4L655 458.5L656.8 463.6L658.6 468.8L660.4 473.9L662.2 479L664 484.1L665.9 489.2L667.7 494.4L669.6 499.5" stroke="#000" stroke-width="6.8" fill="none" stroke-linejoin="round" stroke-dasharray="24.5 23" stroke-linejoin="miter"/></g>
<path d="M194.5 89V500M194 499.5H698M320.5 499v-6.5M446.5 499v-6.5M571.5 499v-6.5M697.5 499v-6.5M195 89.5h6.5M195 192.5h6.5M195 294.5h6.5M195 396.5h6.5" stroke="#262626" stroke-width="1" fill="none"/>
<text x="194.5" y="526.5" text-anchor="middle" class="tk">-200</text>
<text x="320.5" y="526.5" text-anchor="middle" class="tk">-150</text>
<text x="446.5" y="526.5" text-anchor="middle" class="tk">-100</text>
<text x="571.5" y="526.5" text-anchor="middle" class="tk">-50</text>
<text x="697.5" y="526.5" text-anchor="middle" class="tk">0</text>
<text x="187" y="97.2" text-anchor="end" class="tk">0</text>
<text x="187" y="200.2" text-anchor="end" class="tk">500</text>
<text x="187" y="302.2" text-anchor="end" class="tk">1000</text>
<text x="187" y="404.2" text-anchor="end" class="tk">1500</text>
<text x="187" y="507.2" text-anchor="end" class="tk">2000</text>
<path d="M938.5 89V499.5M1020.5 89V499.5M1102.5 89V499.5M1184.5 89V499.5M1267.5 89V499.5M1349.5 89V499.5" stroke="#262626" stroke-opacity="0.15" stroke-width="1" fill="none"/>
<path d="M856.5 192.5H1359M856.5 294.5H1359M856.5 396.5H1359" stroke="#262626" stroke-opacity="0.15" stroke-width="1" fill="none"/>
<g clip-path="url(#c2)"><path d="M1282.6 89.5L1266.1 90.3L1249.1 91.1L1236.8 92L1230.4 92.8L1225.5 93.6L1229 94.4L1232.8 95.2L1238.4 96.1L1238 96.9L1235.1 97.7L1233 98.5L1229.2 99.3L1222.9 100.2L1214.9 101L1205.3 101.8L1194.6 102.6L1186.2 103.4L1177.2 104.3L1167.5 105.1L1158.3 105.9L1148.4 106.7L1140.1 107.5L1130.1 108.4L1119.6 109.2L1113 110L1105.9 110.8L1098.8 111.6L1091.2 112.5L1084.7 113.3L1075.6 114.1L1063.1 117.2L1058.4 120.2L1056.2 123.3L1054.7 126.4L1051.5 129.5L1051.2 132.6L1048.8 135.6L1047.5 138.7L1045.5 141.8L1043.2 144.8L1042.3 147.9L1041.4 151L1040.4 154.1L1038.4 157.2L1037.1 160.2L1036 163.3L1034 166.4L1033.4 169.4L1031.8 172.5L1030.3 175.6L1029 178.7L1027.5 181.8L1026.9 184.8L1025.1 187.9L1024.1 191L1023.3 192L1018.7 202.2L1014.4 212.5L1010.1 222.8L1005.2 233L1000.7 243.2L995.8 253.5L990.5 263.8L985.3 274L979.9 284.2L974.8 294.5L969.9 304.8L965 315L960.2 325.2L955.4 335.5L950.5 345.8L945.5 356L940.5 366.2L935.4 376.5L930.4 386.8L925.5 397L920.8 407.2L916.2 417.5L911.7 427.8L907.1 438L902.5 448.2L897.9 458.5L893.2 468.8L888.5 479L883.8 489.2L879.1 499.5" stroke="#800000" stroke-width="1.0" fill="none" stroke-linejoin="round" />
<path d="M1364.3 89.5L1334.5 90.3L1304.7 91.1L1281.9 92L1267.3 92.8L1262.1 93.6L1258.6 94.4L1253.1 95.2L1247.3 96.1L1241.3 96.9L1237.3 97.7L1231.8 98.5L1227.4 99.3L1220.2 100.2L1210.9 101L1202.4 101.8L1192.3 102.6L1180.2 103.4L1173.1 104.3L1165.1 105.1L1154.5 105.9L1146.8 106.7L1136.4 107.5L1128.5 108.4L1119.4 109.2L1111.1 110L1103.4 110.8L1097.3 111.6L1089.2 112.5L1083.6 113.3L1074.7 114.1L1058.9 117.2L1057.1 120.2L1054.1 123.3L1051.8 126.4L1050.2 129.5L1048.1 132.6L1045.3 135.6L1043.5 138.7L1041.7 141.8L1041.4 144.8L1040 147.9L1039 151L1036.8 154.1L1036 157.2L1034.2 160.2L1033.3 163.3L1032.5 166.4L1031.2 169.4L1029.4 172.5L1029 175.6L1028 178.7L1026.9 181.8L1025.2 184.8L1024 187.9L1022.6 191L1022.1 192L1018.1 202.2L1013.8 212.5L1009.1 222.8L1005 233L1000.3 243.2L995 253.5L990 263.8L984.8 274L979.4 284.2L974.2 294.5L969.3 304.8L964.5 315L959.7 325.2L954.8 335.5L950 345.8L945 356L939.9 366.2L934.9 376.5L929.9 386.8L925 397L920.3 407.2L915.7 417.5L911.1 427.8L906.6 438L902 448.2L897.3 458.5L892.6 468.8L887.9 479L883.2 489.2L878.5 499.5" stroke="#890000" stroke-width="1.0" fill="none" stroke-linejoin="round" />
<path d="M1317.3 89.5L1297.1 90.3L1277.5 91.1L1268.2 92L1258.1 92.8L1250 93.6L1244.8 94.4L1241.4 95.2L1239.7 96.1L1231.3 96.9L1222.4 97.7L1219.2 98.5L1214.9 99.3L1210.5 100.2L1206.2 101L1197 101.8L1190.5 102.6L1188.3 103.4L1186.1 104.3L1179.5 105.1L1175.7 105.9L1174.1 106.7L1167.8 107.5L1165.2 108.4L1161.3 109.2L1158.2 110L1152.9 110.8L1148 111.6L1145.7 112.5L1143.4 113.3L1139 114.1L1126.5 117.2L1114.6 120.2L1103.2 123.3L1093.2 126.4L1084.3 129.5L1076.2 132.6L1071.6 135.6L1066.8 138.7L1062.4 141.8L1058.8 144.8L1055.2 147.9L1052.8 151L1050.5 154.1L1048.5 157.2L1045.4 160.2L1044.7 163.3L1041.8 166.4L1039.9 169.4L1038 172.5L1036.5 175.6L1034.4 178.7L1032.7 181.8L1030.6 184.8L1029.1 187.9L1027.4 191L1026.6 192L1021.5 202.2L1016.2 212.5L1011.5 222.8L1006.4 233L1001.4 243.2L996.2 253.5L991.1 263.8L985.9 274L980.7 284.2L975.6 294.5L970.6 304.8L965.7 315L961 325.2L956.1 335.5L951.2 345.8L946.3 356L941.2 366.2L936.2 376.5L931.2 386.8L926.3 397L921.6 407.2L917 417.5L912.4 427.8L907.9 438L903.3 448.2L898.7 458.5L894.1 468.8L889.4 479L884.8 489.2L880.2 499.5" stroke="#930000" stroke-width="1.0" fill="none" stroke-linejoin="round" />
<path d="M1358.8 89.5L1335 90.3L1313 91.1L1287.9 92L1275.7 92.8L1263.8 93.6L1252.5 94.4L1248.3 95.2L1242.8 96.1L1241 96.9L1236.2 97.7L1233.5 98.5L1226.1 99.3L1217.4 100.2L1207.7 101L1199.4 101.8L1189.4 102.6L1179.2 103.4L1170.7 104.3L1163.5 105.1L1151.4 105.9L1144.1 106.7L1136.2 107.5L1127 108.4L1119.8 109.2L1111.2 110L1104.6 110.8L1097.6 111.6L1091.3 112.5L1084.5 113.3L1077.7 114.1L1061.9 117.2L1056.5 120.2L1053.3 123.3L1054.1 126.4L1052.3 129.5L1049.9 132.6L1047.9 135.6L1045.3 138.7L1042.8 141.8L1042.6 144.8L1041.4 147.9L1039.4 151L1038 154.1L1037 157.2L1035.6 160.2L1033.7 163.3L1032.6 166.4L1031 169.4L1030.4 172.5L1028.2 175.6L1026.9 178.7L1025.4 181.8L1024 184.8L1022.6 187.9L1021.4 191L1020.7 192L1015.9 202.2L1012 212.5L1007.8 222.8L1003.8 233L999.2 243.2L994.3 253.5L989.2 263.8L983.8 274L978.5 284.2L973.5 294.5L968.4 304.8L963.6 315L958.8 325.2L954 335.5L949.1 345.8L944.2 356L939.1 366.2L934 376.5L929 386.8L924.1 397L919.4 407.2L914.8 417.5L910.2 427.8L905.7 438L901.1 448.2L896.4 458.5L891.7 468.8L886.9 479L882.1 489.2L877.3 499.5" stroke="#9d0000" stroke-width="1.0" fill="none" stroke-linejoin="round" />
<path d="M1337.1 89.5L1314.7 90.3L1295.1 91.1L1276.9 92L1262.2 92.8L1251.4 93.6L1244.5 94.4L1241.1 95.2L1238.9 96.1L1238.3 96.9L1233.6 97.7L1230 98.5L1222.6 99.3L1217.9 100.2L1212.5 101L1207 101.8L1202.2 102.6L1194.2 103.4L1190.9 104.3L1185.2 105.1L1179.9 105.9L1175.3 106.7L1169.3 107.5L1161 108.4L1155.2 109.2L1147.4 110L1142.9 110.8L1138 111.6L1132.5 112.5L1128.3 113.3L1124.1 114.1L1109 117.2L1098.3 120.2L1092.3 123.3L1084.8 126.4L1078.2 129.5L1072.8 132.6L1067.3 135.6L1063.8 138.7L1058.6 141.8L1055.6 144.8L1052.5 147.9L1050.4 151L1048.9 154.1L1045.7 157.2L1043.5 160.2L1042 163.3L1040.1 166.4L1037.8 169.4L1036.2 172.5L1034.1 175.6L1032.5 178.7L1030.4 181.8L1028.7 184.8L1027.2 187.9L1025.6 191L1024.7 192L1019.6 202.2L1014.4 212.5L1010.1 222.8L1005.2 233L1000.5 243.2L995.6 253.5L990.4 263.8L985 274L979.8 284.2L974.6 294.5L969.8 304.8L964.9 315L960 325.2L955.2 335.5L950.4 345.8L945.4 356L940.3 366.2L935.3 376.5L930.3 386.8L925.4 397L920.7 407.2L916.1 417.5L911.5 427.8L907 438L902.4 448.2L897.7 458.5L893.1 468.8L888.4 479L883.7 489.2L879 499.5" stroke="#a70000" stroke-width="1.0" fill="none" stroke-linejoin="round" />
<path d="M1337.6 89.5L1314.1 90.3L1290.5 91.1L1271.3 92L1258.1 92.8L1250.8 93.6L1247.2 94.4L1244 95.2L1243 96.1L1241.7 96.9L1236.9 97.7L1233.3 98.5L1227.8 99.3L1219.3 100.2L1211.1 101L1202 101.8L1191.6 102.6L1182.9 103.4L1173.5 104.3L1164.9 105.1L1155.6 105.9L1147.4 106.7L1137.8 107.5L1129.2 108.4L1120 109.2L1112.1 110L1105 110.8L1097.9 111.6L1089.1 112.5L1083.8 113.3L1076.2 114.1L1060.5 117.2L1058.2 120.2L1056.7 123.3L1054.5 126.4L1051.8 129.5L1051.1 132.6L1049.3 135.6L1047.8 138.7L1047.5 141.8L1046.7 144.8L1045.4 147.9L1043.6 151L1042.2 154.1L1042.1 157.2L1041.4 160.2L1039.8 163.3L1039.5 166.4L1038.2 169.4L1037 172.5L1036 175.6L1035.7 178.7L1034.2 181.8L1033.6 184.8L1032.5 187.9L1031.6 191L1030.7 192L1026.7 202.2L1021.5 212.5L1016 222.8L1010.4 233L1004.9 243.2L999.9 253.5L994.7 263.8L989.4 274L984.3 284.2L979.2 294.5L974.2 304.8L969.3 315L964.4 325.2L959.5 335.5L954.6 345.8L949.6 356L944.6 366.2L939.6 376.5L934.7 386.8L929.9 397L925.2 407.2L920.5 417.5L915.9 427.8L911.4 438L906.9 448.2L902.4 458.5L897.9 468.8L893.5 479L889.1 489.2L884.8 499.5" stroke="#b10000" stroke-width="1.0" fill="none" stroke-linejoin="round" />
<path d="M1339.5 89.5L1315.3 90.3L1293.3 91.1L1273.9 92L1262.5 92.8L1255.7 93.6L1248.5 94.4L1243.8 95.2L1241.1 96.1L1238.7 96.9L1233.9 97.7L1233.3 98.5L1230.6 99.3L1226.7 100.2L1222.7 101L1219.8 101.8L1215.1 102.6L1212 103.4L1209 104.3L1207 105.1L1201.1 105.9L1199.7 106.7L1195 107.5L1190 108.4L1185.7 109.2L1181.8 110L1176.5 110.8L1171.5 111.6L1167.1 112.5L1163.2 113.3L1159.8 114.1L1144.4 117.2L1130.9 120.2L1116.6 123.3L1106.2 126.4L1096.8 129.5L1085.9 132.6L1078.4 135.6L1073.7 138.7L1069 141.8L1066.7 144.8L1064.3 147.9L1061.6 151L1059.3 154.1L1058 157.2L1057 160.2L1055.7 163.3L1053.8 166.4L1052.8 169.4L1051.5 172.5L1050 175.6L1049.3 178.7L1047.6 181.8L1046.8 184.8L1045.5 187.9L1044 191L1043.4 192L1038.4 202.2L1032.6 212.5L1026 222.8L1019.8 233L1013.9 243.2L1008.2 253.5L1002.4 263.8L997 274L991.5 284.2L986.1 294.5L980.8 304.8L975.4 315L970.2 325.2L964.8 335.5L959.6 345.8L954.2 356L948.7 366.2L943.3 376.5L938 386.8L932.9 397L928.1 407.2L923.4 417.5L918.8 427.8L914.3 438L909.9 448.2L905.6 458.5L901.4 468.8L897.2 479L893.1 489.2L889.1 499.5" stroke="#bb0000" stroke-width="1.0" fill="none" stroke-linejoin="round" />
<path d="M1340.7 89.5L1319.9 90.3L1302.3 91.1L1289.6 92L1273.6 92.8L1263 93.6L1252.4 94.4L1246.5 95.2L1241.3 96.1L1234.4 96.9L1227.1 97.7L1221.9 98.5L1213.7 99.3L1203.1 100.2L1191.4 101L1182.2 101.8L1172.2 102.6L1164.4 103.4L1156.4 104.3L1144.7 105.1L1138.4 105.9L1129.2 106.7L1122.3 107.5L1113.4 108.4L1106.3 109.2L1100 110L1093.4 110.8L1087.4 111.6L1081.1 112.5L1075.9 113.3L1069.3 114.1L1059.2 117.2L1056.7 120.2L1053.4 123.3L1051.8 126.4L1048.3 129.5L1047.1 132.6L1045.6 135.6L1044 138.7L1043.1 141.8L1041 144.8L1040.7 147.9L1038.7 151L1038.1 154.1L1035.9 157.2L1036.4 160.2L1035.6 163.3L1034.3 166.4L1032.5 169.4L1031.7 172.5L1030.7 175.6L1030.4 178.7L1028.8 181.8L1027.7 184.8L1026.1 187.9L1025.4 191L1025.1 192L1020.9 202.2L1016.3 212.5L1011.5 222.8L1006.6 233L1001.6 243.2L996.7 253.5L991.6 263.8L986.3 274L981 284.2L975.9 294.5L970.9 304.8L966 315L961.2 325.2L956.4 335.5L951.5 345.8L946.5 356L941.5 366.2L936.4 376.5L931.4 386.8L926.6 397L921.9 407.2L917.2 417.5L912.7 427.8L908.1 438L903.6 448.2L899 458.5L894.4 468.8L889.7 479L885.1 489.2L880.5 499.5" stroke="#c50000" stroke-width="1.0" fill="none" stroke-linejoin="round" />
<path d="M1308 89.5L1281.2 90.3L1263.8 91.1L1250.1 92L1243.6 92.8L1240.2 93.6L1240.1 94.4L1238.2 95.2L1241.2 96.1L1239.2 96.9L1236 97.7L1231.8 98.5L1226.9 99.3L1220.1 100.2L1211.8 101L1203.3 101.8L1191.6 102.6L1181.3 103.4L1174.7 104.3L1164.9 105.1L1154.5 105.9L1146.6 106.7L1136.2 107.5L1127.9 108.4L1119.9 109.2L1113.3 110L1105.9 110.8L1100.1 111.6L1094.4 112.5L1084.9 113.3L1079.8 114.1L1063.9 117.2L1059.6 120.2L1055.1 123.3L1055.8 126.4L1054 129.5L1053.1 132.6L1050.6 135.6L1049 138.7L1046.8 141.8L1046.6 144.8L1046.1 147.9L1045 151L1044.8 154.1L1042.1 157.2L1040.9 160.2L1039.7 163.3L1039 166.4L1038.1 169.4L1037.1 172.5L1035.8 175.6L1034.7 178.7L1033.5 181.8L1032.7 184.8L1031.5 187.9L1030 191L1029.8 192L1024.8 202.2L1020.1 212.5L1014.6 222.8L1009.4 233L1004.3 243.2L999.1 253.5L994 263.8L988.7 274L983.6 284.2L978.4 294.5L973.4 304.8L968.5 315L963.6 325.2L958.8 335.5L953.9 345.8L948.9 356L943.9 366.2L938.9 376.5L934 386.8L929.1 397L924.4 407.2L919.8 417.5L915.2 427.8L910.7 438L906.1 448.2L901.6 458.5L897.1 468.8L892.7 479L888.2 489.2L883.8 499.5" stroke="#cf0000" stroke-width="1.0" fill="none" stroke-linejoin="round" />
<path d="M1305.4 89.5L1283.8 90.3L1271.6 91.1L1263.8 92L1257.2 92.8L1253.8 93.6L1245.5 94.4L1237.8 95.2L1229.3 96.1L1225.6 96.9L1225.5 97.7L1222.4 98.5L1213.3 99.3L1201.1 100.2L1189.6 101L1181 101.8L1171.8 102.6L1163.4 103.4L1154.7 104.3L1144.2 105.1L1135.1 105.9L1127 106.7L1121 107.5L1111.9 108.4L1103.7 109.2L1098.4 110L1092.2 110.8L1087.3 111.6L1081.3 112.5L1075.4 113.3L1072.1 114.1L1060.6 117.2L1057.9 120.2L1056.4 123.3L1053.6 126.4L1051.3 129.5L1050.4 132.6L1048.2 135.6L1046.9 138.7L1045.4 141.8L1043.5 144.8L1042.9 147.9L1041.5 151L1040.9 154.1L1039.6 157.2L1039 160.2L1037.5 163.3L1036.9 166.4L1035.8 169.4L1034.3 172.5L1033.6 175.6L1032.8 178.7L1031.6 181.8L1030.6 184.8L1029.5 187.9L1028.4 191L1027.7 192L1023.6 202.2L1018.8 212.5L1013.8 222.8L1008.4 233L1003.3 243.2L998.3 253.5L993 263.8L987.8 274L982.6 284.2L977.5 294.5L972.5 304.8L967.6 315L962.7 325.2L957.9 335.5L953 345.8L948 356L943 366.2L938 376.5L933 386.8L928.2 397L923.5 407.2L918.8 417.5L914.3 427.8L909.7 438L905.2 448.2L900.6 458.5L896.1 468.8L891.6 479L887.1 489.2L882.6 499.5" stroke="#d90000" stroke-width="1.0" fill="none" stroke-linejoin="round" />
<path d="M1312.1 89.5L1297.6 90.3L1283.4 91.1L1272.5 92L1262.7 92.8L1254.5 93.6L1247.9 94.4L1239 95.2L1231.8 96.1L1226.6 96.9L1221.7 97.7L1214.9 98.5L1208.9 99.3L1201.3 100.2L1195 101L1188.7 101.8L1182 102.6L1173.8 103.4L1170.1 104.3L1163.7 105.1L1158.7 105.9L1151.1 106.7L1146.3 107.5L1140.9 108.4L1135.1 109.2L1131 110L1125.7 110.8L1122 111.6L1117.4 112.5L1114.6 113.3L1110.9 114.1L1100.4 117.2L1093.3 120.2L1086.9 123.3L1081.7 126.4L1076.7 129.5L1070.6 132.6L1065.9 135.6L1062.9 138.7L1059.9 141.8L1056.9 144.8L1054.6 147.9L1052.3 151L1050.8 154.1L1048.9 157.2L1046.8 160.2L1045 163.3L1042.8 166.4L1041.9 169.4L1040.9 172.5L1038.9 175.6L1037.4 178.7L1036 181.8L1034.1 184.8L1032.4 187.9L1031.5 191L1031.1 192L1025.8 202.2L1020.3 212.5L1014.9 222.8L1009.5 233L1004.2 243.2L998.9 253.5L993.7 263.8L988.5 274L983.3 284.2L978.3 294.5L973.3 304.8L968.4 315L963.5 325.2L958.7 335.5L953.7 345.8L948.8 356L943.8 366.2L938.8 376.5L933.8 386.8L929 397L924.2 407.2L919.6 417.5L915 427.8L910.5 438L906 448.2L901.4 458.5L896.9 468.8L892.5 479L888 489.2L883.6 499.5" stroke="#e30000" stroke-width="1.0" fill="none" stroke-linejoin="round" />
<path d="M1301 89.5L1280.3 90.3L1264.5 91.1L1248.6 92L1239.1 92.8L1235.3 93.6L1234.5 94.4L1235 95.2L1236.6 96.1L1238.7 96.9L1238.2 97.7L1232.6 98.5L1231.7 99.3L1227.5 100.2L1222.8 101L1217.6 101.8L1214.1 102.6L1211.7 103.4L1208.9 104.3L1205.7 105.1L1203 105.9L1199.5 106.7L1193.6 107.5L1187.6 108.4L1185.1 109.2L1179.9 110L1176.9 110.8L1172.1 111.6L1167.4 112.5L1162.4 113.3L1160.3 114.1L1144.5 117.2L1130.3 120.2L1117 123.3L1106 126.4L1096.7 129.5L1086.6 132.6L1079.3 135.6L1072.8 138.7L1070.9 141.8L1066.4 144.8L1065.5 147.9L1062.7 151L1061.4 154.1L1059 157.2L1057.6 160.2L1056.6 163.3L1055.3 166.4L1054.2 169.4L1052.8 172.5L1051.9 175.6L1050.8 178.7L1049.7 181.8L1048.4 184.8L1047.6 187.9L1046.1 191L1045.5 192L1040.4 202.2L1034.5 212.5L1028.2 222.8L1021.8 233L1015.6 243.2L1009.8 253.5L1004.2 263.8L998.6 274L993.1 284.2L987.7 294.5L982.2 304.8L976.7 315L971.3 325.2L966 335.5L960.5 345.8L955.1 356L949.5 366.2L944 376.5L938.6 386.8L933.4 397L928.5 407.2L923.8 417.5L919.3 427.8L914.8 438L910.4 448.2L906.1 458.5L901.9 468.8L897.8 479L893.8 489.2L889.9 499.5" stroke="#ec0000" stroke-width="1.0" fill="none" stroke-linejoin="round" />
<path d="M1284.4 89.5L1271.9 90.3L1256.9 91.1L1241.5 92L1233.7 92.8L1232.3 93.6L1231.9 94.4L1233 95.2L1232.6 96.1L1233.7 96.9L1230.2 97.7L1226 98.5L1220.6 99.3L1210 100.2L1202 101L1193.9 101.8L1183.7 102.6L1174.2 103.4L1166.3 104.3L1157.1 105.1L1149.1 105.9L1140.8 106.7L1132.5 107.5L1123.7 108.4L1115.7 109.2L1109.5 110L1102.7 110.8L1095.1 111.6L1088.8 112.5L1083 113.3L1076.6 114.1L1062.9 117.2L1057.4 120.2L1054.2 123.3L1052 126.4L1052.2 129.5L1050 132.6L1048 135.6L1046.4 138.7L1044.7 141.8L1042.9 144.8L1041.6 147.9L1040.8 151L1039.1 154.1L1037.4 157.2L1037.2 160.2L1035.3 163.3L1034.3 166.4L1032.6 169.4L1031.6 172.5L1030.4 175.6L1029.1 178.7L1027.7 181.8L1026.1 184.8L1025.1 187.9L1023.6 191L1022.8 192L1018.4 202.2L1014.5 212.5L1010.1 222.8L1005.5 233L1000.6 243.2L995.6 253.5L990.6 263.8L985.1 274L979.9 284.2L974.7 294.5L969.8 304.8L965 315L960.2 325.2L955.3 335.5L950.4 345.8L945.5 356L940.4 366.2L935.3 376.5L930.3 386.8L925.4 397L920.7 407.2L916.1 417.5L911.6 427.8L907.1 438L902.5 448.2L897.8 458.5L893.1 468.8L888.5 479L883.8 489.2L879.1 499.5" stroke="#f60000" stroke-width="1.0" fill="none" stroke-linejoin="round" />
<path d="M1291.6 89.5L1266.1 90.3L1250.7 91.1L1236.6 92L1235.7 92.8L1236.8 93.6L1235.3 94.4L1228.2 95.2L1229.1 96.1L1228.6 96.9L1228.7 97.7L1229.8 98.5L1226.7 99.3L1219.5 100.2L1209.5 101L1202.5 101.8L1194.6 102.6L1185.6 103.4L1174.9 104.3L1169.5 105.1L1160.1 105.9L1149.2 106.7L1139.6 107.5L1129.2 108.4L1118.7 109.2L1111.5 110L1103.9 110.8L1097.9 111.6L1087.1 112.5L1079.7 113.3L1074.3 114.1L1056.5 117.2L1056.1 120.2L1056.7 123.3L1053 126.4L1050 129.5L1047.4 132.6L1046.9 135.6L1046.6 138.7L1044.6 141.8L1042.8 144.8L1041.5 147.9L1040.6 151L1039.7 154.1L1039.1 157.2L1037.7 160.2L1037.4 163.3L1035.3 166.4L1034.9 169.4L1033.6 172.5L1032.9 175.6L1032 178.7L1030.9 181.8L1029.5 184.8L1028.2 187.9L1027.2 191L1027 192L1022.5 202.2L1017.9 212.5L1012.7 222.8L1008 233L1002.7 243.2L997.6 253.5L992.5 263.8L987.2 274L982 284.2L976.9 294.5L972 304.8L967.1 315L962.2 325.2L957.3 335.5L952.5 345.8L947.5 356L942.4 366.2L937.4 376.5L932.5 386.8L927.6 397L922.9 407.2L918.3 417.5L913.7 427.8L909.2 438L904.6 448.2L900 458.5L895.5 468.8L890.9 479L886.4 489.2L881.8 499.5" stroke="#ff0100" stroke-width="1.0" fill="none" stroke-linejoin="round" />
<path d="M1296.1 89.5L1275.1 90.3L1256.2 91.1L1241.1 92L1236.2 92.8L1234.4 93.6L1235.2 94.4L1237.7 95.2L1236.6 96.1L1236.6 96.9L1234.3 97.7L1233.8 98.5L1231.1 99.3L1221.7 100.2L1213.2 101L1206.2 101.8L1196.6 102.6L1186.6 103.4L1178.4 104.3L1167.2 105.1L1157.8 105.9L1148.6 106.7L1138 107.5L1126.7 108.4L1117.7 109.2L1110 110L1103.4 110.8L1094.5 111.6L1088.2 112.5L1081.3 113.3L1073.8 114.1L1060.6 117.2L1055.6 120.2L1052.8 123.3L1050.9 126.4L1049.9 129.5L1048.6 132.6L1047.3 135.6L1045.1 138.7L1043.5 141.8L1043.3 144.8L1042.2 147.9L1040.2 151L1039 154.1L1038.6 157.2L1037.5 160.2L1036.7 163.3L1035.7 166.4L1035 169.4L1034 172.5L1033.2 175.6L1032.7 178.7L1031.4 181.8L1030.5 184.8L1029.5 187.9L1028.8 191L1028.5 192L1024.2 202.2L1019.3 212.5L1014.3 222.8L1008.7 233L1003.7 243.2L998.4 253.5L993.3 263.8L988 274L982.8 284.2L977.7 294.5L972.7 304.8L967.8 315L963 325.2L958.1 335.5L953.2 345.8L948.2 356L943.2 366.2L938.2 376.5L933.2 386.8L928.4 397L923.7 407.2L919.1 417.5L914.5 427.8L909.9 438L905.4 448.2L900.8 458.5L896.3 468.8L891.8 479L887.3 489.2L882.9 499.5" stroke="#ff0b00" stroke-width="1.0" fill="none" stroke-linejoin="round" />
<path d="M1292.2 89.5L1279.3 90.3L1267.4 91.1L1256 92L1247.1 92.8L1241.6 93.6L1239.6 94.4L1234.3 95.2L1230.9 96.1L1225.1 96.9L1218.3 97.7L1213.3 98.5L1207.9 99.3L1200 100.2L1194.3 101L1182.5 101.8L1173.6 102.6L1162.1 103.4L1154.1 104.3L1146.5 105.1L1139 105.9L1131.5 106.7L1124 107.5L1115.3 108.4L1107.8 109.2L1102.8 110L1098.6 110.8L1093.3 111.6L1087.8 112.5L1082.9 113.3L1079.7 114.1L1067.1 117.2L1063.8 120.2L1060.5 123.3L1059.7 126.4L1057 129.5L1054.7 132.6L1054.1 135.6L1051.5 138.7L1048.7 141.8L1046.5 144.8L1044.9 147.9L1043.4 151L1042.5 154.1L1041.3 157.2L1040.2 160.2L1038.3 163.3L1036.7 166.4L1035.2 169.4L1033.6 172.5L1031.6 175.6L1031.1 178.7L1029.4 181.8L1027.5 184.8L1026.1 187.9L1024.5 191L1023.6 192L1019.1 202.2L1014.6 212.5L1010 222.8L1005.5 233L1000.8 243.2L996 253.5L990.7 263.8L985.4 274L980.2 284.2L975 294.5L970.1 304.8L965.2 315L960.4 325.2L955.6 335.5L950.7 345.8L945.7 356L940.7 366.2L935.6 376.5L930.6 386.8L925.7 397L921 407.2L916.4 417.5L911.9 427.8L907.3 438L902.7 448.2L898.1 458.5L893.4 468.8L888.8 479L884.1 489.2L879.4 499.5" stroke="#ff1500" stroke-width="1.0" fill="none" stroke-linejoin="round" />
<path d="M1269.5 89.5L1253.1 90.3L1241.7 91.1L1240 92L1235.9 92.8L1234.1 93.6L1232 94.4L1230.5 95.2L1232.1 96.1L1232.9 96.9L1229.7 97.7L1221.3 98.5L1217.1 99.3L1208.4 100.2L1204.4 101L1198.6 101.8L1192.2 102.6L1183.5 103.4L1177.6 104.3L1170.7 105.1L1163.6 105.9L1157.3 106.7L1150.1 107.5L1143.2 108.4L1138.7 109.2L1133.6 110L1129.3 110.8L1124.4 111.6L1121.7 112.5L1116.7 113.3L1113.8 114.1L1102.4 117.2L1094.1 120.2L1086.9 123.3L1080.2 126.4L1075.4 129.5L1070.8 132.6L1066.6 135.6L1063.1 138.7L1058.9 141.8L1056.5 144.8L1054.5 147.9L1052.2 151L1051 154.1L1048.9 157.2L1047.3 160.2L1045.1 163.3L1043 166.4L1042.1 169.4L1040.3 172.5L1039.1 175.6L1037.6 178.7L1036.2 181.8L1034.6 184.8L1033.2 187.9L1031.7 191L1031.5 192L1025.8 202.2L1020.5 212.5L1015 222.8L1009.7 233L1004.2 243.2L999 253.5L993.8 263.8L988.7 274L983.5 284.2L978.4 294.5L973.5 304.8L968.6 315L963.6 325.2L958.8 335.5L953.9 345.8L948.9 356L943.9 366.2L938.9 376.5L933.9 386.8L929.1 397L924.4 407.2L919.8 417.5L915.2 427.8L910.6 438L906.1 448.2L901.6 458.5L897.1 468.8L892.6 479L888.2 489.2L883.8 499.5" stroke="#ff1f00" stroke-width="1.0" fill="none" stroke-linejoin="round" />
<path d="M1270.9 89.5L1257.4 90.3L1250.5 91.1L1243.1 92L1237.3 92.8L1235.2 93.6L1230.3 94.4L1227.7 95.2L1227.6 96.1L1223.3 96.9L1222.7 97.7L1214.1 98.5L1207.6 99.3L1192.9 100.2L1184.9 101L1178.2 101.8L1170.3 102.6L1161.5 103.4L1151.2 104.3L1142.4 105.1L1134.5 105.9L1126.1 106.7L1118.8 107.5L1110.8 108.4L1103.9 109.2L1098.5 110L1093.8 110.8L1088.2 111.6L1083.5 112.5L1076.9 113.3L1072 114.1L1062.3 117.2L1057.6 120.2L1055.8 123.3L1054.3 126.4L1052 129.5L1050.8 132.6L1049.4 135.6L1049.8 138.7L1048.5 141.8L1046 144.8L1044.2 147.9L1042.9 151L1042.2 154.1L1042.2 157.2L1040.4 160.2L1040.2 163.3L1038.6 166.4L1037.7 169.4L1037.2 172.5L1035.8 175.6L1034.4 178.7L1033.5 181.8L1032.5 184.8L1031.7 187.9L1030.3 191L1029.8 192L1025.4 202.2L1020.4 212.5L1015.2 222.8L1009.9 233L1004.5 243.2L999.4 253.5L994 263.8L988.8 274L983.7 284.2L978.6 294.5L973.6 304.8L968.6 315L963.8 325.2L958.9 335.5L954 345.8L949 356L944 366.2L939 376.5L934.1 386.8L929.2 397L924.5 407.2L919.9 417.5L915.3 427.8L910.8 438L906.2 448.2L901.7 458.5L897.2 468.8L892.8 479L888.4 489.2L884 499.5" stroke="#ff2900" stroke-width="1.0" fill="none" stroke-linejoin="round" />
<path d="M1276 89.5L1266.4 90.3L1257.9 91.1L1251.7 92L1244.9 92.8L1241.6 93.6L1235 94.4L1227.3 95.2L1222.9 96.1L1221.5 96.9L1217.7 97.7L1212.6 98.5L1203.1 99.3L1194.9 100.2L1186 101L1179.2 101.8L1173.4 102.6L1168.4 103.4L1163.5 104.3L1157.6 105.1L1153.6 105.9L1146.4 106.7L1141.6 107.5L1137.6 108.4L1133.8 109.2L1128.3 110L1124.5 110.8L1120.5 111.6L1119.2 112.5L1115.1 113.3L1114.1 114.1L1101.7 117.2L1093.8 120.2L1085.5 123.3L1081.4 126.4L1076.2 129.5L1073.6 132.6L1069.1 135.6L1063.8 138.7L1060.2 141.8L1057.1 144.8L1055.6 147.9L1053.4 151L1051.2 154.1L1049.5 157.2L1047.7 160.2L1046.1 163.3L1044.3 166.4L1043.2 169.4L1041.9 172.5L1040 175.6L1038.6 178.7L1037.1 181.8L1036.2 184.8L1034.4 187.9L1032.9 191L1032.3 192L1026.7 202.2L1021.6 212.5L1016.1 222.8L1010.3 233L1005.1 243.2L999.7 253.5L994.4 263.8L989.3 274L984.1 284.2L979.1 294.5L974.1 304.8L969.1 315L964.2 325.2L959.4 335.5L954.4 345.8L949.5 356L944.5 366.2L939.5 376.5L934.6 386.8L929.7 397L925 407.2L920.4 417.5L915.8 427.8L911.3 438L906.7 448.2L902.2 458.5L897.8 468.8L893.4 479L889 489.2L884.6 499.5" stroke="#ff3300" stroke-width="1.0" fill="none" stroke-linejoin="round" />
<path d="M1283.7 89.5L1273.3 90.3L1264.5 91.1L1253.1 92L1242.9 92.8L1239.7 93.6L1237.9 94.4L1234.2 95.2L1228.8 96.1L1221.1 96.9L1217.3 97.7L1209.3 98.5L1201.7 99.3L1192.6 100.2L1182 101L1172.4 101.8L1164.1 102.6L1156.7 103.4L1148 104.3L1139.3 105.1L1134.6 105.9L1127.1 106.7L1117.5 107.5L1112.2 108.4L1105.4 109.2L1101.3 110L1096.5 110.8L1093.3 111.6L1089 112.5L1084.6 113.3L1080.2 114.1L1070.7 117.2L1067.5 120.2L1063.5 123.3L1061.2 126.4L1059.4 129.5L1058 132.6L1056.4 135.6L1052.1 138.7L1049.6 141.8L1046.9 144.8L1046.5 147.9L1044.8 151L1043.8 154.1L1041.6 157.2L1039.7 160.2L1039 163.3L1037.5 166.4L1035.4 169.4L1034 172.5L1032.3 175.6L1030.7 178.7L1029.2 181.8L1027.5 184.8L1025.7 187.9L1024.4 191L1023.8 192L1019.4 202.2L1014.4 212.5L1009.8 222.8L1005.6 233L1000.7 243.2L995.8 253.5L990.5 263.8L985.3 274L980.2 284.2L974.9 294.5L970 304.8L965.1 315L960.3 325.2L955.5 335.5L950.6 345.8L945.6 356L940.6 366.2L935.5 376.5L930.5 386.8L925.6 397L920.9 407.2L916.3 417.5L911.8 427.8L907.2 438L902.6 448.2L898 458.5L893.3 468.8L888.7 479L884 489.2L879.3 499.5" stroke="#ff3d00" stroke-width="1.0" fill="none" stroke-linejoin="round" />
<path d="M1290 89.5L1278.1 90.3L1260.9 91.1L1248.8 92L1242 92.8L1242.9 93.6L1241.3 94.4L1233.9 95.2L1227.9 96.1L1224.7 96.9L1221.5 97.7L1217 98.5L1208.1 99.3L1196.7 100.2L1187.4 101L1179.8 101.8L1169.9 102.6L1160.6 103.4L1150.9 104.3L1142.8 105.1L1134.4 105.9L1126.1 106.7L1118.3 107.5L1110.4 108.4L1102.9 109.2L1097.5 110L1094.4 110.8L1086.8 111.6L1082 112.5L1075.7 113.3L1071.6 114.1L1059.3 117.2L1057.2 120.2L1054.6 123.3L1054.9 126.4L1051.9 129.5L1050.2 132.6L1048.5 135.6L1046.5 138.7L1044.6 141.8L1043.8 144.8L1042.4 147.9L1042 151L1039.7 154.1L1039 157.2L1037.7 160.2L1036.3 163.3L1035.3 166.4L1033.9 169.4L1032.6 172.5L1031.3 175.6L1030.1 178.7L1029.1 181.8L1027.6 184.8L1026.3 187.9L1024.7 191L1024 192L1020.2 202.2L1015.4 212.5L1010.8 222.8L1006.3 233L1001.2 243.2L996.3 253.5L991.3 263.8L985.9 274L980.6 284.2L975.5 294.5L970.6 304.8L965.7 315L960.9 325.2L956.1 335.5L951.2 345.8L946.2 356L941.2 366.2L936.1 376.5L931.1 386.8L926.3 397L921.5 407.2L916.9 417.5L912.4 427.8L907.8 438L903.2 448.2L898.6 458.5L894 468.8L889.4 479L884.7 489.2L880.1 499.5" stroke="#ff4700" stroke-width="1.0" fill="none" stroke-linejoin="round" />
<path d="M1261 89.5L1256.8 90.3L1250.5 91.1L1248.6 92L1240.8 92.8L1232.1 93.6L1226.8 94.4L1224.5 95.2L1221.5 96.1L1218.4 96.9L1213.1 97.7L1202.3 98.5L1195.4 99.3L1186.3 100.2L1176.6 101L1167.6 101.8L1156.5 102.6L1146.9 103.4L1138.5 104.3L1130.9 105.1L1124.4 105.9L1117.4 106.7L1110.6 107.5L1105.7 108.4L1101.2 109.2L1095.2 110L1091.8 110.8L1089.1 111.6L1084.5 112.5L1080.4 113.3L1078.8 114.1L1067.7 117.2L1064.3 120.2L1063.2 123.3L1061 126.4L1057.3 129.5L1053.9 132.6L1053.9 135.6L1054.1 138.7L1051.9 141.8L1049.9 144.8L1049.6 147.9L1047.8 151L1046.3 154.1L1043.9 157.2L1043 160.2L1042.4 163.3L1042 166.4L1040.9 169.4L1039.2 172.5L1038.1 175.6L1036.6 178.7L1035.6 181.8L1034.2 184.8L1032.9 187.9L1032.1 191L1031.6 192L1026.8 202.2L1021.5 212.5L1016.2 222.8L1010.6 233L1005.2 243.2L1000 253.5L994.8 263.8L989.6 274L984.4 284.2L979.3 294.5L974.4 304.8L969.4 315L964.5 325.2L959.6 335.5L954.7 345.8L949.7 356L944.8 366.2L939.8 376.5L934.8 386.8L930 397L925.3 407.2L920.6 417.5L916.1 427.8L911.5 438L907 448.2L902.5 458.5L898.1 468.8L893.7 479L889.3 489.2L884.9 499.5" stroke="#ff5000" stroke-width="1.0" fill="none" stroke-linejoin="round" />
<path d="M1286.2 89.5L1275.2 90.3L1268.3 91.1L1258.7 92L1249.1 92.8L1239.7 93.6L1233.5 94.4L1227.8 95.2L1228.5 96.1L1221.5 96.9L1214.4 97.7L1205.8 98.5L1195.8 99.3L1184.9 100.2L1176.9 101L1167.2 101.8L1161.3 102.6L1151 103.4L1143.1 104.3L1134.7 105.1L1127.2 105.9L1118.9 106.7L1113.1 107.5L1105.2 108.4L1099.9 109.2L1096.9 110L1092.6 110.8L1089 111.6L1087 112.5L1081.8 113.3L1080.2 114.1L1072.5 117.2L1066.8 120.2L1063.8 123.3L1060.6 126.4L1059.2 129.5L1056.5 132.6L1055.5 135.6L1053.7 138.7L1053.1 141.8L1050.8 144.8L1049.9 147.9L1048.5 151L1046.9 154.1L1045.9 157.2L1044.8 160.2L1043.9 163.3L1042.7 166.4L1041.4 169.4L1040.3 172.5L1039 175.6L1037.6 178.7L1037 181.8L1035.8 184.8L1034.4 187.9L1032.6 191L1032.9 192L1027.5 202.2L1022.8 212.5L1016.7 222.8L1011 233L1005.8 243.2L1000.5 253.5L995.4 263.8L990.1 274L984.9 284.2L979.8 294.5L974.9 304.8L969.9 315L965 325.2L960.1 335.5L955.2 345.8L950.2 356L945.3 366.2L940.3 376.5L935.4 386.8L930.6 397L925.8 407.2L921.2 417.5L916.6 427.8L912.1 438L907.5 448.2L903.1 458.5L898.7 468.8L894.3 479L889.9 489.2L885.7 499.5" stroke="#ff5a00" stroke-width="1.0" fill="none" stroke-linejoin="round" />
<path d="M1269.4 89.5L1258.7 90.3L1252.8 91.1L1242.2 92L1235.5 92.8L1235.1 93.6L1230.3 94.4L1227.9 95.2L1226.9 96.1L1223.7 96.9L1220.9 97.7L1215.9 98.5L1206.8 99.3L1195.5 100.2L1185.9 101L1177.2 101.8L1169.5 102.6L1156.4 103.4L1150.1 104.3L1141.2 105.1L1133 105.9L1125.9 106.7L1116.7 107.5L1110.8 108.4L1103.3 109.2L1096.9 110L1092.7 110.8L1087.1 111.6L1081.7 112.5L1077.6 113.3L1072.8 114.1L1062 117.2L1061 120.2L1059 123.3L1057.7 126.4L1055.1 129.5L1053.1 132.6L1050.9 135.6L1048.6 138.7L1047.2 141.8L1045.7 144.8L1044.8 147.9L1043.6 151L1042.1 154.1L1040.9 157.2L1039.2 160.2L1037.4 163.3L1035.6 166.4L1034.2 169.4L1033.3 172.5L1031.5 175.6L1030.3 178.7L1029 181.8L1026.8 184.8L1025.3 187.9L1023.7 191L1023.1 192L1018.9 202.2L1014.2 212.5L1009.7 222.8L1005.4 233L1000.8 243.2L995.8 253.5L990.7 263.8L985.3 274L980.1 284.2L975 294.5L970 304.8L965.1 315L960.3 325.2L955.4 335.5L950.6 345.8L945.6 356L940.5 366.2L935.5 376.5L930.5 386.8L925.6 397L920.9 407.2L916.3 417.5L911.7 427.8L907.2 438L902.6 448.2L898 458.5L893.3 468.8L888.6 479L884 489.2L879.3 499.5" stroke="#ff6400" stroke-width="1.0" fill="none" stroke-linejoin="round" />
<path d="M1294.1 89.5L1279.3 90.3L1269.9 91.1L1260.6 92L1253.6 92.8L1248.2 93.6L1239.9 94.4L1235.7 95.2L1233.3 96.1L1230.6 96.9L1229.7 97.7L1223.8 98.5L1216.7 99.3L1203.5 100.2L1192 101L1182.6 101.8L1172.7 102.6L1164 103.4L1155.1 104.3L1147.8 105.1L1138.3 105.9L1129.9 106.7L1123.8 107.5L1114.7 108.4L1110.8 109.2L1103.8 110L1098.2 110.8L1091.5 111.6L1086.6 112.5L1083 113.3L1074.6 114.1L1060.7 117.2L1057.9 120.2L1058.6 123.3L1058.2 126.4L1054.5 129.5L1052.1 132.6L1050.2 135.6L1050.3 138.7L1048 141.8L1046.3 144.8L1044.3 147.9L1043.2 151L1043.2 154.1L1041.2 157.2L1040.2 160.2L1038.4 163.3L1037.3 166.4L1036.1 169.4L1034.7 172.5L1033.1 175.6L1032.2 178.7L1030.6 181.8L1029.7 184.8L1028.2 187.9L1026.9 191L1026.2 192L1021.4 202.2L1016.9 212.5L1012.1 222.8L1007.5 233L1002.4 243.2L997.4 253.5L992.2 263.8L986.9 274L981.7 284.2L976.5 294.5L971.6 304.8L966.7 315L961.9 325.2L957.1 335.5L952.1 345.8L947.2 356L942.1 366.2L937.1 376.5L932.1 386.8L927.3 397L922.6 407.2L917.9 417.5L913.4 427.8L908.8 438L904.3 448.2L899.7 458.5L895.1 468.8L890.5 479L886 489.2L881.4 499.5" stroke="#ff6e00" stroke-width="1.0" fill="none" stroke-linejoin="round" />
<path d="M1272.1 89.5L1263 90.3L1255.2 91.1L1245.6 92L1237.4 92.8L1232.9 93.6L1228.6 94.4L1228.6 95.2L1230.2 96.1L1231.1 96.9L1228 97.7L1225.4 98.5L1215.8 99.3L1204.6 100.2L1194.4 101L1185.1 101.8L1176 102.6L1167.8 103.4L1156.9 104.3L1147 105.1L1140.9 105.9L1131.3 106.7L1122.8 107.5L1116 108.4L1106.9 109.2L1099.6 110L1094.7 110.8L1087.5 111.6L1081.3 112.5L1076 113.3L1071.2 114.1L1058.3 117.2L1055.9 120.2L1055.6 123.3L1054 126.4L1052.8 129.5L1048.6 132.6L1047.1 135.6L1045.1 138.7L1044.4 141.8L1043.7 144.8L1042 147.9L1040.9 151L1039.6 154.1L1039.3 157.2L1038.2 160.2L1036.9 163.3L1035.5 166.4L1034.6 169.4L1033.3 172.5L1032.6 175.6L1032 178.7L1030.6 181.8L1029.1 184.8L1028 187.9L1026.7 191L1026.5 192L1022.4 202.2L1017.4 212.5L1012.5 222.8L1007.6 233L1002.4 243.2L997.5 253.5L992.2 263.8L986.9 274L981.8 284.2L976.6 294.5L971.6 304.8L966.8 315L961.9 325.2L957.1 335.5L952.2 345.8L947.2 356L942.2 366.2L937.2 376.5L932.2 386.8L927.3 397L922.6 407.2L918 417.5L913.4 427.8L908.9 438L904.3 448.2L899.7 458.5L895.2 468.8L890.6 479L886 489.2L881.5 499.5" stroke="#ff7800" stroke-width="1.0" fill="none" stroke-linejoin="round" />
<path d="M1285 89.5L1271.4 90.3L1257 91.1L1249.8 92L1242.8 92.8L1237.9 93.6L1236.3 94.4L1235.6 95.2L1233.5 96.1L1227.9 96.9L1222.6 97.7L1212.3 98.5L1204.3 99.3L1194.9 100.2L1186.8 101L1176.7 101.8L1169.2 102.6L1159.8 103.4L1150.3 104.3L1139.4 105.1L1132.3 105.9L1123.8 106.7L1113.1 107.5L1107.6 108.4L1099.3 109.2L1093.6 110L1089.4 110.8L1085.2 111.6L1079.4 112.5L1074.7 113.3L1071.5 114.1L1061.2 117.2L1056.4 120.2L1052.7 123.3L1052.2 126.4L1049.5 129.5L1047.5 132.6L1045.6 135.6L1045.4 138.7L1044.7 141.8L1044.3 144.8L1040.7 147.9L1040 151L1039.2 154.1L1038.5 157.2L1037.5 160.2L1037.5 163.3L1036.3 166.4L1035.6 169.4L1034.4 172.5L1032.9 175.6L1032.7 178.7L1031.6 181.8L1030.8 184.8L1029.8 187.9L1029 191L1028.5 192L1024.2 202.2L1019.8 212.5L1014.2 222.8L1008.9 233L1003.7 243.2L998.5 253.5L993.3 263.8L988.1 274L982.8 284.2L977.7 294.5L972.8 304.8L967.9 315L963 325.2L958.1 335.5L953.2 345.8L948.3 356L943.2 366.2L938.2 376.5L933.3 386.8L928.4 397L923.7 407.2L919.1 417.5L914.5 427.8L910 438L905.4 448.2L900.9 458.5L896.4 468.8L891.9 479L887.4 489.2L882.9 499.5" stroke="#ff8200" stroke-width="1.0" fill="none" stroke-linejoin="round" />
<path d="M1278 89.5L1265.2 90.3L1255.9 91.1L1245.3 92L1235.4 92.8L1230.5 93.6L1227 94.4L1224.6 95.2L1217.6 96.1L1214.4 96.9L1206.9 97.7L1201.4 98.5L1190.9 99.3L1183.9 100.2L1174.9 101L1164.2 101.8L1153.5 102.6L1146.7 103.4L1137.6 104.3L1130.2 105.1L1121.6 105.9L1114.7 106.7L1108.5 107.5L1104 108.4L1098.4 109.2L1093.6 110L1090.1 110.8L1087 111.6L1082.7 112.5L1080 113.3L1077.8 114.1L1068.3 117.2L1064.1 120.2L1061.7 123.3L1059.2 126.4L1056.6 129.5L1054.9 132.6L1052.3 135.6L1050.7 138.7L1050 141.8L1047.9 144.8L1045.4 147.9L1044.2 151L1043.6 154.1L1041.7 157.2L1039.7 160.2L1037.9 163.3L1036.6 166.4L1035.2 169.4L1033.7 172.5L1031.9 175.6L1030.4 178.7L1029.2 181.8L1027.9 184.8L1025.9 187.9L1024.4 191L1024.1 192L1019.2 202.2L1014.6 212.5L1010.2 222.8L1005.6 233L1000.9 243.2L995.9 253.5L990.8 263.8L985.4 274L980.2 284.2L975.1 294.5L970.1 304.8L965.2 315L960.4 325.2L955.6 335.5L950.7 345.8L945.8 356L940.7 366.2L935.6 376.5L930.6 386.8L925.8 397L921 407.2L916.4 417.5L911.9 427.8L907.3 438L902.7 448.2L898.1 458.5L893.5 468.8L888.8 479L884.1 489.2L879.4 499.5" stroke="#ff8c00" stroke-width="1.0" fill="none" stroke-linejoin="round" />
<path d="M1299.3 89.5L1285.5 90.3L1274.7 91.1L1263 92L1253.7 92.8L1245.8 93.6L1240 94.4L1235.5 95.2L1229.9 96.1L1224.8 96.9L1214.7 97.7L1207.3 98.5L1196.5 99.3L1186.6 100.2L1175.8 101L1166.2 101.8L1155 102.6L1147.8 103.4L1139.2 104.3L1129.8 105.1L1122.8 105.9L1116.7 106.7L1109.9 107.5L1103.4 108.4L1098.6 109.2L1093.2 110L1089.3 110.8L1085 111.6L1080.5 112.5L1076.4 113.3L1072.8 114.1L1063.7 117.2L1062.1 120.2L1059.4 123.3L1057.5 126.4L1054.8 129.5L1053.4 132.6L1052 135.6L1051.3 138.7L1049.4 141.8L1048.3 144.8L1047.4 147.9L1046.8 151L1045.3 154.1L1044 157.2L1042.4 160.2L1041.8 163.3L1040.8 166.4L1040.4 169.4L1038.3 172.5L1037.1 175.6L1035.8 178.7L1034.7 181.8L1034 184.8L1032.5 187.9L1031 191L1030.6 192L1025.6 202.2L1020.8 212.5L1015.4 222.8L1010.1 233L1004.9 243.2L999.6 253.5L994.4 263.8L989.3 274L984 284.2L979 294.5L973.9 304.8L969.1 315L964.1 325.2L959.3 335.5L954.4 345.8L949.4 356L944.4 366.2L939.4 376.5L934.5 386.8L929.7 397L925 407.2L920.3 417.5L915.7 427.8L911.2 438L906.7 448.2L902.2 458.5L897.7 468.8L893.3 479L888.9 489.2L884.5 499.5" stroke="#ff9600" stroke-width="1.0" fill="none" stroke-linejoin="round" />
<path d="M1277.7 89.5L1261 90.3L1252.4 91.1L1244.7 92L1241 92.8L1238.3 93.6L1237.2 94.4L1230.8 95.2L1227.4 96.1L1223.4 96.9L1220.6 97.7L1215.7 98.5L1205.5 99.3L1196.8 100.2L1187 101L1175.8 101.8L1169.7 102.6L1159.6 103.4L1151.8 104.3L1143.6 105.1L1134.7 105.9L1126.2 106.7L1118.9 107.5L1113.1 108.4L1106.4 109.2L1100.9 110L1094.6 110.8L1089.8 111.6L1085 112.5L1080.9 113.3L1074.6 114.1L1061.2 117.2L1057.6 120.2L1056.6 123.3L1055.1 126.4L1053.6 129.5L1052.1 132.6L1051.2 135.6L1050 138.7L1047.4 141.8L1045.8 144.8L1045 147.9L1042.8 151L1042.1 154.1L1040.8 157.2L1039.7 160.2L1038 163.3L1036.1 166.4L1034.3 169.4L1033.6 172.5L1032.3 175.6L1031.3 178.7L1030.1 181.8L1028 184.8L1027.1 187.9L1025.1 191L1024.8 192L1020.3 202.2L1015.6 212.5L1011.1 222.8L1006.4 233L1001.4 243.2L996.7 253.5L991.4 263.8L986.1 274L980.8 284.2L975.8 294.5L970.8 304.8L965.9 315L961.1 325.2L956.3 335.5L951.4 345.8L946.4 356L941.4 366.2L936.3 376.5L931.3 386.8L926.5 397L921.7 407.2L917.1 417.5L912.6 427.8L908.1 438L903.5 448.2L898.9 458.5L894.2 468.8L889.6 479L885 489.2L880.4 499.5" stroke="#ffa000" stroke-width="1.0" fill="none" stroke-linejoin="round" />
<path d="M1286.9 89.5L1271.4 90.3L1265 91.1L1256.8 92L1255.1 92.8L1248.4 93.6L1244.7 94.4L1240.3 95.2L1231.8 96.1L1224.4 96.9L1216.8 97.7L1213.4 98.5L1209.1 99.3L1201.3 100.2L1192.1 101L1185.4 101.8L1176.8 102.6L1170.6 103.4L1165.2 104.3L1159.2 105.1L1156.2 105.9L1153.1 106.7L1148.5 107.5L1143.6 108.4L1140.1 109.2L1137.7 110L1133.8 110.8L1128.6 111.6L1127.8 112.5L1126.2 113.3L1122.5 114.1L1113.2 117.2L1101.7 120.2L1093.5 123.3L1086.7 126.4L1081.1 129.5L1075.1 132.6L1068.8 135.6L1064.1 138.7L1061.6 141.8L1058.9 144.8L1056.4 147.9L1053.8 151L1052.4 154.1L1050.2 157.2L1048 160.2L1046.7 163.3L1044.9 166.4L1043.3 169.4L1042.4 172.5L1040.1 175.6L1038.9 178.7L1036.8 181.8L1035.6 184.8L1034.1 187.9L1032.7 191L1032 192L1026.9 202.2L1021.4 212.5L1015.6 222.8L1010.3 233L1004.6 243.2L999.4 253.5L994.3 263.8L989.1 274L984 284.2L978.8 294.5L973.9 304.8L968.9 315L964.1 325.2L959.2 335.5L954.3 345.8L949.4 356L944.3 366.2L939.4 376.5L934.4 386.8L929.6 397L924.9 407.2L920.2 417.5L915.6 427.8L911.1 438L906.6 448.2L902.1 458.5L897.6 468.8L893.2 479L888.8 489.2L884.4 499.5" stroke="#ffaa00" stroke-width="1.0" fill="none" stroke-linejoin="round" />
<path d="M1242.9 89.5L1239 90.3L1237.7 91.1L1231.6 92L1223.9 92.8L1218.4 93.6L1214.7 94.4L1210 95.2L1210.5 96.1L1206.1 96.9L1199.6 97.7L1192.2 98.5L1181.2 99.3L1171.6 100.2L1160.6 101L1151.4 101.8L1143.9 102.6L1138.8 103.4L1132.2 104.3L1125 105.1L1117 105.9L1111 106.7L1103.6 107.5L1099.2 108.4L1093.6 109.2L1090 110L1085.9 110.8L1080.7 111.6L1076.6 112.5L1072.6 113.3L1067.6 114.1L1060.1 117.2L1056.4 120.2L1054.8 123.3L1053.9 126.4L1051 129.5L1050 132.6L1047.7 135.6L1046.8 138.7L1044.6 141.8L1044.6 144.8L1043.5 147.9L1042.5 151L1040.2 154.1L1039.1 157.2L1038.2 160.2L1037.3 163.3L1036.4 166.4L1035.6 169.4L1033.4 172.5L1032.8 175.6L1031.8 178.7L1030.7 181.8L1029.3 184.8L1028.2 187.9L1026.9 191L1026.5 192L1022.2 202.2L1017.7 212.5L1012.7 222.8L1007.7 233L1002.5 243.2L997.5 253.5L992.4 263.8L987.1 274L981.9 284.2L976.8 294.5L971.8 304.8L966.9 315L962.1 325.2L957.3 335.5L952.4 345.8L947.4 356L942.3 366.2L937.3 376.5L932.3 386.8L927.5 397L922.8 407.2L918.1 417.5L913.6 427.8L909 438L904.5 448.2L899.9 458.5L895.3 468.8L890.8 479L886.2 489.2L881.7 499.5" stroke="#ffb300" stroke-width="1.0" fill="none" stroke-linejoin="round" />
<path d="M1186.2 89.5L1192.5 90.3L1191.2 91.1L1190.6 92L1191.1 92.8L1189.4 93.6L1189.1 94.4L1189.7 95.2L1192.3 96.1L1191.5 96.9L1189.1 97.7L1180.3 98.5L1170.8 99.3L1157.4 100.2L1145.7 101L1136.8 101.8L1129.1 102.6L1123.7 103.4L1117 104.3L1109.5 105.1L1104.8 105.9L1097.4 106.7L1094.5 107.5L1089.4 108.4L1085 109.2L1082.8 110L1078.6 110.8L1075.7 111.6L1073.7 112.5L1071.8 113.3L1067 114.1L1062.2 117.2L1058.2 120.2L1056.8 123.3L1054.5 126.4L1052.8 129.5L1050 132.6L1048.8 135.6L1047.6 138.7L1046.7 141.8L1045.1 144.8L1044.4 147.9L1042.3 151L1041.9 154.1L1040.1 157.2L1039.8 160.2L1038.8 163.3L1037.6 166.4L1036.6 169.4L1035.3 172.5L1033.7 175.6L1032.8 178.7L1032 181.8L1031.1 184.8L1029.5 187.9L1028.1 191L1027.8 192L1023.6 202.2L1018.7 212.5L1013.5 222.8L1008.4 233L1003.4 243.2L998.2 253.5L993 263.8L987.7 274L982.5 284.2L977.4 294.5L972.5 304.8L967.5 315L962.7 325.2L957.8 335.5L952.9 345.8L948 356L942.9 366.2L937.9 376.5L933 386.8L928.1 397L923.4 407.2L918.8 417.5L914.2 427.8L909.7 438L905.1 448.2L900.6 458.5L896 468.8L891.5 479L887 489.2L882.5 499.5" stroke="#ffbd00" stroke-width="1.0" fill="none" stroke-linejoin="round" />
<path d="M1251.3 89.5L1238.1 90.3L1234.9 91.1L1234.1 92L1230.1 92.8L1223.4 93.6L1218.9 94.4L1210.7 95.2L1207.2 96.1L1203.4 96.9L1199.9 97.7L1192.1 98.5L1182.3 99.3L1168.5 100.2L1155.7 101L1148 101.8L1140.5 102.6L1133.6 103.4L1123.2 104.3L1115.8 105.1L1109.6 105.9L1104.6 106.7L1099.9 107.5L1095 108.4L1089.7 109.2L1085.8 110L1084.3 110.8L1079.9 111.6L1077.5 112.5L1073.6 113.3L1069.3 114.1L1061.6 117.2L1057.5 120.2L1055.9 123.3L1053.2 126.4L1050.2 129.5L1048.9 132.6L1046.5 135.6L1046.2 138.7L1044.4 141.8L1043.2 144.8L1042.2 147.9L1042.2 151L1039.7 154.1L1038.3 157.2L1037.2 160.2L1036.1 163.3L1035.1 166.4L1033.7 169.4L1032.2 172.5L1031.8 175.6L1030.6 178.7L1029.2 181.8L1027.9 184.8L1026.8 187.9L1025.5 191L1025 192L1020.9 202.2L1015.9 212.5L1011.1 222.8L1006.3 233L1001.8 243.2L996.6 253.5L991.4 263.8L986.2 274L980.9 284.2L975.8 294.5L970.8 304.8L966 315L961.1 325.2L956.3 335.5L951.4 345.8L946.4 356L941.4 366.2L936.4 376.5L931.4 386.8L926.5 397L921.8 407.2L917.2 417.5L912.6 427.8L908.1 438L903.5 448.2L898.9 458.5L894.3 468.8L889.7 479L885 489.2L880.4 499.5" stroke="#ffc700" stroke-width="1.0" fill="none" stroke-linejoin="round" />
<path d="M1196.3 89.5L1194.5 90.3L1197 91.1L1196.4 92L1197.2 92.8L1200.3 93.6L1201.7 94.4L1202.2 95.2L1202.9 96.1L1203.6 96.9L1199.9 97.7L1193.9 98.5L1183.5 99.3L1173.6 100.2L1165.5 101L1154.8 101.8L1147.3 102.6L1138.6 103.4L1131.6 104.3L1123.7 105.1L1115.5 105.9L1108.7 106.7L1103.2 107.5L1096.7 108.4L1093.5 109.2L1088.3 110L1086.2 110.8L1081.1 111.6L1076.6 112.5L1071.8 113.3L1069.6 114.1L1059.1 117.2L1055.7 120.2L1053.3 123.3L1053.4 126.4L1051.3 129.5L1049.6 132.6L1048.6 135.6L1047.6 138.7L1045.2 141.8L1043.8 144.8L1042 147.9L1041.4 151L1039.9 154.1L1038.5 157.2L1037.7 160.2L1036.7 163.3L1036 166.4L1034.7 169.4L1033.5 172.5L1032.5 175.6L1031.4 178.7L1030.3 181.8L1029.2 184.8L1027.7 187.9L1026.7 191L1026.1 192L1021.8 202.2L1017.3 212.5L1012.1 222.8L1007.3 233L1002.4 243.2L997.3 253.5L992.1 263.8L986.9 274L981.6 284.2L976.5 294.5L971.6 304.8L966.7 315L961.8 325.2L957 335.5L952.1 345.8L947.1 356L942.1 366.2L937.1 376.5L932.1 386.8L927.2 397L922.5 407.2L917.9 417.5L913.3 427.8L908.8 438L904.2 448.2L899.6 458.5L895.1 468.8L890.5 479L885.9 489.2L881.4 499.5" stroke="#ffd100" stroke-width="1.0" fill="none" stroke-linejoin="round" />
<path d="M1189.8 89.5L1188.1 90.3L1190 91.1L1193.9 92L1197.3 92.8L1199 93.6L1200.9 94.4L1202.8 95.2L1204.6 96.1L1204.9 96.9L1203.5 97.7L1196 98.5L1186.8 99.3L1174.6 100.2L1167.6 101L1157.5 101.8L1149.6 102.6L1139.7 103.4L1129 104.3L1123.5 105.1L1115.3 105.9L1108.7 106.7L1103.2 107.5L1096 108.4L1091 109.2L1085.7 110L1083.5 110.8L1077.9 111.6L1075 112.5L1072.2 113.3L1067.8 114.1L1061.4 117.2L1057.9 120.2L1055.6 123.3L1053.4 126.4L1050.8 129.5L1049.8 132.6L1047.6 135.6L1046.1 138.7L1045.4 141.8L1044.4 144.8L1043.2 147.9L1042.2 151L1040.8 154.1L1040.7 157.2L1038.2 160.2L1037.7 163.3L1037.3 166.4L1036.3 169.4L1035.4 172.5L1034.2 175.6L1033 178.7L1032.5 181.8L1031.7 184.8L1029.9 187.9L1028.9 191L1028.7 192L1024.5 202.2L1019.8 212.5L1014.2 222.8L1009.1 233L1003.9 243.2L998.6 253.5L993.5 263.8L988.3 274L983 284.2L978 294.5L972.9 304.8L968.1 315L963.2 325.2L958.3 335.5L953.4 345.8L948.5 356L943.5 366.2L938.4 376.5L933.5 386.8L928.7 397L923.9 407.2L919.3 417.5L914.7 427.8L910.2 438L905.6 448.2L901.1 458.5L896.6 468.8L892.1 479L887.6 489.2L883.2 499.5" stroke="#ffdb00" stroke-width="1.0" fill="none" stroke-linejoin="round" />
<path d="M1216.5 89.5L1212.9 90.3L1212.1 91.1L1209.7 92L1212.4 92.8L1212.9 93.6L1214.3 94.4L1215.4 95.2L1213.9 96.1L1217 96.9L1213.7 97.7L1208.3 98.5L1200 99.3L1189 100.2L1177.8 101L1167.4 101.8L1157.6 102.6L1149.7 103.4L1140.7 104.3L1131.3 105.1L1125.5 105.9L1116.9 106.7L1107.9 107.5L1101.2 108.4L1095.7 109.2L1089.6 110L1084 110.8L1080.1 111.6L1076.3 112.5L1072.9 113.3L1068.7 114.1L1060.6 117.2L1056.1 120.2L1055.5 123.3L1053.7 126.4L1050.4 129.5L1048.1 132.6L1046.2 135.6L1043.4 138.7L1042.3 141.8L1042.4 144.8L1041.9 147.9L1040.9 151L1039.9 154.1L1038.9 157.2L1037.5 160.2L1036.2 163.3L1035.1 166.4L1034.4 169.4L1033.3 172.5L1032.7 175.6L1031.2 178.7L1030.4 181.8L1029.6 184.8L1028.7 187.9L1027.4 191L1027.3 192L1022.4 202.2L1017.9 212.5L1013.1 222.8L1007.9 233L1002.8 243.2L997.8 253.5L992.4 263.8L987.2 274L981.9 284.2L976.9 294.5L971.8 304.8L967 315L962.2 325.2L957.3 335.5L952.4 345.8L947.4 356L942.4 366.2L937.4 376.5L932.4 386.8L927.6 397L922.9 407.2L918.2 417.5L913.7 427.8L909.1 438L904.6 448.2L900 458.5L895.4 468.8L890.9 479L886.3 489.2L881.8 499.5" stroke="#ffe500" stroke-width="1.0" fill="none" stroke-linejoin="round" />
<path d="M1252.8 89.5L1242.1 90.3L1233.7 91.1L1229.6 92L1224.4 92.8L1223.3 93.6L1219.2 94.4L1218.5 95.2L1215.6 96.1L1213.6 96.9L1210.6 97.7L1205.2 98.5L1196.5 99.3L1185.7 100.2L1175.6 101L1165.3 101.8L1155.5 102.6L1149.6 103.4L1140 104.3L1131.5 105.1L1123.7 105.9L1115.3 106.7L1108.1 107.5L1100.4 108.4L1092.9 109.2L1088.5 110L1083.6 110.8L1078.8 111.6L1073.7 112.5L1070.7 113.3L1067.3 114.1L1058.8 117.2L1057.5 120.2L1056.3 123.3L1055.1 126.4L1052.9 129.5L1049.5 132.6L1048.1 135.6L1045.6 138.7L1043.6 141.8L1043.4 144.8L1044.1 147.9L1042.6 151L1041.8 154.1L1039.9 157.2L1039 160.2L1037.5 163.3L1036.8 166.4L1036.3 169.4L1036.2 172.5L1034.1 175.6L1033.4 178.7L1032.2 181.8L1030.9 184.8L1029.7 187.9L1028.8 191L1028.3 192L1024.3 202.2L1019.4 212.5L1014.1 222.8L1009.1 233L1003.7 243.2L998.5 253.5L993.4 263.8L988.1 274L982.9 284.2L977.9 294.5L972.8 304.8L967.9 315L963.1 325.2L958.2 335.5L953.3 345.8L948.3 356L943.3 366.2L938.3 376.5L933.4 386.8L928.5 397L923.8 407.2L919.2 417.5L914.6 427.8L910 438L905.5 448.2L901 458.5L896.4 468.8L891.9 479L887.5 489.2L883 499.5" stroke="#ffef00" stroke-width="1.0" fill="none" stroke-linejoin="round" />
<path d="M1227.7 89.5L1218.4 90.3L1213 91.1L1213.4 92L1213.5 92.8L1210.3 93.6L1203.9 94.4L1200.4 95.2L1198 96.1L1195.9 96.9L1188.8 97.7L1180.2 98.5L1166.8 99.3L1159.7 100.2L1150 101L1140.6 101.8L1131.5 102.6L1123.2 103.4L1117.2 104.3L1111.6 105.1L1106.7 105.9L1100.4 106.7L1095.9 107.5L1091.1 108.4L1088.6 109.2L1084.2 110L1081.4 110.8L1077.6 111.6L1075.8 112.5L1074.9 113.3L1070.7 114.1L1061.1 117.2L1058.5 120.2L1055.7 123.3L1054.7 126.4L1051.8 129.5L1050.8 132.6L1049.2 135.6L1049.2 138.7L1047.3 141.8L1045.3 144.8L1043.6 147.9L1042.5 151L1041.2 154.1L1040.5 157.2L1039.3 160.2L1038.1 163.3L1036.9 166.4L1036.1 169.4L1035 172.5L1033.2 175.6L1032.3 178.7L1030.7 181.8L1029.3 184.8L1028.4 187.9L1027.1 191L1026.8 192L1022.2 202.2L1017.6 212.5L1012.8 222.8L1007.6 233L1002.7 243.2L997.6 253.5L992.5 263.8L987.2 274L981.9 284.2L976.8 294.5L971.9 304.8L966.9 315L962.1 325.2L957.3 335.5L952.3 345.8L947.4 356L942.3 366.2L937.3 376.5L932.4 386.8L927.5 397L922.8 407.2L918.2 417.5L913.6 427.8L909.1 438L904.5 448.2L899.9 458.5L895.4 468.8L890.8 479L886.2 489.2L881.7 499.5" stroke="#fff900" stroke-width="1.0" fill="none" stroke-linejoin="round" />
<path d="M1227.1 89.5L1223.9 90.3L1220.3 91.1L1217.8 92L1217.8 92.8L1214.3 93.6L1214.7 94.4L1211.1 95.2L1209.1 96.1L1204.9 96.9L1201 97.7L1194.6 98.5L1185.8 99.3L1175.4 100.2L1164.8 101L1155.8 101.8L1147.3 102.6L1136.9 103.4L1128.2 104.3L1120.3 105.1L1113.5 105.9L1106.8 106.7L1101.5 107.5L1093.7 108.4L1089.1 109.2L1085.2 110L1081 110.8L1076.5 111.6L1073.3 112.5L1072.7 113.3L1069.4 114.1L1060.7 117.2L1057.1 120.2L1054.6 123.3L1050.6 126.4L1048.9 129.5L1048.1 132.6L1047.2 135.6L1046.6 138.7L1045.4 141.8L1043.8 144.8L1043 147.9L1042 151L1041.1 154.1L1040.4 157.2L1039.1 160.2L1038.2 163.3L1037.7 166.4L1037 169.4L1036.3 172.5L1035.8 175.6L1034.5 178.7L1033.4 181.8L1032.6 184.8L1031.8 187.9L1030.9 191L1030.9 192L1026.5 202.2L1021.6 212.5L1016.3 222.8L1010.1 233L1004.8 243.2L999.7 253.5L994.4 263.8L989.3 274L984.2 284.2L979 294.5L974 304.8L969.1 315L964.2 325.2L959.3 335.5L954.4 345.8L949.4 356L944.5 366.2L939.5 376.5L934.5 386.8L929.7 397L925 407.2L920.3 417.5L915.8 427.8L911.2 438L906.7 448.2L902.2 458.5L897.7 468.8L893.3 479L888.9 489.2L884.6 499.5" stroke="#fbff04" stroke-width="1.0" fill="none" stroke-linejoin="round" />
<path d="M1132.7 89.5L1131.7 90.3L1124.3 91.1L1116.3 92L1112.1 92.8L1116.8 93.6L1125.3 94.4L1129.5 95.2L1125.7 96.1L1113.6 96.9L1106 97.7L1100.1 98.5L1101.4 99.3L1103.9 100.2L1102.8 101L1096.5 101.8L1090.1 102.6L1084.3 103.4L1085.3 104.3L1084.8 105.1L1085.5 105.9L1083.2 106.7L1077.5 107.5L1072.8 108.4L1071.4 109.2L1072 110L1071.7 110.8L1071.3 111.6L1068.7 112.5L1066.1 113.3L1064.3 114.1L1061 117.2L1056.9 120.2L1054.7 123.3L1053.2 126.4L1050.8 129.5L1049.1 132.6L1047.2 135.6L1046 138.7L1046.4 141.8L1044 144.8L1042.5 147.9L1040.9 151L1040.5 154.1L1039 157.2L1038.1 160.2L1036.8 163.3L1035.9 166.4L1035.4 169.4L1034 172.5L1032.6 175.6L1031.8 178.7L1030 181.8L1029.6 184.8L1028.6 187.9L1027 191L1026.2 192L1022.3 202.2L1017.5 212.5L1012.7 222.8L1007.7 233L1002.6 243.2L997.5 253.5L992.4 263.8L987 274L981.8 284.2L976.7 294.5L971.7 304.8L966.8 315L962 325.2L957.2 335.5L952.3 345.8L947.3 356L942.3 366.2L937.3 376.5L932.3 386.8L927.4 397L922.7 407.2L918.1 417.5L913.5 427.8L909 438L904.4 448.2L899.9 458.5L895.3 468.8L890.7 479L886.2 489.2L881.6 499.5" stroke="#f1ff0e" stroke-width="1.0" fill="none" stroke-linejoin="round" />
<path d="M1118.9 89.5L1108.2 90.3L1101.3 91.1L1104.7 92L1105.8 92.8L1107.4 93.6L1104.4 94.4L1102.2 95.2L1097.9 96.1L1097.9 96.9L1097.7 97.7L1095.4 98.5L1093.2 99.3L1092 100.2L1092.6 101L1091.1 101.8L1087.5 102.6L1084.9 103.4L1081.9 104.3L1082.3 105.1L1082 105.9L1081.8 106.7L1078.1 107.5L1071.1 108.4L1067.2 109.2L1067.3 110L1067.9 110.8L1067.4 111.6L1066 112.5L1063.8 113.3L1063.7 114.1L1059.9 117.2L1056.8 120.2L1052.3 123.3L1051.4 126.4L1051.6 129.5L1048.5 132.6L1045.9 135.6L1043.9 138.7L1043.2 141.8L1043.3 144.8L1042.4 147.9L1041.4 151L1040.2 154.1L1038.8 157.2L1038.3 160.2L1037.3 163.3L1036.1 166.4L1035.6 169.4L1034.3 172.5L1034.1 175.6L1033.7 178.7L1032.5 181.8L1031.2 184.8L1030.4 187.9L1029.2 191L1028.8 192L1025 202.2L1020 212.5L1014.6 222.8L1009.2 233L1004.1 243.2L998.9 253.5L993.6 263.8L988.4 274L983.1 284.2L978.1 294.5L973 304.8L968.2 315L963.4 325.2L958.5 335.5L953.6 345.8L948.6 356L943.6 366.2L938.6 376.5L933.6 386.8L928.8 397L924.1 407.2L919.4 417.5L914.9 427.8L910.3 438L905.8 448.2L901.3 458.5L896.8 468.8L892.3 479L887.8 489.2L883.4 499.5" stroke="#e7ff18" stroke-width="1.0" fill="none" stroke-linejoin="round" />
<path d="M1131.3 89.5L1122.5 90.3L1112.5 91.1L1110.5 92L1120.6 92.8L1126.6 93.6L1127.9 94.4L1120 95.2L1109 96.1L1104.5 96.9L1104 97.7L1104.5 98.5L1104.6 99.3L1098.9 100.2L1092.5 101L1088.7 101.8L1086.1 102.6L1085.1 103.4L1086.8 104.3L1085.5 105.1L1081.9 105.9L1078.7 106.7L1077.9 107.5L1074.7 108.4L1072.1 109.2L1071.4 110L1069.6 110.8L1070 111.6L1067.8 112.5L1066.8 113.3L1064 114.1L1059.4 117.2L1056.5 120.2L1055.2 123.3L1053.6 126.4L1051.2 129.5L1048.4 132.6L1047.6 135.6L1047.3 138.7L1046.9 141.8L1044.8 144.8L1043.3 147.9L1043.2 151L1042.4 154.1L1040.9 157.2L1040.6 160.2L1039 163.3L1038.5 166.4L1038.3 169.4L1037.4 172.5L1036.7 175.6L1035.4 178.7L1034.6 181.8L1033.8 184.8L1033 187.9L1031.8 191L1031.7 192L1027.8 202.2L1022.3 212.5L1016.8 222.8L1010.9 233L1005.4 243.2L1000.2 253.5L995 263.8L989.8 274L984.6 284.2L979.6 294.5L974.6 304.8L969.6 315L964.7 325.2L959.8 335.5L954.9 345.8L950 356L945 366.2L940 376.5L935.1 386.8L930.2 397L925.5 407.2L920.9 417.5L916.3 427.8L911.7 438L907.2 448.2L902.8 458.5L898.3 468.8L893.9 479L889.6 489.2L885.3 499.5" stroke="#deff21" stroke-width="1.0" fill="none" stroke-linejoin="round" />
<path d="M1115.5 89.5L1112 90.3L1113.2 91.1L1113 92L1109.3 92.8L1107.2 93.6L1110.4 94.4L1115.5 95.2L1119.5 96.1L1118.1 96.9L1113.6 97.7L1105 98.5L1100.3 99.3L1099.7 100.2L1099.2 101L1095.9 101.8L1092.1 102.6L1087.6 103.4L1087.3 104.3L1087.6 105.1L1085.4 105.9L1081.1 106.7L1076 107.5L1071.3 108.4L1071.2 109.2L1069.4 110L1069.1 110.8L1068.5 111.6L1066.4 112.5L1065.3 113.3L1066.1 114.1L1059.3 117.2L1058.3 120.2L1056.2 123.3L1054.8 126.4L1050.4 129.5L1050.1 132.6L1048 135.6L1046 138.7L1045 141.8L1044.3 144.8L1042.8 147.9L1042.4 151L1041.5 154.1L1040.1 157.2L1038.5 160.2L1038.4 163.3L1036.6 166.4L1036.5 169.4L1035.6 172.5L1034.6 175.6L1033 178.7L1032.2 181.8L1031.3 184.8L1030.7 187.9L1028.8 191L1028.9 192L1024.6 202.2L1019.6 212.5L1014.4 222.8L1009.3 233L1003.9 243.2L998.8 253.5L993.5 263.8L988.3 274L983.2 284.2L978.1 294.5L973 304.8L968.1 315L963.3 325.2L958.4 335.5L953.5 345.8L948.6 356L943.5 366.2L938.5 376.5L933.6 386.8L928.7 397L924 407.2L919.4 417.5L914.8 427.8L910.3 438L905.7 448.2L901.2 458.5L896.7 468.8L892.2 479L887.7 489.2L883.3 499.5" stroke="#d4ff2b" stroke-width="1.0" fill="none" stroke-linejoin="round" />
<path d="M1133.6 89.5L1132.3 90.3L1128.4 91.1L1124.1 92L1123.4 92.8L1115.8 93.6L1108.7 94.4L1102.5 95.2L1106 96.1L1106.2 96.9L1107 97.7L1102.7 98.5L1102.5 99.3L1101.6 100.2L1096 101L1090.5 101.8L1087.4 102.6L1088.8 103.4L1089 104.3L1088 105.1L1086.1 105.9L1086 106.7L1081.3 107.5L1079.1 108.4L1072.8 109.2L1070.1 110L1069.6 110.8L1067.5 111.6L1066.9 112.5L1065.5 113.3L1063.9 114.1L1057.9 117.2L1054.1 120.2L1054.1 123.3L1052.9 126.4L1052.6 129.5L1050.4 132.6L1047.9 135.6L1046.1 138.7L1045.4 141.8L1043.5 144.8L1042.1 147.9L1041.2 151L1040.9 154.1L1040.8 157.2L1039.3 160.2L1038.1 163.3L1037.4 166.4L1036.5 169.4L1036 172.5L1034.7 175.6L1033.6 178.7L1032.8 181.8L1031.7 184.8L1030.8 187.9L1030.2 191L1029.7 192L1025.1 202.2L1020.5 212.5L1015.2 222.8L1009.4 233L1004.2 243.2L999.1 253.5L993.8 263.8L988.7 274L983.5 284.2L978.3 294.5L973.4 304.8L968.5 315L963.6 325.2L958.7 335.5L953.8 345.8L948.8 356L943.8 366.2L938.8 376.5L933.9 386.8L929.1 397L924.3 407.2L919.7 417.5L915.1 427.8L910.6 438L906 448.2L901.5 458.5L897 468.8L892.6 479L888.1 489.2L883.7 499.5" stroke="#caff35" stroke-width="1.0" fill="none" stroke-linejoin="round" />
<path d="M1112.3 89.5L1115.4 90.3L1115.4 91.1L1113.9 92L1105.8 92.8L1102.9 93.6L1103.5 94.4L1108.2 95.2L1109.7 96.1L1105.4 96.9L1098.5 97.7L1095.9 98.5L1095.3 99.3L1099 100.2L1097.2 101L1094.8 101.8L1092.5 102.6L1090.1 103.4L1090.4 104.3L1086.7 105.1L1084 105.9L1082.9 106.7L1080.5 107.5L1074.9 108.4L1072.4 109.2L1069.1 110L1067.6 110.8L1064.7 111.6L1064.4 112.5L1063.1 113.3L1061.1 114.1L1058 117.2L1056.5 120.2L1055 123.3L1052.5 126.4L1051.2 129.5L1048.1 132.6L1046.5 135.6L1044.3 138.7L1044.2 141.8L1042.6 144.8L1041.9 147.9L1041.2 151L1040 154.1L1037.7 157.2L1037.1 160.2L1036.9 163.3L1035.9 166.4L1035.2 169.4L1034.1 172.5L1033 175.6L1031.8 178.7L1030.8 181.8L1029.7 184.8L1028.8 187.9L1028 191L1027.4 192L1022.8 202.2L1018.3 212.5L1013.4 222.8L1008.1 233L1003.1 243.2L997.7 253.5L992.7 263.8L987.3 274L982.2 284.2L977 294.5L972.1 304.8L967.2 315L962.3 325.2L957.5 335.5L952.6 345.8L947.6 356L942.6 366.2L937.6 376.5L932.6 386.8L927.8 397L923 407.2L918.4 417.5L913.8 427.8L909.3 438L904.8 448.2L900.2 458.5L895.6 468.8L891.1 479L886.6 489.2L882 499.5" stroke="#c0ff3f" stroke-width="1.0" fill="none" stroke-linejoin="round" />
<path d="M1129.2 89.5L1135.7 90.3L1128.6 91.1L1117.4 92L1111.4 92.8L1110.5 93.6L1110.9 94.4L1107.8 95.2L1101.8 96.1L1098.5 96.9L1100 97.7L1095.4 98.5L1093.5 99.3L1091.2 100.2L1086.3 101L1088.8 101.8L1089.4 102.6L1089.3 103.4L1087.8 104.3L1085.1 105.1L1083.4 105.9L1079.9 106.7L1076.8 107.5L1074.2 108.4L1073.5 109.2L1071.6 110L1070.1 110.8L1066.5 111.6L1066.8 112.5L1064.4 113.3L1063.7 114.1L1060.2 117.2L1055.1 120.2L1054.3 123.3L1051.7 126.4L1049.6 129.5L1048.3 132.6L1046.5 135.6L1045.9 138.7L1044.7 141.8L1043.5 144.8L1042.5 147.9L1041 151L1039.8 154.1L1038.6 157.2L1038.4 160.2L1037.4 163.3L1036.6 166.4L1035.9 169.4L1034.6 172.5L1033.7 175.6L1033.3 178.7L1032 181.8L1031 184.8L1030.1 187.9L1029.3 191L1028.6 192L1024.9 202.2L1020 212.5L1014.5 222.8L1009.3 233L1003.8 243.2L998.8 253.5L993.5 263.8L988.3 274L983.1 284.2L977.9 294.5L973 304.8L968.1 315L963.3 325.2L958.4 335.5L953.5 345.8L948.5 356L943.5 366.2L938.5 376.5L933.5 386.8L928.7 397L924 407.2L919.3 417.5L914.8 427.8L910.2 438L905.7 448.2L901.2 458.5L896.6 468.8L892.2 479L887.7 489.2L883.2 499.5" stroke="#b6ff49" stroke-width="1.0" fill="none" stroke-linejoin="round" />
<path d="M1131 89.5L1139.9 90.3L1135.2 91.1L1123 92L1112 92.8L1108.6 93.6L1108.5 94.4L1106.5 95.2L1105 96.1L1100.3 96.9L1098.5 97.7L1091.7 98.5L1089.3 99.3L1086.2 100.2L1090 101L1092 101.8L1092.3 102.6L1088.7 103.4L1082.6 104.3L1083.5 105.1L1083.8 105.9L1084.8 106.7L1081.2 107.5L1077.4 108.4L1071.1 109.2L1068.9 110L1069.1 110.8L1068 111.6L1065.2 112.5L1063.5 113.3L1061.9 114.1L1058.4 117.2L1055.1 120.2L1055.3 123.3L1053 126.4L1050 129.5L1048.2 132.6L1046.6 135.6L1045.7 138.7L1045.8 141.8L1045 144.8L1043.8 147.9L1042.3 151L1040.8 154.1L1040.3 157.2L1040.1 160.2L1040.1 163.3L1039.5 166.4L1038.6 169.4L1037.5 172.5L1036.4 175.6L1036.2 178.7L1035.3 181.8L1034.7 184.8L1033.5 187.9L1032.7 191L1032.6 192L1028.4 202.2L1023.5 212.5L1017.6 222.8L1011.8 233L1005.8 243.2L1000.7 253.5L995.4 263.8L990.3 274L985.2 284.2L980.1 294.5L975 304.8L970.1 315L965.2 325.2L960.3 335.5L955.4 345.8L950.5 356L945.5 366.2L940.5 376.5L935.6 386.8L930.8 397L926.1 407.2L921.4 417.5L916.8 427.8L912.3 438L907.8 448.2L903.3 458.5L898.9 468.8L894.5 479L890.2 489.2L886 499.5" stroke="#acff53" stroke-width="1.0" fill="none" stroke-linejoin="round" />
<path d="M1097.1 89.5L1109.7 90.3L1124.7 91.1L1127.6 92L1119.5 92.8L1108.5 93.6L1107 94.4L1109.7 95.2L1112 96.1L1112.1 96.9L1110 97.7L1107.2 98.5L1107.3 99.3L1105.5 100.2L1099.1 101L1092 101.8L1091 102.6L1090.5 103.4L1091.3 104.3L1089 105.1L1083.4 105.9L1079.5 106.7L1078.5 107.5L1075.5 108.4L1071.6 109.2L1069.6 110L1067.7 110.8L1068.1 111.6L1066.8 112.5L1065 113.3L1065.1 114.1L1062.2 117.2L1058.8 120.2L1055.5 123.3L1052.8 126.4L1051.3 129.5L1049 132.6L1048.2 135.6L1047.6 138.7L1045.6 141.8L1044.4 144.8L1042.7 147.9L1040.8 151L1040.5 154.1L1040.9 157.2L1039 160.2L1037.9 163.3L1037 166.4L1036.1 169.4L1034.8 172.5L1033.9 175.6L1033 178.7L1032 181.8L1031.2 184.8L1029.7 187.9L1028.8 191L1028.2 192L1023.9 202.2L1019.3 212.5L1014 222.8L1008.7 233L1003.5 243.2L998.4 253.5L993.4 263.8L988 274L982.8 284.2L977.7 294.5L972.7 304.8L967.8 315L963 325.2L958.1 335.5L953.2 345.8L948.2 356L943.2 366.2L938.2 376.5L933.3 386.8L928.4 397L923.7 407.2L919.1 417.5L914.5 427.8L910 438L905.4 448.2L900.9 458.5L896.3 468.8L891.8 479L887.4 489.2L882.9 499.5" stroke="#a2ff5d" stroke-width="1.0" fill="none" stroke-linejoin="round" />
<path d="M1131.5 89.5L1129.3 90.3L1123.9 91.1L1116.5 92L1117.7 92.8L1117 93.6L1115.1 94.4L1108.7 95.2L1101.6 96.1L1099.1 96.9L1101.1 97.7L1098.9 98.5L1094 99.3L1090.7 100.2L1088.2 101L1089.3 101.8L1090.3 102.6L1089.9 103.4L1087.7 104.3L1083.4 105.1L1081.1 105.9L1081 106.7L1078.4 107.5L1075.3 108.4L1071.4 109.2L1068.3 110L1066.6 110.8L1064.9 111.6L1064.6 112.5L1063.9 113.3L1062.1 114.1L1059.6 117.2L1056.9 120.2L1054.1 123.3L1051.6 126.4L1049.1 129.5L1047.5 132.6L1046 135.6L1045.3 138.7L1044.8 141.8L1042.7 144.8L1042.3 147.9L1040.3 151L1040 154.1L1039.9 157.2L1038.4 160.2L1037.9 163.3L1036.2 166.4L1035.8 169.4L1035.1 172.5L1034.2 175.6L1033.7 178.7L1032.3 181.8L1031.9 184.8L1030.6 187.9L1029.8 191L1029.2 192L1024.9 202.2L1020.2 212.5L1015 222.8L1009.4 233L1004.2 243.2L998.9 253.5L993.8 263.8L988.5 274L983.3 284.2L978.2 294.5L973.3 304.8L968.4 315L963.5 325.2L958.6 335.5L953.7 345.8L948.7 356L943.7 366.2L938.7 376.5L933.8 386.8L928.9 397L924.2 407.2L919.6 417.5L915 427.8L910.5 438L906 448.2L901.4 458.5L896.9 468.8L892.5 479L888 489.2L883.6 499.5" stroke="#98ff67" stroke-width="1.0" fill="none" stroke-linejoin="round" />
<path d="M1126.6 89.5L1111.2 90.3L1112.4 91.1L1127.9 92L1136.8 92.8L1130.4 93.6L1116.5 94.4L1105.1 95.2L1102.3 96.1L1105 96.9L1110 97.7L1107.3 98.5L1098.5 99.3L1090 100.2L1090.5 101L1091.2 101.8L1092.4 102.6L1092.9 103.4L1087.4 104.3L1084.5 105.1L1082.9 105.9L1081.5 106.7L1079 107.5L1076.4 108.4L1074.2 109.2L1069.8 110L1069.2 110.8L1066.9 111.6L1066.4 112.5L1063 113.3L1062.6 114.1L1059 117.2L1056.4 120.2L1054.8 123.3L1053.9 126.4L1052.5 129.5L1048.5 132.6L1046.6 135.6L1044.6 138.7L1044.5 141.8L1042.7 144.8L1043.7 147.9L1041.5 151L1040.5 154.1L1039.8 157.2L1038 160.2L1037.7 163.3L1037.3 166.4L1036.2 169.4L1034.8 172.5L1034.2 175.6L1032.4 178.7L1031.6 181.8L1031.7 184.8L1030.3 187.9L1028.7 191L1028.4 192L1024.1 202.2L1019.8 212.5L1014.3 222.8L1008.8 233L1003.8 243.2L998.6 253.5L993.4 263.8L988.1 274L983 284.2L977.9 294.5L972.9 304.8L967.9 315L963.1 325.2L958.2 335.5L953.4 345.8L948.4 356L943.4 366.2L938.3 376.5L933.4 386.8L928.6 397L923.8 407.2L919.2 417.5L914.6 427.8L910.1 438L905.5 448.2L901 458.5L896.5 468.8L892 479L887.5 489.2L883.1 499.5" stroke="#8eff71" stroke-width="1.0" fill="none" stroke-linejoin="round" />
<path d="M1128.6 89.5L1139.3 90.3L1142.9 91.1L1127.2 92L1111.4 92.8L1103 93.6L1103.6 94.4L1107.4 95.2L1105.5 96.1L1099.6 96.9L1095.5 97.7L1093.7 98.5L1095.7 99.3L1095.6 100.2L1095 101L1092 101.8L1091.8 102.6L1090 103.4L1088.5 104.3L1089.4 105.1L1084.6 105.9L1081.5 106.7L1078.2 107.5L1075.3 108.4L1070.6 109.2L1066.5 110L1066.1 110.8L1063.3 111.6L1062.1 112.5L1063.9 113.3L1062.7 114.1L1058.4 117.2L1057.1 120.2L1055.1 123.3L1052.2 126.4L1050.3 129.5L1048.1 132.6L1047.4 135.6L1046.3 138.7L1045 141.8L1042.6 144.8L1042.3 147.9L1042.1 151L1041.6 154.1L1040.4 157.2L1039.1 160.2L1038.5 163.3L1037.4 166.4L1037.4 169.4L1036.7 172.5L1035 175.6L1034.3 178.7L1033.5 181.8L1032.9 184.8L1031.9 187.9L1030.9 191L1030.7 192L1026.5 202.2L1021.6 212.5L1016.1 222.8L1010.5 233L1005 243.2L999.7 253.5L994.6 263.8L989.2 274L984.2 284.2L979 294.5L974 304.8L969.2 315L964.2 325.2L959.3 335.5L954.5 345.8L949.5 356L944.5 366.2L939.5 376.5L934.6 386.8L929.7 397L925 407.2L920.4 417.5L915.8 427.8L911.3 438L906.7 448.2L902.2 458.5L897.8 468.8L893.3 479L889 489.2L884.6 499.5" stroke="#84ff7b" stroke-width="1.0" fill="none" stroke-linejoin="round" />
<path d="M1116.6 89.5L1121 90.3L1120 91.1L1116.1 92L1114.7 92.8L1122.6 93.6L1131.6 94.4L1128 95.2L1117.3 96.1L1108.4 96.9L1104.6 97.7L1104.8 98.5L1107.2 99.3L1100.6 100.2L1094.9 101L1093.1 101.8L1094.1 102.6L1095.3 103.4L1092.5 104.3L1087.3 105.1L1083.2 105.9L1080.9 106.7L1079.4 107.5L1078.2 108.4L1073.8 109.2L1070.3 110L1067.9 110.8L1066.9 111.6L1066.9 112.5L1064.6 113.3L1060.8 114.1L1061.6 117.2L1059.7 120.2L1055.5 123.3L1054.8 126.4L1051.4 129.5L1048.2 132.6L1047 135.6L1046.3 138.7L1045.2 141.8L1044.1 144.8L1042.6 147.9L1041.8 151L1040.2 154.1L1039.5 157.2L1037.9 160.2L1037.1 163.3L1036 166.4L1035.2 169.4L1033.7 172.5L1033.4 175.6L1032 178.7L1030.7 181.8L1029.4 184.8L1028.1 187.9L1027 191L1026.9 192L1022.3 202.2L1017.6 212.5L1012.9 222.8L1007.8 233L1002.7 243.2L997.7 253.5L992.5 263.8L987.2 274L981.9 284.2L976.8 294.5L971.8 304.8L967 315L962.2 325.2L957.3 335.5L952.4 345.8L947.4 356L942.4 366.2L937.4 376.5L932.4 386.8L927.6 397L922.9 407.2L918.2 417.5L913.7 427.8L909.1 438L904.6 448.2L900 458.5L895.4 468.8L890.9 479L886.3 489.2L881.8 499.5" stroke="#7bff84" stroke-width="1.0" fill="none" stroke-linejoin="round" />
<path d="M1123.1 89.5L1114.7 90.3L1108.3 91.1L1102.4 92L1104.9 92.8L1114.5 93.6L1121 94.4L1123.1 95.2L1114.4 96.1L1105.9 96.9L1101.1 97.7L1099 98.5L1101.2 99.3L1099.3 100.2L1098.8 101L1095.2 101.8L1091.6 102.6L1087.5 103.4L1085.4 104.3L1082.9 105.1L1080.2 105.9L1079.1 106.7L1075.5 107.5L1073.4 108.4L1074.7 109.2L1073 110L1070.8 110.8L1069.2 111.6L1066.5 112.5L1063.5 113.3L1063.7 114.1L1059.4 117.2L1057.1 120.2L1055.4 123.3L1053.5 126.4L1049.5 129.5L1047.9 132.6L1047.5 135.6L1047.5 138.7L1046 141.8L1044.3 144.8L1043.7 147.9L1042.7 151L1041.9 154.1L1040.5 157.2L1039.6 160.2L1039.4 163.3L1038.7 166.4L1038.1 169.4L1037.4 172.5L1036.2 175.6L1035 178.7L1034.4 181.8L1033.3 184.8L1032.6 187.9L1031.8 191L1031.4 192L1026.8 202.2L1021.8 212.5L1016.7 222.8L1010.9 233L1005.2 243.2L1000 253.5L994.8 263.8L989.6 274L984.5 284.2L979.4 294.5L974.3 304.8L969.4 315L964.5 325.2L959.6 335.5L954.8 345.8L949.8 356L944.8 366.2L939.8 376.5L934.9 386.8L930 397L925.3 407.2L920.7 417.5L916.1 427.8L911.5 438L907 448.2L902.5 458.5L898.1 468.8L893.7 479L889.3 489.2L885 499.5" stroke="#71ff8e" stroke-width="1.0" fill="none" stroke-linejoin="round" />
<path d="M1117.3 89.5L1121.1 90.3L1121.8 91.1L1114.3 92L1109.2 92.8L1105.1 93.6L1109 94.4L1113 95.2L1115.3 96.1L1115.1 96.9L1110 97.7L1105 98.5L1100.9 99.3L1096.4 100.2L1094.4 101L1095 101.8L1090.7 102.6L1091.1 103.4L1089.7 104.3L1088.7 105.1L1085.7 105.9L1082.1 106.7L1077.8 107.5L1074 108.4L1070.7 109.2L1070.7 110L1068.1 110.8L1066.8 111.6L1065.1 112.5L1064.2 113.3L1063.1 114.1L1059.5 117.2L1057.6 120.2L1055.5 123.3L1053.5 126.4L1050.4 129.5L1049.4 132.6L1048.2 135.6L1046.8 138.7L1045.7 141.8L1043.6 144.8L1044.2 147.9L1043.4 151L1042.9 154.1L1041.1 157.2L1040.9 160.2L1039.1 163.3L1039.1 166.4L1038.4 169.4L1037.2 172.5L1036.4 175.6L1035.7 178.7L1034.7 181.8L1033.7 184.8L1032.9 187.9L1031.8 191L1031.3 192L1027.4 202.2L1022.1 212.5L1016.6 222.8L1010.8 233L1005.3 243.2L1000.1 253.5L995.1 263.8L989.8 274L984.6 284.2L979.6 294.5L974.5 304.8L969.6 315L964.7 325.2L959.8 335.5L954.9 345.8L950 356L945 366.2L940 376.5L935.1 386.8L930.2 397L925.5 407.2L920.8 417.5L916.3 427.8L911.7 438L907.2 448.2L902.7 458.5L898.3 468.8L893.9 479L889.5 489.2L885.2 499.5" stroke="#67ff98" stroke-width="1.0" fill="none" stroke-linejoin="round" />
<path d="M1129.8 89.5L1126.1 90.3L1131.4 91.1L1131.7 92L1127.7 92.8L1119.8 93.6L1118.2 94.4L1120.6 95.2L1123.8 96.1L1119.8 96.9L1111.3 97.7L1099.7 98.5L1095.5 99.3L1098 100.2L1100.5 101L1100.7 101.8L1094.7 102.6L1089.5 103.4L1086.8 104.3L1085.4 105.1L1084.7 105.9L1083.6 106.7L1082.5 107.5L1076.5 108.4L1074.6 109.2L1072.4 110L1069.9 110.8L1067.6 111.6L1067.2 112.5L1067 113.3L1065.6 114.1L1059.4 117.2L1057.7 120.2L1055.7 123.3L1053.7 126.4L1051.3 129.5L1050.4 132.6L1048 135.6L1046.4 138.7L1045.7 141.8L1044.5 144.8L1044 147.9L1042 151L1041.3 154.1L1040.1 157.2L1039.3 160.2L1039 163.3L1037.9 166.4L1037.2 169.4L1035.6 172.5L1033.8 175.6L1033 178.7L1032 181.8L1031.8 184.8L1030.5 187.9L1029.6 191L1028.6 192L1024.6 202.2L1019.7 212.5L1014.5 222.8L1009.1 233L1003.9 243.2L998.8 253.5L993.6 263.8L988.4 274L983.1 284.2L978.1 294.5L973.1 304.8L968.2 315L963.2 325.2L958.4 335.5L953.5 345.8L948.6 356L943.5 366.2L938.6 376.5L933.6 386.8L928.7 397L924 407.2L919.4 417.5L914.8 427.8L910.3 438L905.7 448.2L901.2 458.5L896.7 468.8L892.2 479L887.8 489.2L883.3 499.5" stroke="#5dffa2" stroke-width="1.0" fill="none" stroke-linejoin="round" />
<path d="M1217.5 89.5L1215.3 90.3L1212 91.1L1207.5 92L1203 92.8L1195 93.6L1191.9 94.4L1185.7 95.2L1182.1 96.1L1175 96.9L1164.8 97.7L1158.9 98.5L1151.6 99.3L1142.6 100.2L1136.5 101L1135.8 101.8L1133 102.6L1131.5 103.4L1130.1 104.3L1127.3 105.1L1125.6 105.9L1125.1 106.7L1124 107.5L1124 108.4L1120.6 109.2L1118.9 110L1117.8 110.8L1120.5 111.6L1118.5 112.5L1117.6 113.3L1115.5 114.1L1110.9 117.2L1104.1 120.2L1095.2 123.3L1088.2 126.4L1082 129.5L1074.8 132.6L1069.7 135.6L1065.9 138.7L1063.6 141.8L1060.2 144.8L1058.4 147.9L1056.1 151L1054.2 154.1L1052.3 157.2L1050.2 160.2L1048.9 163.3L1047.9 166.4L1045.8 169.4L1044.3 172.5L1043.3 175.6L1041.9 178.7L1040.7 181.8L1039.2 184.8L1037.7 187.9L1036.6 191L1036.3 192L1030.7 202.2L1025.1 212.5L1019.7 222.8L1013.3 233L1007.5 243.2L1002.1 253.5L996.9 263.8L991.6 274L986.4 284.2L981.3 294.5L976.3 304.8L971.3 315L966.3 325.2L961.3 335.5L956.3 345.8L951.3 356L946.2 366.2L941.2 376.5L936.2 386.8L931.3 397L926.6 407.2L921.9 417.5L917.3 427.8L912.8 438L908.3 448.2L903.9 458.5L899.5 468.8L895.2 479L890.9 489.2L886.7 499.5" stroke="#53ffac" stroke-width="1.0" fill="none" stroke-linejoin="round" />
<path d="M1170.2 89.5L1174.3 90.3L1175.7 91.1L1176.5 92L1177 92.8L1176 93.6L1177.5 94.4L1175.2 95.2L1171.5 96.1L1166.9 96.9L1159.7 97.7L1153.9 98.5L1145.2 99.3L1137.6 100.2L1129.1 101L1123.5 101.8L1119.6 102.6L1115 103.4L1109.2 104.3L1104.9 105.1L1101.8 105.9L1099.1 106.7L1095.8 107.5L1091.7 108.4L1089.1 109.2L1085.9 110L1083.5 110.8L1082.4 111.6L1079.1 112.5L1076.9 113.3L1074.6 114.1L1070.2 117.2L1067.1 120.2L1064.3 123.3L1061.7 126.4L1061.3 129.5L1060 132.6L1058.7 135.6L1055.7 138.7L1054.5 141.8L1052.2 144.8L1051.8 147.9L1049.9 151L1050.6 154.1L1049.6 157.2L1048.6 160.2L1046.6 163.3L1046.3 166.4L1044.7 169.4L1044.3 172.5L1044.1 175.6L1043.1 178.7L1041.7 181.8L1040.6 184.8L1039.4 187.9L1038.3 191L1038.1 192L1033.6 202.2L1028.8 212.5L1022.5 222.8L1016.8 233L1010.7 243.2L1005.5 253.5L1000 263.8L994.6 274L989.2 284.2L983.9 294.5L978.6 304.8L973.5 315L968.3 325.2L963.2 335.5L958 345.8L952.8 356L947.5 366.2L942.3 376.5L937.2 386.8L932.2 397L927.4 407.2L922.7 417.5L918.1 427.8L913.6 438L909.2 448.2L904.8 458.5L900.5 468.8L896.3 479L892.1 489.2L888 499.5" stroke="#49ffb6" stroke-width="1.0" fill="none" stroke-linejoin="round" />
<path d="M1187.9 89.5L1190 90.3L1191.7 91.1L1189.3 92L1186.2 92.8L1180.8 93.6L1179.7 94.4L1179.4 95.2L1177.5 96.1L1174.9 96.9L1168.8 97.7L1160.3 98.5L1151.8 99.3L1141.9 100.2L1133.7 101L1130.9 101.8L1128.2 102.6L1125 103.4L1123.2 104.3L1119.8 105.1L1115.9 105.9L1111.5 106.7L1108.5 107.5L1105.2 108.4L1103.1 109.2L1102 110L1101 110.8L1096.8 111.6L1095.5 112.5L1093.2 113.3L1092.3 114.1L1086.3 117.2L1084.1 120.2L1078.5 123.3L1073.2 126.4L1069.4 129.5L1066.7 132.6L1065 135.6L1062.6 138.7L1060.8 141.8L1057.2 144.8L1055.7 147.9L1054.6 151L1053.8 154.1L1052.8 157.2L1050.8 160.2L1049.9 163.3L1049.3 166.4L1048.2 169.4L1046.9 172.5L1045.7 175.6L1045.2 178.7L1043.9 181.8L1043.1 184.8L1042.2 187.9L1040.7 191L1040.5 192L1035.8 202.2L1030.2 212.5L1024.3 222.8L1017.8 233L1012.2 243.2L1006.4 253.5L1001.1 263.8L995.6 274L990.2 284.2L984.8 294.5L979.5 304.8L974.3 315L969.1 325.2L963.9 335.5L958.6 345.8L953.4 356L948 366.2L942.7 376.5L937.5 386.8L932.5 397L927.7 407.2L923 417.5L918.4 427.8L913.9 438L909.5 448.2L905.1 458.5L900.8 468.8L896.6 479L892.5 489.2L888.5 499.5" stroke="#3fffc0" stroke-width="1.0" fill="none" stroke-linejoin="round" />
<path d="M1210.5 89.5L1207.4 90.3L1202.6 91.1L1204.4 92L1204.6 92.8L1202.3 93.6L1200.2 94.4L1196.8 95.2L1191.5 96.1L1189.3 96.9L1183.1 97.7L1174.1 98.5L1163.5 99.3L1154.9 100.2L1147.4 101L1143.7 101.8L1138.7 102.6L1136.9 103.4L1133.3 104.3L1127.7 105.1L1123 105.9L1123 106.7L1119.2 107.5L1117.4 108.4L1113.4 109.2L1111.1 110L1109.6 110.8L1107.9 111.6L1105.8 112.5L1103.7 113.3L1103.5 114.1L1097 117.2L1090.9 120.2L1085.5 123.3L1080 126.4L1075.2 129.5L1071.1 132.6L1068.6 135.6L1065.5 138.7L1062.1 141.8L1059.7 144.8L1058.5 147.9L1056.5 151L1055.8 154.1L1054 157.2L1053.1 160.2L1051.6 163.3L1050.6 166.4L1049.7 169.4L1048 172.5L1047.1 175.6L1046.1 178.7L1045.4 181.8L1044.3 184.8L1043.5 187.9L1042.2 191L1041.6 192L1036.9 202.2L1031.6 212.5L1025.4 222.8L1019.2 233L1013.1 243.2L1007.5 253.5L1002 263.8L996.4 274L991 284.2L985.6 294.5L980.3 304.8L975 315L969.7 325.2L964.5 335.5L959.2 345.8L953.9 356L948.4 366.2L943.1 376.5L937.8 386.8L932.8 397L927.9 407.2L923.2 417.5L918.6 427.8L914.2 438L909.8 448.2L905.4 458.5L901.2 468.8L897 479L892.9 489.2L888.9 499.5" stroke="#35ffca" stroke-width="1.0" fill="none" stroke-linejoin="round" />
<path d="M1207.8 89.5L1209.4 90.3L1205.4 91.1L1201.9 92L1195.2 92.8L1189.4 93.6L1183.5 94.4L1177 95.2L1168.5 96.1L1160.9 96.9L1153.2 97.7L1144.2 98.5L1135.4 99.3L1130.7 100.2L1127.6 101L1123.8 101.8L1119.8 102.6L1116.2 103.4L1115.9 104.3L1113.3 105.1L1109.5 105.9L1107.8 106.7L1105.8 107.5L1103.6 108.4L1100 109.2L1097.6 110L1097.7 110.8L1093.7 111.6L1093.5 112.5L1093.1 113.3L1091.6 114.1L1087.1 117.2L1081.7 120.2L1078.6 123.3L1073.8 126.4L1070.9 129.5L1067.3 132.6L1063.9 135.6L1060.6 138.7L1059.6 141.8L1056.7 144.8L1055.2 147.9L1053.8 151L1053.1 154.1L1051.4 157.2L1049.9 160.2L1049.4 163.3L1048.3 166.4L1047.7 169.4L1045.5 172.5L1044.7 175.6L1043.9 178.7L1042.7 181.8L1042 184.8L1040.6 187.9L1039.5 191L1039.4 192L1034.6 202.2L1028.7 212.5L1023.1 222.8L1017 233L1011 243.2L1005.5 253.5L1000.1 263.8L994.8 274L989.3 284.2L984 294.5L978.7 304.8L973.6 315L968.4 325.2L963.3 335.5L958.1 345.8L952.9 356L947.6 366.2L942.4 376.5L937.2 386.8L932.2 397L927.4 407.2L922.7 417.5L918.1 427.8L913.7 438L909.2 448.2L904.9 458.5L900.6 468.8L896.3 479L892.2 489.2L888.1 499.5" stroke="#2bffd4" stroke-width="1.0" fill="none" stroke-linejoin="round" />
<path d="M1210.8 89.5L1211.7 90.3L1209.9 91.1L1207.7 92L1203.5 92.8L1199 93.6L1193.9 94.4L1190.3 95.2L1185 96.1L1177.1 96.9L1169.2 97.7L1161.4 98.5L1153.7 99.3L1143.2 100.2L1138.2 101L1134.9 101.8L1134 102.6L1132.1 103.4L1131.6 104.3L1131.3 105.1L1129.6 105.9L1128.1 106.7L1126.7 107.5L1128.4 108.4L1126.4 109.2L1127.1 110L1126.3 110.8L1125.6 111.6L1124.6 112.5L1123.4 113.3L1122.1 114.1L1119.8 117.2L1110.4 120.2L1099.8 123.3L1090.5 126.4L1082.5 129.5L1077.3 132.6L1071.8 135.6L1067.8 138.7L1064.4 141.8L1061.2 144.8L1058.8 147.9L1056.6 151L1054.7 154.1L1052.7 157.2L1050.9 160.2L1048.8 163.3L1047.8 166.4L1046.1 169.4L1045.3 172.5L1044 175.6L1042.5 178.7L1041.2 181.8L1039.6 184.8L1038.2 187.9L1036.7 191L1036.6 192L1031.2 202.2L1025.3 212.5L1019.3 222.8L1013.4 233L1007.7 243.2L1002.2 253.5L997 263.8L991.8 274L986.6 284.2L981.4 294.5L976.3 304.8L971.4 315L966.4 325.2L961.4 335.5L956.4 345.8L951.4 356L946.3 366.2L941.2 376.5L936.2 386.8L931.4 397L926.6 407.2L921.9 417.5L917.4 427.8L912.8 438L908.4 448.2L903.9 458.5L899.6 468.8L895.2 479L891 489.2L886.8 499.5" stroke="#21ffde" stroke-width="1.0" fill="none" stroke-linejoin="round" />
<path d="M1192.9 89.5L1189.4 90.3L1186.5 91.1L1183.5 92L1182.8 92.8L1178.5 93.6L1176.9 94.4L1174.9 95.2L1172.6 96.1L1168.2 96.9L1159.5 97.7L1151.2 98.5L1143.5 99.3L1136.5 100.2L1130 101L1126.2 101.8L1122.3 102.6L1118 103.4L1116.1 104.3L1116.1 105.1L1112.1 105.9L1108.2 106.7L1104.9 107.5L1104.6 108.4L1103.5 109.2L1100.1 110L1098.4 110.8L1096.1 111.6L1097.3 112.5L1096 113.3L1096.8 114.1L1093.4 117.2L1087.2 120.2L1080.4 123.3L1076.4 126.4L1072.1 129.5L1069 132.6L1065.8 135.6L1063.1 138.7L1060.1 141.8L1059 144.8L1057.6 147.9L1056.5 151L1054.9 154.1L1053.1 157.2L1051.9 160.2L1051.1 163.3L1050 166.4L1049.3 169.4L1048.4 172.5L1047.6 175.6L1046.9 178.7L1045.7 181.8L1044.7 184.8L1043.5 187.9L1042.2 191L1041.8 192L1037.6 202.2L1032.1 212.5L1025.8 222.8L1019.5 233L1013.6 243.2L1007.9 253.5L1002.5 263.8L996.9 274L991.5 284.2L986 294.5L980.7 304.8L975.4 315L970.1 325.2L964.8 335.5L959.5 345.8L954.1 356L948.7 366.2L943.3 376.5L938 386.8L932.9 397L928 407.2L923.3 417.5L918.8 427.8L914.3 438L909.9 448.2L905.6 458.5L901.3 468.8L897.1 479L893.1 489.2L889.1 499.5" stroke="#18ffe7" stroke-width="1.0" fill="none" stroke-linejoin="round" />
<path d="M1231 89.5L1229 90.3L1223.8 91.1L1214.9 92L1202.4 92.8L1195.7 93.6L1190.2 94.4L1185.2 95.2L1176.7 96.1L1168.4 96.9L1156.3 97.7L1144.2 98.5L1136.4 99.3L1126.2 100.2L1123.3 101L1117.8 101.8L1112.7 102.6L1109.7 103.4L1103.2 104.3L1100.2 105.1L1099.9 105.9L1096.2 106.7L1091.4 107.5L1087.4 108.4L1085.2 109.2L1083.2 110L1081.8 110.8L1078.8 111.6L1076.5 112.5L1075.5 113.3L1072.6 114.1L1067.7 117.2L1064.6 120.2L1064 123.3L1061.6 126.4L1058.7 129.5L1057.9 132.6L1056 135.6L1054 138.7L1052.6 141.8L1050.3 144.8L1050 147.9L1048.8 151L1048.1 154.1L1047 157.2L1046.7 160.2L1044.4 163.3L1043.2 166.4L1042.6 169.4L1042.1 172.5L1040.8 175.6L1039.7 178.7L1038.3 181.8L1037.2 184.8L1036.2 187.9L1035 191L1034.3 192L1030.1 202.2L1024.6 212.5L1018.9 222.8L1013 233L1007.6 243.2L1002.2 253.5L996.8 263.8L991.7 274L986.5 284.2L981.2 294.5L976.2 304.8L971.2 315L966.2 325.2L961.3 335.5L956.3 345.8L951.3 356L946.2 366.2L941.2 376.5L936.2 386.8L931.3 397L926.6 407.2L921.9 417.5L917.3 427.8L912.8 438L908.3 448.2L903.9 458.5L899.5 468.8L895.2 479L890.9 489.2L886.7 499.5" stroke="#0efff1" stroke-width="1.0" fill="none" stroke-linejoin="round" />
<path d="M1184.5 89.5L1186.2 90.3L1183.4 91.1L1180.8 92L1177.7 92.8L1176.3 93.6L1178.4 94.4L1175.3 95.2L1169.7 96.1L1161 96.9L1153.4 97.7L1145.9 98.5L1140.7 99.3L1132.4 100.2L1125.1 101L1117.8 101.8L1112.8 102.6L1111 103.4L1108 104.3L1109.4 105.1L1106.1 105.9L1101.5 106.7L1100.5 107.5L1097.6 108.4L1095.8 109.2L1093.9 110L1092.4 110.8L1087.2 111.6L1086.2 112.5L1085.8 113.3L1083 114.1L1079.1 117.2L1075.8 120.2L1073.2 123.3L1068.8 126.4L1065.9 129.5L1063.9 132.6L1060.5 135.6L1057.5 138.7L1055.5 141.8L1053.9 144.8L1052.7 147.9L1050.5 151L1050 154.1L1049.6 157.2L1048.2 160.2L1045.9 163.3L1045.2 166.4L1044 169.4L1042.6 172.5L1041.8 175.6L1040.3 178.7L1039.4 181.8L1038.4 184.8L1037.2 187.9L1035.8 191L1035.5 192L1030.5 202.2L1024.8 212.5L1019.3 222.8L1013.3 233L1007.6 243.2L1002.3 253.5L996.9 263.8L991.6 274L986.5 284.2L981.4 294.5L976.3 304.8L971.3 315L966.3 325.2L961.4 335.5L956.4 345.8L951.3 356L946.2 366.2L941.2 376.5L936.2 386.8L931.3 397L926.6 407.2L921.9 417.5L917.3 427.8L912.8 438L908.3 448.2L903.9 458.5L899.5 468.8L895.2 479L890.9 489.2L886.7 499.5" stroke="#04fffb" stroke-width="1.0" fill="none" stroke-linejoin="round" />
<path d="M1177.2 89.5L1178.8 90.3L1181.7 91.1L1185.8 92L1184.8 92.8L1185.4 93.6L1183.5 94.4L1185.3 95.2L1182 96.1L1183.9 96.9L1179.7 97.7L1171.3 98.5L1162.5 99.3L1153.1 100.2L1145.6 101L1137.5 101.8L1130.8 102.6L1125.6 103.4L1121.2 104.3L1116.7 105.1L1112.9 105.9L1109 106.7L1103.6 107.5L1099.8 108.4L1098.2 109.2L1094.9 110L1092.3 110.8L1090.9 111.6L1089.4 112.5L1087.1 113.3L1084.7 114.1L1082.5 117.2L1079.6 120.2L1075.3 123.3L1070.2 126.4L1064.9 129.5L1062.1 132.6L1059.4 135.6L1058.2 138.7L1056 141.8L1054.8 144.8L1053 147.9L1050.9 151L1050.5 154.1L1048.9 157.2L1047.7 160.2L1045.2 163.3L1044.3 166.4L1044 169.4L1042.4 172.5L1041.8 175.6L1040.3 178.7L1039 181.8L1037.6 184.8L1036.3 187.9L1035.4 191L1035.2 192L1030.2 202.2L1024.4 212.5L1018.7 222.8L1012.9 233L1007.2 243.2L1001.8 253.5L996.6 263.8L991.3 274L986.1 284.2L981.1 294.5L976 304.8L971 315L966.1 325.2L961.1 335.5L956.2 345.8L951.1 356L946.1 366.2L941.1 376.5L936.1 386.8L931.2 397L926.5 407.2L921.8 417.5L917.2 427.8L912.7 438L908.2 448.2L903.8 458.5L899.4 468.8L895.1 479L890.8 489.2L886.6 499.5" stroke="#00f9ff" stroke-width="1.0" fill="none" stroke-linejoin="round" />
<path d="M1192.1 89.5L1190.2 90.3L1189.1 91.1L1187.9 92L1187.2 92.8L1188.9 93.6L1188.1 94.4L1184.2 95.2L1180.7 96.1L1174.2 96.9L1168.9 97.7L1160.8 98.5L1150.4 99.3L1141.5 100.2L1137.3 101L1131.5 101.8L1130.1 102.6L1126.4 103.4L1122.2 104.3L1121.1 105.1L1119.7 105.9L1119.2 106.7L1118.1 107.5L1113.9 108.4L1111.8 109.2L1112.1 110L1108.6 110.8L1108.9 111.6L1108.5 112.5L1106.6 113.3L1105.9 114.1L1102 117.2L1095.9 120.2L1088.3 123.3L1082.6 126.4L1077.5 129.5L1072.1 132.6L1069.2 135.6L1064.6 138.7L1061.4 141.8L1059.2 144.8L1057.3 147.9L1056.2 151L1054 154.1L1053.8 157.2L1052.3 160.2L1050 163.3L1048.1 166.4L1046.5 169.4L1046 172.5L1044.9 175.6L1043.9 178.7L1043.2 181.8L1042.1 184.8L1040.6 187.9L1039.3 191L1039 192L1034 202.2L1028.4 212.5L1022.1 222.8L1016.1 233L1010.3 243.2L1004.8 253.5L999.3 263.8L994 274L988.7 284.2L983.5 294.5L978.2 304.8L973 315L968 325.2L962.9 335.5L957.8 345.8L952.6 356L947.3 366.2L942.1 376.5L937 386.8L932 397L927.2 407.2L922.6 417.5L918 427.8L913.5 438L909 448.2L904.6 458.5L900.3 468.8L896.1 479L891.9 489.2L887.8 499.5" stroke="#00efff" stroke-width="1.0" fill="none" stroke-linejoin="round" />
<path d="M1200.9 89.5L1199.7 90.3L1199 91.1L1199.5 92L1198.4 92.8L1196.9 93.6L1193.3 94.4L1186.7 95.2L1182.6 96.1L1175.4 96.9L1169.1 97.7L1160.7 98.5L1151.5 99.3L1146.2 100.2L1140 101L1133.8 101.8L1129.2 102.6L1123.8 103.4L1122.4 104.3L1120.4 105.1L1115.4 105.9L1113.7 106.7L1110.1 107.5L1109 108.4L1106.4 109.2L1104.8 110L1103.3 110.8L1100 111.6L1100.5 112.5L1097.9 113.3L1098.7 114.1L1094.7 117.2L1087.2 120.2L1081.8 123.3L1076.9 126.4L1071.4 129.5L1067.4 132.6L1065 135.6L1062.8 138.7L1061.2 141.8L1059 144.8L1057.4 147.9L1056.2 151L1054.1 154.1L1052.3 157.2L1051.7 160.2L1050.3 163.3L1050.1 166.4L1049.1 169.4L1047.6 172.5L1046.2 175.6L1045.1 178.7L1044.6 181.8L1043.3 184.8L1042.4 187.9L1041.4 191L1041 192L1036.1 202.2L1030.8 212.5L1024.5 222.8L1018.4 233L1012.4 243.2L1007 253.5L1001.6 263.8L996 274L990.5 284.2L985.2 294.5L979.8 304.8L974.5 315L969.4 325.2L964.1 335.5L958.9 345.8L953.6 356L948.2 366.2L942.9 376.5L937.6 386.8L932.6 397L927.8 407.2L923.1 417.5L918.5 427.8L914 438L909.6 448.2L905.2 458.5L901 468.8L896.8 479L892.7 489.2L888.6 499.5" stroke="#00e5ff" stroke-width="1.0" fill="none" stroke-linejoin="round" />
<path d="M1202.8 89.5L1199.9 90.3L1198.2 91.1L1200.9 92L1202.4 92.8L1198.8 93.6L1194.2 94.4L1190.4 95.2L1188.8 96.1L1186.2 96.9L1177.8 97.7L1167.1 98.5L1157.3 99.3L1148.8 100.2L1141 101L1137.3 101.8L1132.5 102.6L1126.4 103.4L1124.5 104.3L1122.7 105.1L1121.9 105.9L1118.1 106.7L1114.5 107.5L1113.1 108.4L1110.3 109.2L1109.9 110L1109.3 110.8L1108.8 111.6L1106.7 112.5L1103.3 113.3L1103.3 114.1L1098 117.2L1090.3 120.2L1085.2 123.3L1079 126.4L1073.6 129.5L1068.8 132.6L1064.8 135.6L1064.1 138.7L1061.2 141.8L1059.7 144.8L1057.2 147.9L1055.1 151L1052.7 154.1L1051.3 157.2L1050.1 160.2L1048.3 163.3L1048 166.4L1046.1 169.4L1045 172.5L1044.5 175.6L1042.4 178.7L1041.2 181.8L1040.6 184.8L1039.3 187.9L1038.3 191L1037.7 192L1032.8 202.2L1027 212.5L1021.4 222.8L1015 233L1009.3 243.2L1004.2 253.5L998.6 263.8L993.1 274L988 284.2L982.8 294.5L977.6 304.8L972.5 315L967.4 325.2L962.4 335.5L957.3 345.8L952.1 356L947 366.2L941.8 376.5L936.7 386.8L931.8 397L927 407.2L922.3 417.5L917.8 427.8L913.2 438L908.8 448.2L904.4 458.5L900.1 468.8L895.8 479L891.6 489.2L887.4 499.5" stroke="#00dbff" stroke-width="1.0" fill="none" stroke-linejoin="round" />
<path d="M1194.7 89.5L1196.4 90.3L1194.5 91.1L1182.9 92L1177 92.8L1174.9 93.6L1180.8 94.4L1181.5 95.2L1173.1 96.1L1168.7 96.9L1160.4 97.7L1152.1 98.5L1142.3 99.3L1134.6 100.2L1126.9 101L1123.5 101.8L1120.6 102.6L1116.6 103.4L1114.9 104.3L1112.3 105.1L1110 105.9L1105.4 106.7L1105.5 107.5L1103.5 108.4L1102.4 109.2L1102 110L1099.2 110.8L1098.3 111.6L1097.4 112.5L1095.3 113.3L1094.1 114.1L1088 117.2L1081.4 120.2L1076 123.3L1073.3 126.4L1070.8 129.5L1067.7 132.6L1063.9 135.6L1061.6 138.7L1058.3 141.8L1056.4 144.8L1055.7 147.9L1053.2 151L1052.1 154.1L1051 157.2L1049.3 160.2L1048.9 163.3L1047.8 166.4L1046.7 169.4L1045.1 172.5L1043.8 175.6L1042.4 178.7L1041.8 181.8L1040.7 184.8L1039.6 187.9L1038.7 191L1037.9 192L1033.1 202.2L1027.6 212.5L1021.6 222.8L1015.7 233L1009.7 243.2L1004.5 253.5L998.9 263.8L993.6 274L988.4 284.2L983.1 294.5L977.9 304.8L972.8 315L967.7 325.2L962.6 335.5L957.5 345.8L952.3 356L947.1 366.2L942 376.5L936.9 386.8L931.9 397L927.1 407.2L922.4 417.5L917.9 427.8L913.4 438L908.9 448.2L904.5 458.5L900.2 468.8L895.9 479L891.7 489.2L887.6 499.5" stroke="#00d1ff" stroke-width="1.0" fill="none" stroke-linejoin="round" />
<path d="M1229.6 89.5L1222.2 90.3L1218 91.1L1215.9 92L1213 92.8L1208.8 93.6L1204.8 94.4L1197.5 95.2L1191.1 96.1L1181.6 96.9L1170 97.7L1160.6 98.5L1153.7 99.3L1149.2 100.2L1143.1 101L1142.2 101.8L1136.7 102.6L1134.9 103.4L1133.2 104.3L1132.3 105.1L1130.6 105.9L1129.6 106.7L1129 107.5L1127.7 108.4L1127.4 109.2L1124.7 110L1122.6 110.8L1121.1 111.6L1120 112.5L1118.5 113.3L1115.4 114.1L1111.5 117.2L1104.8 120.2L1095.6 123.3L1088.9 126.4L1081.8 129.5L1076 132.6L1071.6 135.6L1067.4 138.7L1062.6 141.8L1060.8 144.8L1058.4 147.9L1056.8 151L1055.2 154.1L1052.6 157.2L1051.4 160.2L1050.4 163.3L1049 166.4L1047.9 169.4L1045.3 172.5L1044.5 175.6L1043.1 178.7L1042.5 181.8L1041.1 184.8L1039.1 187.9L1038.2 191L1037.6 192L1032.3 202.2L1026.9 212.5L1020.9 222.8L1014.7 233L1008.9 243.2L1003.4 253.5L998 263.8L992.8 274L987.5 284.2L982.3 294.5L977.2 304.8L972.1 315L967.1 325.2L962.1 335.5L957 345.8L951.9 356L946.7 366.2L941.6 376.5L936.6 386.8L931.7 397L926.9 407.2L922.2 417.5L917.6 427.8L913.1 438L908.7 448.2L904.3 458.5L899.9 468.8L895.6 479L891.4 489.2L887.2 499.5" stroke="#00c7ff" stroke-width="1.0" fill="none" stroke-linejoin="round" />
<path d="M1258.3 89.5L1251.2 90.3L1239.3 91.1L1223.2 92L1208.5 92.8L1199.3 93.6L1192.5 94.4L1181.8 95.2L1167 96.1L1152.6 96.9L1140.2 97.7L1126.2 98.5L1122 99.3L1116.9 100.2L1113.2 101L1108.2 101.8L1103.9 102.6L1097.5 103.4L1096.5 104.3L1093.4 105.1L1091.5 105.9L1087.3 106.7L1084.3 107.5L1079.5 108.4L1076.9 109.2L1076.2 110L1074.2 110.8L1071.9 111.6L1069.3 112.5L1067.6 113.3L1065.4 114.1L1060.5 117.2L1059.5 120.2L1057.4 123.3L1057.3 126.4L1056.1 129.5L1054.6 132.6L1054.1 135.6L1052.4 138.7L1051 141.8L1050.6 144.8L1049.3 147.9L1049 151L1048.2 154.1L1047.6 157.2L1046.7 160.2L1045.4 163.3L1045.6 166.4L1044.6 169.4L1043.9 172.5L1043.3 175.6L1042 178.7L1041.7 181.8L1041 184.8L1040.4 187.9L1039.4 191L1039.3 192L1035.1 202.2L1029.8 212.5L1023.9 222.8L1018.1 233L1012 243.2L1006.5 253.5L1001 263.8L995.5 274L990.1 284.2L984.7 294.5L979.4 304.8L974.2 315L969 325.2L963.8 335.5L958.6 345.8L953.3 356L948 366.2L942.7 376.5L937.5 386.8L932.5 397L927.6 407.2L923 417.5L918.4 427.8L913.9 438L909.5 448.2L905.1 458.5L900.8 468.8L896.6 479L892.5 489.2L888.4 499.5" stroke="#00bdff" stroke-width="1.0" fill="none" stroke-linejoin="round" />
<path d="M1210.4 89.5L1205.1 90.3L1196.3 91.1L1188.3 92L1182.1 92.8L1172.5 93.6L1165.4 94.4L1156.2 95.2L1149.1 96.1L1140.9 96.9L1129.1 97.7L1123.1 98.5L1114 99.3L1109 100.2L1104.4 101L1100.1 101.8L1097.5 102.6L1095.5 103.4L1094 104.3L1090.5 105.1L1088.9 105.9L1085.8 106.7L1082.1 107.5L1079.9 108.4L1079.6 109.2L1076.4 110L1074.5 110.8L1072.4 111.6L1070.1 112.5L1068.9 113.3L1068.6 114.1L1065.8 117.2L1061 120.2L1060.8 123.3L1057.8 126.4L1056.8 129.5L1055.1 132.6L1053.9 135.6L1052.8 138.7L1051.6 141.8L1050.6 144.8L1049.1 147.9L1048.2 151L1048.1 154.1L1046.5 157.2L1045.7 160.2L1044.9 163.3L1043.4 166.4L1042.6 169.4L1041.9 172.5L1040.6 175.6L1040.2 178.7L1038.8 181.8L1038 184.8L1037.1 187.9L1035.6 191L1035.6 192L1030.9 202.2L1025.6 212.5L1019.9 222.8L1013.9 233L1008.4 243.2L1003.1 253.5L997.7 263.8L992.5 274L987.3 284.2L982 294.5L976.9 304.8L971.8 315L966.8 325.2L961.8 335.5L956.8 345.8L951.7 356L946.6 366.2L941.5 376.5L936.4 386.8L931.5 397L926.8 407.2L922.1 417.5L917.5 427.8L913 438L908.5 448.2L904.1 458.5L899.8 468.8L895.5 479L891.2 489.2L887.1 499.5" stroke="#00b3ff" stroke-width="1.0" fill="none" stroke-linejoin="round" />
<path d="M1221.6 89.5L1217.1 90.3L1212.4 91.1L1205.2 92L1195.2 92.8L1185.8 93.6L1178.9 94.4L1173.4 95.2L1161.2 96.1L1146.8 96.9L1135 97.7L1126.7 98.5L1123 99.3L1117 100.2L1114.4 101L1111.1 101.8L1111.5 102.6L1109.2 103.4L1109.3 104.3L1109.6 105.1L1106.9 105.9L1105.9 106.7L1106.8 107.5L1105.2 108.4L1103.5 109.2L1100.9 110L1100.5 110.8L1099.1 111.6L1099 112.5L1098.7 113.3L1097.9 114.1L1096.4 117.2L1091.1 120.2L1082.5 123.3L1077.6 126.4L1072.2 129.5L1069.8 132.6L1068.3 135.6L1065.3 138.7L1062.9 141.8L1060.7 144.8L1059.1 147.9L1057.6 151L1056 154.1L1053.8 157.2L1053.6 160.2L1052.7 163.3L1051.8 166.4L1051.4 169.4L1049.8 172.5L1048.8 175.6L1048.3 178.7L1047.1 181.8L1046.9 184.8L1045.9 187.9L1045.1 191L1044.8 192L1039.7 202.2L1034.6 212.5L1028.2 222.8L1021.9 233L1015.6 243.2L1009.9 253.5L1004.4 263.8L998.7 274L993.2 284.2L987.7 294.5L982.2 304.8L976.7 315L971.4 325.2L965.9 335.5L960.6 345.8L955 356L949.5 366.2L943.9 376.5L938.6 386.8L933.4 397L928.6 407.2L923.8 417.5L919.3 427.8L914.8 438L910.4 448.2L906.1 458.5L901.9 468.8L897.8 479L893.8 489.2L889.9 499.5" stroke="#00aaff" stroke-width="1.0" fill="none" stroke-linejoin="round" />
<path d="M1230.6 89.5L1225.3 90.3L1222.1 91.1L1217.4 92L1206.7 92.8L1196 93.6L1184.5 94.4L1179.2 95.2L1170.8 96.1L1160.8 96.9L1147.3 97.7L1134 98.5L1128.1 99.3L1121 100.2L1114.5 101L1109.5 101.8L1107.5 102.6L1103.3 103.4L1099.7 104.3L1097.9 105.1L1095.1 105.9L1094.3 106.7L1090.3 107.5L1090.1 108.4L1086.6 109.2L1085.5 110L1083.4 110.8L1083.3 111.6L1082.8 112.5L1080.8 113.3L1079.4 114.1L1075.8 117.2L1073.1 120.2L1069.3 123.3L1066.3 126.4L1064.6 129.5L1060.6 132.6L1057.9 135.6L1054.6 138.7L1053.3 141.8L1051.9 144.8L1051 147.9L1049.4 151L1048.1 154.1L1046.4 157.2L1044.6 160.2L1043.4 163.3L1042.8 166.4L1041.4 169.4L1039.9 172.5L1038.5 175.6L1037.6 178.7L1036.3 181.8L1034.8 184.8L1033.8 187.9L1032.5 191L1031.4 192L1026.7 202.2L1021.5 212.5L1015.8 222.8L1010.5 233L1005 243.2L999.7 253.5L994.5 263.8L989.4 274L984.2 284.2L979.2 294.5L974.1 304.8L969.3 315L964.3 325.2L959.4 335.5L954.6 345.8L949.6 356L944.6 366.2L939.6 376.5L934.7 386.8L929.9 397L925.2 407.2L920.5 417.5L915.9 427.8L911.4 438L906.9 448.2L902.4 458.5L897.9 468.8L893.5 479L889.1 489.2L884.8 499.5" stroke="#00a0ff" stroke-width="1.0" fill="none" stroke-linejoin="round" />
<path d="M1228.6 89.5L1223.2 90.3L1217 91.1L1206.7 92L1198 92.8L1192.6 93.6L1188.6 94.4L1180.5 95.2L1169 96.1L1156.4 96.9L1146.9 97.7L1136.9 98.5L1127.1 99.3L1119.2 100.2L1111.7 101L1108.7 101.8L1104.5 102.6L1100.1 103.4L1095.7 104.3L1092.7 105.1L1090.8 105.9L1088.3 106.7L1085.2 107.5L1082.2 108.4L1080.4 109.2L1078.4 110L1076.3 110.8L1075.6 111.6L1073.5 112.5L1071.5 113.3L1068.4 114.1L1063.6 117.2L1061.9 120.2L1060 123.3L1059.7 126.4L1058.1 129.5L1055.9 132.6L1053.6 135.6L1053.6 138.7L1052.7 141.8L1051.5 144.8L1051.1 147.9L1050.3 151L1049.8 154.1L1048.3 157.2L1047.5 160.2L1046.5 163.3L1045.7 166.4L1044.8 169.4L1044.5 172.5L1043.9 175.6L1043.1 178.7L1041.8 181.8L1041 184.8L1040.3 187.9L1039.6 191L1038.8 192L1034.4 202.2L1029.3 212.5L1023.4 222.8L1017.6 233L1011.8 243.2L1006.3 253.5L1000.8 263.8L995.2 274L989.9 284.2L984.5 294.5L979.3 304.8L974 315L968.9 325.2L963.7 335.5L958.5 345.8L953.2 356L947.9 366.2L942.6 376.5L937.4 386.8L932.4 397L927.6 407.2L922.9 417.5L918.3 427.8L913.8 438L909.4 448.2L905 458.5L900.7 468.8L896.5 479L892.4 489.2L888.3 499.5" stroke="#0096ff" stroke-width="1.0" fill="none" stroke-linejoin="round" />
<path d="M1263.1 89.5L1247.6 90.3L1233.6 91.1L1221.3 92L1211.4 92.8L1201.1 93.6L1188 94.4L1174.5 95.2L1157.6 96.1L1144.4 96.9L1132.8 97.7L1122.1 98.5L1115.7 99.3L1109.2 100.2L1105.2 101L1101.8 101.8L1099.1 102.6L1095.3 103.4L1092.4 104.3L1088.1 105.1L1083.4 105.9L1080.5 106.7L1080.8 107.5L1078.1 108.4L1075.7 109.2L1073.1 110L1072.1 110.8L1070.3 111.6L1068.6 112.5L1066.1 113.3L1064.3 114.1L1061.4 117.2L1059.2 120.2L1056.8 123.3L1055.5 126.4L1052.1 129.5L1051.2 132.6L1049.3 135.6L1049.5 138.7L1047.6 141.8L1046 144.8L1044.3 147.9L1044.3 151L1043.2 154.1L1043 157.2L1041.5 160.2L1040.9 163.3L1039.8 166.4L1039.3 169.4L1038.3 172.5L1037.6 175.6L1036.3 178.7L1035.9 181.8L1034.6 184.8L1033.8 187.9L1032.4 191L1032.1 192L1027.9 202.2L1022.7 212.5L1017.1 222.8L1011.2 233L1005.8 243.2L1000.5 253.5L995.3 263.8L990.1 274L984.9 284.2L979.9 294.5L974.9 304.8L969.9 315L965.1 325.2L960.2 335.5L955.2 345.8L950.2 356L945.3 366.2L940.3 376.5L935.4 386.8L930.6 397L925.8 407.2L921.2 417.5L916.6 427.8L912.1 438L907.6 448.2L903.1 458.5L898.7 468.8L894.3 479L890 489.2L885.7 499.5" stroke="#008cff" stroke-width="1.0" fill="none" stroke-linejoin="round" />
<path d="M1266 89.5L1253.7 90.3L1240.9 91.1L1227.4 92L1212.6 92.8L1203.4 93.6L1191.5 94.4L1182.3 95.2L1166.4 96.1L1151.5 96.9L1137.6 97.7L1127.4 98.5L1121.4 99.3L1115.8 100.2L1114 101L1109.1 101.8L1105.5 102.6L1103.1 103.4L1103.6 104.3L1102.8 105.1L1100.1 105.9L1098.6 106.7L1093.8 107.5L1093.1 108.4L1091.1 109.2L1088.5 110L1086.6 110.8L1085.9 111.6L1084.4 112.5L1083.2 113.3L1084.5 114.1L1081.2 117.2L1078.7 120.2L1075 123.3L1071.5 126.4L1066.9 129.5L1064 132.6L1060.4 135.6L1057 138.7L1055.4 141.8L1052.9 144.8L1051.6 147.9L1050.3 151L1049.6 154.1L1048.2 157.2L1045.7 160.2L1045.3 163.3L1043.7 166.4L1042.5 169.4L1041.4 172.5L1039.8 175.6L1039 178.7L1037.2 181.8L1036 184.8L1034.4 187.9L1033.3 191L1032.8 192L1027.7 202.2L1022.4 212.5L1016.8 222.8L1011.2 233L1005.6 243.2L1000.4 253.5L995.1 263.8L989.8 274L984.8 284.2L979.7 294.5L974.7 304.8L969.9 315L965 325.2L960 335.5L955.1 345.8L950.2 356L945.2 366.2L940.2 376.5L935.3 386.8L930.4 397L925.7 407.2L921.1 417.5L916.5 427.8L911.9 438L907.4 448.2L903 458.5L898.5 468.8L894.1 479L889.8 489.2L885.5 499.5" stroke="#0082ff" stroke-width="1.0" fill="none" stroke-linejoin="round" />
<path d="M1263.4 89.5L1253.3 90.3L1243.6 91.1L1230.3 92L1220.2 92.8L1209.6 93.6L1197.3 94.4L1183.3 95.2L1171.2 96.1L1158.7 96.9L1145.6 97.7L1135.8 98.5L1128 99.3L1119.9 100.2L1115 101L1110.3 101.8L1107.8 102.6L1104.7 103.4L1101.7 104.3L1098.9 105.1L1096.7 105.9L1095 106.7L1091.7 107.5L1088.4 108.4L1085.3 109.2L1085.7 110L1082.7 110.8L1080.5 111.6L1079 112.5L1076.8 113.3L1075.3 114.1L1070.8 117.2L1068.7 120.2L1066.5 123.3L1064.2 126.4L1063.1 129.5L1058.9 132.6L1056.8 135.6L1054.9 138.7L1053.9 141.8L1052.3 144.8L1051 147.9L1049.2 151L1048 154.1L1047.1 157.2L1046.3 160.2L1045.6 163.3L1044.9 166.4L1043.6 169.4L1042.6 172.5L1041 175.6L1040 178.7L1039 181.8L1037.7 184.8L1036.5 187.9L1035.7 191L1035.1 192L1030.3 202.2L1024.8 212.5L1019 222.8L1013.2 233L1007.6 243.2L1002.2 253.5L997.1 263.8L991.8 274L986.7 284.2L981.4 294.5L976.3 304.8L971.4 315L966.3 325.2L961.4 335.5L956.4 345.8L951.4 356L946.3 366.2L941.2 376.5L936.2 386.8L931.4 397L926.6 407.2L921.9 417.5L917.3 427.8L912.8 438L908.4 448.2L903.9 458.5L899.6 468.8L895.2 479L891 489.2L886.8 499.5" stroke="#0078ff" stroke-width="1.0" fill="none" stroke-linejoin="round" />
<path d="M1200.3 89.5L1198.3 90.3L1199.8 91.1L1195.5 92L1189.9 92.8L1182.5 93.6L1177 94.4L1172.2 95.2L1166.4 96.1L1161.8 96.9L1152.3 97.7L1143.1 98.5L1134.4 99.3L1125 100.2L1117.6 101L1111.3 101.8L1106.8 102.6L1103.1 103.4L1100.2 104.3L1097 105.1L1093.2 105.9L1092.1 106.7L1088.5 107.5L1084.3 108.4L1082.4 109.2L1078.7 110L1077.3 110.8L1074.9 111.6L1073.7 112.5L1070.7 113.3L1070.2 114.1L1063.6 117.2L1061.8 120.2L1060.9 123.3L1059.1 126.4L1057.1 129.5L1054.1 132.6L1052.5 135.6L1051.2 138.7L1050.8 141.8L1050 144.8L1048.2 147.9L1046.5 151L1045 154.1L1044.7 157.2L1043.6 160.2L1042.8 163.3L1041.6 166.4L1040.4 169.4L1039.3 172.5L1037.5 175.6L1037.2 178.7L1035.8 181.8L1034.9 184.8L1033 187.9L1032.1 191L1031.7 192L1026.7 202.2L1021.8 212.5L1016.5 222.8L1010.7 233L1005.5 243.2L1000.3 253.5L995 263.8L989.8 274L984.6 284.2L979.5 294.5L974.5 304.8L969.6 315L964.7 325.2L959.8 335.5L954.9 345.8L949.9 356L945 366.2L940 376.5L935.1 386.8L930.2 397L925.5 407.2L920.9 417.5L916.3 427.8L911.8 438L907.2 448.2L902.8 458.5L898.3 468.8L893.9 479L889.6 489.2L885.3 499.5" stroke="#006eff" stroke-width="1.0" fill="none" stroke-linejoin="round" />
<path d="M1196.1 89.5L1195.2 90.3L1195.6 91.1L1195.4 92L1188.2 92.8L1183.8 93.6L1176.3 94.4L1172.8 95.2L1173.6 96.1L1166.8 96.9L1156 97.7L1147.1 98.5L1138.9 99.3L1129.8 100.2L1124.7 101L1120 101.8L1116.7 102.6L1112.1 103.4L1110.7 104.3L1110.3 105.1L1107.1 105.9L1106 106.7L1102.2 107.5L1100 108.4L1096.4 109.2L1093.9 110L1091.6 110.8L1090.4 111.6L1087.2 112.5L1086.3 113.3L1084.7 114.1L1081.2 117.2L1078 120.2L1075.2 123.3L1070.3 126.4L1067.5 129.5L1063.5 132.6L1060.7 135.6L1057.8 138.7L1056.9 141.8L1055.3 144.8L1053.1 147.9L1050.9 151L1049.6 154.1L1048.5 157.2L1047.2 160.2L1045.7 163.3L1044.6 166.4L1043.4 169.4L1042.2 172.5L1040.5 175.6L1038.9 178.7L1038.5 181.8L1037.4 184.8L1036 187.9L1034.3 191L1034.1 192L1028.8 202.2L1023.8 212.5L1017.8 222.8L1012 233L1006.4 243.2L1001 253.5L995.8 263.8L990.5 274L985.4 284.2L980.3 294.5L975.4 304.8L970.4 315L965.5 325.2L960.6 335.5L955.7 345.8L950.7 356L945.7 366.2L940.8 376.5L935.8 386.8L931 397L926.3 407.2L921.6 417.5L917 427.8L912.5 438L908 448.2L903.5 458.5L899.1 468.8L894.8 479L890.5 489.2L886.2 499.5" stroke="#0064ff" stroke-width="1.0" fill="none" stroke-linejoin="round" />
<path d="M1253.7 89.5L1245.5 90.3L1233.3 91.1L1218.9 92L1209 92.8L1199.9 93.6L1190.5 94.4L1177.9 95.2L1165.8 96.1L1155.1 96.9L1143.1 97.7L1134 98.5L1126.3 99.3L1116.8 100.2L1114.2 101L1111.5 101.8L1109.1 102.6L1105.1 103.4L1102.4 104.3L1100.4 105.1L1098.6 105.9L1095.1 106.7L1091.7 107.5L1089.5 108.4L1086.4 109.2L1084.7 110L1082.6 110.8L1081 111.6L1079.1 112.5L1079 113.3L1076 114.1L1073.5 117.2L1070.9 120.2L1069.1 123.3L1065.5 126.4L1063.4 129.5L1059.8 132.6L1057.7 135.6L1057.2 138.7L1055.7 141.8L1053.8 144.8L1052 147.9L1051.5 151L1049.6 154.1L1049 157.2L1047.3 160.2L1046.3 163.3L1045.8 166.4L1044.5 169.4L1043.4 172.5L1042.1 175.6L1041.5 178.7L1040.4 181.8L1039.6 184.8L1038.2 187.9L1037 191L1036.7 192L1032 202.2L1026.4 212.5L1020.7 222.8L1014.7 233L1009.1 243.2L1003.7 253.5L998.3 263.8L993 274L987.8 284.2L982.6 294.5L977.4 304.8L972.3 315L967.2 325.2L962.2 335.5L957.1 345.8L952 356L946.8 366.2L941.7 376.5L936.6 386.8L931.7 397L926.9 407.2L922.3 417.5L917.7 427.8L913.2 438L908.7 448.2L904.3 458.5L900 468.8L895.7 479L891.5 489.2L887.3 499.5" stroke="#005aff" stroke-width="1.0" fill="none" stroke-linejoin="round" />
<path d="M1255.8 89.5L1241.6 90.3L1230.1 91.1L1216.8 92L1203.8 92.8L1191.6 93.6L1179.4 94.4L1167 95.2L1152.1 96.1L1141.9 96.9L1129.3 97.7L1120.9 98.5L1115.5 99.3L1112.4 100.2L1110 101L1109.1 101.8L1108.3 102.6L1106.4 103.4L1107 104.3L1105.2 105.1L1103.9 105.9L1101.3 106.7L1100 107.5L1098.6 108.4L1098.2 109.2L1096.4 110L1094.1 110.8L1092.9 111.6L1092 112.5L1090.3 113.3L1090.2 114.1L1087.3 117.2L1083 120.2L1078.3 123.3L1074.5 126.4L1069.4 129.5L1064.8 132.6L1061.7 135.6L1060.7 138.7L1058.2 141.8L1055.8 144.8L1054.1 147.9L1052.2 151L1051.5 154.1L1050.1 157.2L1048.9 160.2L1047.3 163.3L1046.4 166.4L1044.6 169.4L1043.6 172.5L1042.7 175.6L1042.3 178.7L1040.2 181.8L1039.3 184.8L1038.3 187.9L1036.8 191L1036.6 192L1031.6 202.2L1026.3 212.5L1020.3 222.8L1014.5 233L1008.5 243.2L1003.4 253.5L997.8 263.8L992.5 274L987.3 284.2L982.1 294.5L977 304.8L972 315L966.9 325.2L961.9 335.5L956.8 345.8L951.8 356L946.6 366.2L941.5 376.5L936.5 386.8L931.6 397L926.8 407.2L922.2 417.5L917.6 427.8L913 438L908.6 448.2L904.2 458.5L899.8 468.8L895.5 479L891.3 489.2L887.1 499.5" stroke="#0050ff" stroke-width="1.0" fill="none" stroke-linejoin="round" />
<path d="M1200.3 89.5L1196.1 90.3L1192.2 91.1L1184.3 92L1181.5 92.8L1182.6 93.6L1180.3 94.4L1170.9 95.2L1159.3 96.1L1146.7 96.9L1139.5 97.7L1132.3 98.5L1124.1 99.3L1119.5 100.2L1115 101L1110.9 101.8L1109.9 102.6L1106.3 103.4L1104.7 104.3L1102.4 105.1L1100.3 105.9L1099 106.7L1097 107.5L1095.4 108.4L1094.4 109.2L1091.9 110L1089.3 110.8L1089.2 111.6L1087 112.5L1088.9 113.3L1086.5 114.1L1081.6 117.2L1076.5 120.2L1071.6 123.3L1068.9 126.4L1065.8 129.5L1063.3 132.6L1060.5 135.6L1058.2 138.7L1057 141.8L1053.8 144.8L1052.5 147.9L1050.3 151L1049.3 154.1L1048.5 157.2L1047.1 160.2L1045.8 163.3L1044.3 166.4L1043.5 169.4L1042.2 172.5L1040.2 175.6L1039.1 178.7L1038.5 181.8L1037.1 184.8L1035.9 187.9L1034.6 191L1034 192L1029.2 202.2L1023.7 212.5L1017.9 222.8L1012 233L1006.5 243.2L1001.2 253.5L995.9 263.8L990.7 274L985.6 284.2L980.5 294.5L975.5 304.8L970.5 315L965.7 325.2L960.7 335.5L955.8 345.8L950.8 356L945.8 366.2L940.8 376.5L935.9 386.8L931.1 397L926.3 407.2L921.7 417.5L917.1 427.8L912.5 438L908 448.2L903.6 458.5L899.2 468.8L894.9 479L890.6 489.2L886.3 499.5" stroke="#0047ff" stroke-width="1.0" fill="none" stroke-linejoin="round" />
<path d="M1265.3 89.5L1253.6 90.3L1242.8 91.1L1227.3 92L1217.4 92.8L1207.6 93.6L1198.5 94.4L1187.5 95.2L1173.6 96.1L1160.9 96.9L1148.8 97.7L1136.8 98.5L1128.5 99.3L1120 100.2L1115.1 101L1110.6 101.8L1106.4 102.6L1101.1 103.4L1099.6 104.3L1096.6 105.1L1092.3 105.9L1091.2 106.7L1088.2 107.5L1085.1 108.4L1083.4 109.2L1081.3 110L1079.9 110.8L1078.7 111.6L1077.7 112.5L1076.6 113.3L1074.5 114.1L1069.7 117.2L1066 120.2L1063.5 123.3L1060.7 126.4L1057.7 129.5L1056.6 132.6L1056.1 135.6L1054.5 138.7L1052 141.8L1052.3 144.8L1049.5 147.9L1048.8 151L1047.2 154.1L1046.5 157.2L1044.2 160.2L1043.9 163.3L1042.9 166.4L1042.8 169.4L1040.8 172.5L1039.9 175.6L1038.7 178.7L1037.5 181.8L1036.8 184.8L1035.2 187.9L1034.5 191L1033.8 192L1028.8 202.2L1023.5 212.5L1018.1 222.8L1012.3 233L1006.8 243.2L1001.5 253.5L996.2 263.8L990.9 274L985.8 284.2L980.7 294.5L975.6 304.8L970.7 315L965.8 325.2L960.8 335.5L955.9 345.8L950.9 356L945.9 366.2L940.9 376.5L935.9 386.8L931.1 397L926.4 407.2L921.7 417.5L917.1 427.8L912.6 438L908.1 448.2L903.7 458.5L899.3 468.8L894.9 479L890.6 489.2L886.4 499.5" stroke="#003dff" stroke-width="1.0" fill="none" stroke-linejoin="round" />
<path d="M1248.3 89.5L1236.9 90.3L1229.2 91.1L1224.3 92L1219.2 92.8L1207.9 93.6L1197.8 94.4L1186.4 95.2L1178.3 96.1L1166.2 96.9L1154 97.7L1140.5 98.5L1132.3 99.3L1127 100.2L1121.3 101L1115.8 101.8L1112 102.6L1108 103.4L1105.7 104.3L1103.7 105.1L1100.6 105.9L1096.1 106.7L1092 107.5L1091.1 108.4L1090.4 109.2L1087.3 110L1085.1 110.8L1083.2 111.6L1081.8 112.5L1081.7 113.3L1079.6 114.1L1076 117.2L1072.5 120.2L1069.8 123.3L1066.9 126.4L1063.5 129.5L1058.9 132.6L1056.7 135.6L1055.3 138.7L1054.9 141.8L1054.1 144.8L1052.9 147.9L1050.6 151L1048.6 154.1L1046.7 157.2L1046.1 160.2L1045.4 163.3L1043.9 166.4L1042.9 169.4L1042 172.5L1040.4 175.6L1039.5 178.7L1038.5 181.8L1037.3 184.8L1036.4 187.9L1034.7 191L1034.1 192L1029.3 202.2L1024 212.5L1018.3 222.8L1012.5 233L1006.7 243.2L1001.3 253.5L996.1 263.8L991 274L985.8 284.2L980.7 294.5L975.7 304.8L970.7 315L965.8 325.2L960.8 335.5L956 345.8L951 356L945.9 366.2L940.9 376.5L936 386.8L931.1 397L926.4 407.2L921.7 417.5L917.1 427.8L912.6 438L908.1 448.2L903.7 458.5L899.3 468.8L894.9 479L890.7 489.2L886.4 499.5" stroke="#0033ff" stroke-width="1.0" fill="none" stroke-linejoin="round" />
<path d="M1204.3 89.5L1192.7 90.3L1180.8 91.1L1176.3 92L1172.7 92.8L1170.1 93.6L1163.4 94.4L1151.1 95.2L1144.6 96.1L1137.2 96.9L1131 97.7L1122.2 98.5L1116.2 99.3L1110.2 100.2L1107.3 101L1104.4 101.8L1098.3 102.6L1095.2 103.4L1091.8 104.3L1089.6 105.1L1087 105.9L1083.2 106.7L1081 107.5L1077.9 108.4L1076.6 109.2L1072.9 110L1070.8 110.8L1069.4 111.6L1069.1 112.5L1067 113.3L1064.9 114.1L1060.3 117.2L1057.5 120.2L1055.8 123.3L1055.7 126.4L1054 129.5L1051.8 132.6L1050 135.6L1048.9 138.7L1047.1 141.8L1046.4 144.8L1044.7 147.9L1044.4 151L1044.4 154.1L1043.2 157.2L1041.9 160.2L1040.3 163.3L1039.7 166.4L1038.5 169.4L1038.4 172.5L1036.7 175.6L1035.8 178.7L1034.9 181.8L1034 184.8L1032.8 187.9L1031.5 191L1031.3 192L1026.8 202.2L1022.1 212.5L1016.4 222.8L1010.7 233L1005.4 243.2L1000.1 253.5L994.9 263.8L989.8 274L984.6 284.2L979.4 294.5L974.5 304.8L969.5 315L964.6 325.2L959.8 335.5L954.8 345.8L949.9 356L944.9 366.2L939.9 376.5L935 386.8L930.2 397L925.4 407.2L920.8 417.5L916.2 427.8L911.7 438L907.2 448.2L902.7 458.5L898.2 468.8L893.8 479L889.5 489.2L885.1 499.5" stroke="#0029ff" stroke-width="1.0" fill="none" stroke-linejoin="round" />
<path d="M1234.2 89.5L1226.7 90.3L1219.2 91.1L1215 92L1207.9 92.8L1202 93.6L1195 94.4L1183 95.2L1171.2 96.1L1160.2 96.9L1150.3 97.7L1142.1 98.5L1134.6 99.3L1124.4 100.2L1117.1 101L1111.9 101.8L1106.4 102.6L1103.6 103.4L1099.9 104.3L1095.9 105.1L1094.8 105.9L1091.6 106.7L1088.4 107.5L1084.2 108.4L1083.6 109.2L1081.3 110L1079.5 110.8L1076.3 111.6L1074.4 112.5L1073.3 113.3L1072 114.1L1068 117.2L1064.4 120.2L1062.7 123.3L1060.9 126.4L1058.2 129.5L1056.5 132.6L1054.2 135.6L1053.4 138.7L1051.5 141.8L1050.8 144.8L1050.4 147.9L1048.9 151L1048 154.1L1045.7 157.2L1044.8 160.2L1044.9 163.3L1042.6 166.4L1042.7 169.4L1041.6 172.5L1040.3 175.6L1039.4 178.7L1037.9 181.8L1036.9 184.8L1035.8 187.9L1034.7 191L1034.1 192L1029.9 202.2L1024.4 212.5L1018.5 222.8L1012.7 233L1007.3 243.2L1001.9 253.5L996.6 263.8L991.4 274L986.3 284.2L981 294.5L976 304.8L971 315L966 325.2L961.1 335.5L956.1 345.8L951.1 356L946.1 366.2L941.1 376.5L936.1 386.8L931.2 397L926.5 407.2L921.8 417.5L917.2 427.8L912.7 438L908.2 448.2L903.8 458.5L899.4 468.8L895.1 479L890.8 489.2L886.6 499.5" stroke="#001fff" stroke-width="1.0" fill="none" stroke-linejoin="round" />
<path d="M1249.5 89.5L1242.3 90.3L1231.6 91.1L1219.3 92L1212.2 92.8L1205.6 93.6L1199.3 94.4L1188.2 95.2L1173.4 96.1L1162.6 96.9L1152.2 97.7L1140 98.5L1132.8 99.3L1125.1 100.2L1117.7 101L1114.4 101.8L1111.1 102.6L1104.8 103.4L1103.9 104.3L1100.4 105.1L1097.9 105.9L1095 106.7L1088.5 107.5L1086.7 108.4L1084.3 109.2L1082.6 110L1081.1 110.8L1077.4 111.6L1077.5 112.5L1076.4 113.3L1073 114.1L1068.7 117.2L1065.4 120.2L1061.9 123.3L1059.7 126.4L1057.5 129.5L1056.9 132.6L1056.4 135.6L1054.6 138.7L1053.9 141.8L1052.7 144.8L1051.7 147.9L1050.5 151L1049.2 154.1L1048.1 157.2L1048.2 160.2L1046.9 163.3L1046.5 166.4L1045 169.4L1044.1 172.5L1044.1 175.6L1042.9 178.7L1042.5 181.8L1041.2 184.8L1040 187.9L1039.5 191L1038.8 192L1034.3 202.2L1028.9 212.5L1023.2 222.8L1017.3 233L1011.5 243.2L1005.9 253.5L1000.5 263.8L995.1 274L989.6 284.2L984.3 294.5L979 304.8L973.8 315L968.7 325.2L963.5 335.5L958.3 345.8L953.1 356L947.8 366.2L942.5 376.5L937.3 386.8L932.3 397L927.5 407.2L922.8 417.5L918.2 427.8L913.7 438L909.3 448.2L905 458.5L900.7 468.8L896.4 479L892.3 489.2L888.2 499.5" stroke="#0015ff" stroke-width="1.0" fill="none" stroke-linejoin="round" />
<path d="M1200.7 89.5L1196.3 90.3L1190.5 91.1L1180.5 92L1174.5 92.8L1170.9 93.6L1166.6 94.4L1161.3 95.2L1149.8 96.1L1139.9 96.9L1130.4 97.7L1123 98.5L1116.3 99.3L1114.1 100.2L1109.9 101L1103.7 101.8L1100.4 102.6L1100.7 103.4L1098.7 104.3L1095.3 105.1L1094.2 105.9L1090.4 106.7L1089.3 107.5L1087.4 108.4L1084.6 109.2L1084.4 110L1082 110.8L1082.4 111.6L1079.5 112.5L1079.6 113.3L1078.6 114.1L1074.8 117.2L1070.4 120.2L1066.8 123.3L1064.4 126.4L1061.3 129.5L1060.2 132.6L1059.6 135.6L1056.9 138.7L1055.5 141.8L1053.7 144.8L1052.5 147.9L1051.8 151L1051.2 154.1L1050.9 157.2L1048.9 160.2L1047.7 163.3L1046.7 166.4L1046.3 169.4L1045 172.5L1044.2 175.6L1043.5 178.7L1042.6 181.8L1041 184.8L1040.5 187.9L1039 191L1039.2 192L1034.5 202.2L1029.1 212.5L1023.1 222.8L1016.9 233L1011.1 243.2L1005.7 253.5L1000.3 263.8L994.9 274L989.5 284.2L984.1 294.5L978.9 304.8L973.7 315L968.6 325.2L963.4 335.5L958.2 345.8L953 356L947.7 366.2L942.4 376.5L937.3 386.8L932.3 397L927.5 407.2L922.8 417.5L918.2 427.8L913.7 438L909.3 448.2L904.9 458.5L900.6 468.8L896.4 479L892.2 489.2L888.1 499.5" stroke="#000bff" stroke-width="1.0" fill="none" stroke-linejoin="round" />
<path d="M1212.5 89.5L1210.6 90.3L1209.3 91.1L1202.4 92L1198.8 92.8L1191.6 93.6L1185.8 94.4L1179.3 95.2L1166.8 96.1L1156 96.9L1149.2 97.7L1138.7 98.5L1132.4 99.3L1126.6 100.2L1122 101L1114.6 101.8L1107 102.6L1104.3 103.4L1098.7 104.3L1095 105.1L1093.2 105.9L1089.5 106.7L1085.3 107.5L1083.2 108.4L1079.4 109.2L1076 110L1072.7 110.8L1070.6 111.6L1068.4 112.5L1068.2 113.3L1066.1 114.1L1062.8 117.2L1060.1 120.2L1057.9 123.3L1054.9 126.4L1053.3 129.5L1054.3 132.6L1053.1 135.6L1051.9 138.7L1050.1 141.8L1048.8 144.8L1048.4 147.9L1048.4 151L1047.5 154.1L1047.1 157.2L1046.5 160.2L1044.7 163.3L1044 166.4L1043.7 169.4L1043.3 172.5L1042.9 175.6L1041.6 178.7L1040.5 181.8L1039.8 184.8L1039.5 187.9L1038.9 191L1037.9 192L1034 202.2L1028.8 212.5L1022.9 222.8L1016.4 233L1010.9 243.2L1005.4 253.5L1000 263.8L994.6 274L989.3 284.2L983.9 294.5L978.8 304.8L973.5 315L968.3 325.2L963.2 335.5L958.1 345.8L952.8 356L947.6 366.2L942.3 376.5L937.2 386.8L932.2 397L927.4 407.2L922.7 417.5L918.1 427.8L913.6 438L909.2 448.2L904.8 458.5L900.5 468.8L896.3 479L892.1 489.2L888 499.5" stroke="#0001ff" stroke-width="1.0" fill="none" stroke-linejoin="round" />
<path d="M1259.3 89.5L1249.9 90.3L1241.4 91.1L1232 92L1221.5 92.8L1210.6 93.6L1201.1 94.4L1190.3 95.2L1178.1 96.1L1162.4 96.9L1151.3 97.7L1143 98.5L1134 99.3L1126 100.2L1118.1 101L1111.6 101.8L1107.4 102.6L1104.3 103.4L1100.5 104.3L1096.8 105.1L1094.1 105.9L1091.5 106.7L1089.9 107.5L1085.8 108.4L1083.8 109.2L1081.3 110L1078.4 110.8L1077.8 111.6L1076.6 112.5L1073.7 113.3L1071.9 114.1L1067 117.2L1063 120.2L1059.2 123.3L1058.3 126.4L1056 129.5L1056.1 132.6L1054.1 135.6L1053.1 138.7L1051.8 141.8L1050.1 144.8L1048.8 147.9L1047.7 151L1046.7 154.1L1045 157.2L1044.1 160.2L1042.7 163.3L1041.9 166.4L1040.7 169.4L1039.9 172.5L1038.9 175.6L1037.7 178.7L1036.7 181.8L1034.9 184.8L1033.8 187.9L1032.7 191L1032.2 192L1027.7 202.2L1022.1 212.5L1016.8 222.8L1011.4 233L1005.8 243.2L1000.5 253.5L995.3 263.8L990.1 274L984.9 284.2L979.9 294.5L974.9 304.8L970 315L965 325.2L960.2 335.5L955.3 345.8L950.3 356L945.3 366.2L940.3 376.5L935.4 386.8L930.6 397L925.8 407.2L921.2 417.5L916.6 427.8L912.1 438L907.6 448.2L903.1 458.5L898.7 468.8L894.3 479L890 489.2L885.7 499.5" stroke="#0000f6" stroke-width="1.0" fill="none" stroke-linejoin="round" />
<path d="M1236.9 89.5L1233.9 90.3L1226 91.1L1220.5 92L1211.3 92.8L1203.6 93.6L1194.7 94.4L1186.1 95.2L1174.7 96.1L1169 96.9L1159.6 97.7L1148.3 98.5L1139.8 99.3L1131.8 100.2L1123.7 101L1116.2 101.8L1108.7 102.6L1102.9 103.4L1097.4 104.3L1092.7 105.1L1089.8 105.9L1085.6 106.7L1083.7 107.5L1081.1 108.4L1078.4 109.2L1076.2 110L1073.3 110.8L1071.7 111.6L1069.8 112.5L1068.3 113.3L1067.4 114.1L1061.1 117.2L1060 120.2L1059.7 123.3L1058.9 126.4L1055.3 129.5L1051.7 132.6L1050.4 135.6L1050.6 138.7L1049.1 141.8L1048.3 144.8L1047.4 147.9L1046.7 151L1045.9 154.1L1044.7 157.2L1042.8 160.2L1041.4 163.3L1040.4 166.4L1040 169.4L1039.3 172.5L1038 175.6L1037 178.7L1035.7 181.8L1034.6 184.8L1033.3 187.9L1032.3 191L1032 192L1027.6 202.2L1022.3 212.5L1016.8 222.8L1011.3 233L1005.6 243.2L1000.6 253.5L995.3 263.8L990.1 274L985 284.2L979.8 294.5L974.8 304.8L969.9 315L965 325.2L960.1 335.5L955.2 345.8L950.2 356L945.3 366.2L940.3 376.5L935.3 386.8L930.5 397L925.8 407.2L921.1 417.5L916.6 427.8L912 438L907.5 448.2L903 458.5L898.6 468.8L894.2 479L889.9 489.2L885.6 499.5" stroke="#0000ec" stroke-width="1.0" fill="none" stroke-linejoin="round" />
<path d="M1263.9 89.5L1253.1 90.3L1243.4 91.1L1229.8 92L1221.9 92.8L1210 93.6L1201.7 94.4L1187.4 95.2L1172.9 96.1L1159.9 96.9L1148.8 97.7L1137.9 98.5L1127.5 99.3L1118.1 100.2L1112.4 101L1105.6 101.8L1103.2 102.6L1099.5 103.4L1097.2 104.3L1095 105.1L1093.4 105.9L1089.4 106.7L1087.9 107.5L1086.1 108.4L1085.5 109.2L1083.9 110L1081.2 110.8L1078.1 111.6L1077.4 112.5L1075.2 113.3L1072 114.1L1066.7 117.2L1063.3 120.2L1061 123.3L1059.3 126.4L1058.9 129.5L1056.7 132.6L1055.2 135.6L1053.3 138.7L1052.9 141.8L1051.8 144.8L1050.6 147.9L1049.8 151L1048.3 154.1L1048.2 157.2L1046.8 160.2L1046.2 163.3L1044.2 166.4L1044.2 169.4L1043.3 172.5L1042.3 175.6L1041.9 178.7L1040.1 181.8L1039.1 184.8L1038 187.9L1037.6 191L1037.1 192L1032.2 202.2L1027.6 212.5L1021.2 222.8L1015.5 233L1009.8 243.2L1004.3 253.5L999 263.8L993.7 274L988.2 284.2L983 294.5L977.9 304.8L972.8 315L967.6 325.2L962.6 335.5L957.5 345.8L952.3 356L947.1 366.2L941.9 376.5L936.8 386.8L931.9 397L927.1 407.2L922.4 417.5L917.8 427.8L913.4 438L908.9 448.2L904.5 458.5L900.2 468.8L895.9 479L891.7 489.2L887.6 499.5" stroke="#0000e3" stroke-width="1.0" fill="none" stroke-linejoin="round" />
<path d="M1251.5 89.5L1242.3 90.3L1229.7 91.1L1220.2 92L1211.2 92.8L1201 93.6L1191.1 94.4L1177.5 95.2L1163.9 96.1L1150.5 96.9L1139.9 97.7L1129.8 98.5L1124.2 99.3L1115.6 100.2L1111.1 101L1106.1 101.8L1102.4 102.6L1097.1 103.4L1092.5 104.3L1091.3 105.1L1086.9 105.9L1083 106.7L1080.3 107.5L1076.4 108.4L1076 109.2L1074.3 110L1071.6 110.8L1070.8 111.6L1069.5 112.5L1069.1 113.3L1067.2 114.1L1061.3 117.2L1056.9 120.2L1055 123.3L1054.6 126.4L1053.3 129.5L1051.8 132.6L1050.8 135.6L1050.7 138.7L1050.2 141.8L1048.9 144.8L1048 147.9L1047.5 151L1046 154.1L1045.5 157.2L1044.7 160.2L1044.2 163.3L1043.9 166.4L1043 169.4L1041.6 172.5L1041.1 175.6L1040 178.7L1039.5 181.8L1038.9 184.8L1037.7 187.9L1037.1 191L1037.3 192L1032.4 202.2L1027.3 212.5L1021.3 222.8L1015.4 233L1009.5 243.2L1004.3 253.5L998.9 263.8L993.5 274L988.2 284.2L983.1 294.5L977.8 304.8L972.7 315L967.6 325.2L962.5 335.5L957.4 345.8L952.3 356L947.1 366.2L941.9 376.5L936.8 386.8L931.9 397L927.1 407.2L922.4 417.5L917.8 427.8L913.3 438L908.9 448.2L904.5 458.5L900.1 468.8L895.9 479L891.7 489.2L887.6 499.5" stroke="#0000d9" stroke-width="1.0" fill="none" stroke-linejoin="round" />
<path d="M1254.5 89.5L1240.1 90.3L1224.6 91.1L1214.5 92L1208.4 92.8L1203.3 93.6L1189.6 94.4L1171.5 95.2L1158.8 96.1L1146.8 96.9L1135.4 97.7L1126.7 98.5L1117.8 99.3L1113.7 100.2L1110.3 101L1105.4 101.8L1097.3 102.6L1093.9 103.4L1093.7 104.3L1090.8 105.1L1086.7 105.9L1085.1 106.7L1082 107.5L1079.1 108.4L1077.5 109.2L1075 110L1073.6 110.8L1072.1 111.6L1070.9 112.5L1068.8 113.3L1066 114.1L1061.8 117.2L1059.8 120.2L1059.4 123.3L1057.2 126.4L1054.1 129.5L1052.4 132.6L1051 135.6L1051.3 138.7L1050.6 141.8L1049.6 144.8L1048.4 147.9L1046.8 151L1046.4 154.1L1046.6 157.2L1045.8 160.2L1043.8 163.3L1042.3 166.4L1042.3 169.4L1041.3 172.5L1040.4 175.6L1039.6 178.7L1038.2 181.8L1037.6 184.8L1036.4 187.9L1035.7 191L1035.1 192L1030.3 202.2L1025.5 212.5L1019.9 222.8L1013.9 233L1008.2 243.2L1003.1 253.5L997.8 263.8L992.3 274L987.1 284.2L982 294.5L976.9 304.8L971.8 315L966.7 325.2L961.7 335.5L956.7 345.8L951.6 356L946.5 366.2L941.4 376.5L936.4 386.8L931.5 397L926.8 407.2L922.1 417.5L917.5 427.8L913 438L908.5 448.2L904.1 458.5L899.7 468.8L895.4 479L891.2 489.2L887 499.5" stroke="#0000cf" stroke-width="1.0" fill="none" stroke-linejoin="round" />
<path d="M1259.9 89.5L1253.3 90.3L1238.9 91.1L1228.5 92L1217.6 92.8L1208.1 93.6L1197.3 94.4L1187.5 95.2L1175.5 96.1L1165.9 96.9L1155.1 97.7L1144.9 98.5L1134.1 99.3L1126.9 100.2L1117.2 101L1112 101.8L1106.7 102.6L1103.3 103.4L1096 104.3L1093.3 105.1L1088.2 105.9L1085.8 106.7L1082.9 107.5L1081.3 108.4L1077.2 109.2L1076.9 110L1073.9 110.8L1073.8 111.6L1072.5 112.5L1069.3 113.3L1068.9 114.1L1062.2 117.2L1059.5 120.2L1058 123.3L1055.8 126.4L1053.6 129.5L1052.7 132.6L1052.6 135.6L1051.9 138.7L1049.4 141.8L1048.4 144.8L1048 147.9L1047.7 151L1046.1 154.1L1045.9 157.2L1044.7 160.2L1042.9 163.3L1041.9 166.4L1040.6 169.4L1040.6 172.5L1039.5 175.6L1039 178.7L1038.1 181.8L1036.6 184.8L1035.7 187.9L1034.8 191L1034.4 192L1029.9 202.2L1024.8 212.5L1019.2 222.8L1013.3 233L1007.6 243.2L1002.2 253.5L997.1 263.8L991.8 274L986.5 284.2L981.4 294.5L976.3 304.8L971.3 315L966.3 325.2L961.4 335.5L956.4 345.8L951.3 356L946.2 366.2L941.2 376.5L936.2 386.8L931.3 397L926.6 407.2L921.9 417.5L917.3 427.8L912.8 438L908.3 448.2L903.9 458.5L899.5 468.8L895.2 479L891 489.2L886.7 499.5" stroke="#0000c5" stroke-width="1.0" fill="none" stroke-linejoin="round" />
<path d="M1259.8 89.5L1248 90.3L1241.1 91.1L1225.9 92L1213.9 92.8L1200.2 93.6L1187.4 94.4L1173.3 95.2L1157.1 96.1L1147.3 96.9L1138.9 97.7L1128.6 98.5L1121.5 99.3L1113.7 100.2L1108 101L1103.2 101.8L1100.7 102.6L1097.8 103.4L1094.7 104.3L1092.7 105.1L1090.2 105.9L1086.5 106.7L1081.9 107.5L1080.6 108.4L1077.1 109.2L1075.6 110L1073.7 110.8L1071.2 111.6L1069.7 112.5L1067 113.3L1067 114.1L1060.5 117.2L1058.5 120.2L1056.3 123.3L1057 126.4L1055 129.5L1054.4 132.6L1051.2 135.6L1049.5 138.7L1048.2 141.8L1046.9 144.8L1045.6 147.9L1044.5 151L1044 154.1L1043.1 157.2L1041.5 160.2L1040.4 163.3L1038.9 166.4L1037.4 169.4L1035.8 172.5L1035.1 175.6L1034.2 178.7L1033.4 181.8L1031.6 184.8L1030.5 187.9L1029.2 191L1028.6 192L1024.1 202.2L1019 212.5L1014.3 222.8L1009.1 233L1003.8 243.2L998.7 253.5L993.5 263.8L988.2 274L983.1 284.2L977.9 294.5L972.9 304.8L968 315L963.1 325.2L958.3 335.5L953.4 345.8L948.4 356L943.4 366.2L938.4 376.5L933.4 386.8L928.6 397L923.9 407.2L919.3 417.5L914.7 427.8L910.1 438L905.6 448.2L901.1 458.5L896.6 468.8L892.1 479L887.6 489.2L883.1 499.5" stroke="#0000bb" stroke-width="1.0" fill="none" stroke-linejoin="round" />
<path d="M1258.5 89.5L1246.8 90.3L1237.5 91.1L1228.8 92L1217.7 92.8L1206.9 93.6L1196.2 94.4L1181.7 95.2L1167.8 96.1L1154.4 96.9L1141.1 97.7L1132.2 98.5L1122.2 99.3L1115.6 100.2L1109.7 101L1103.6 101.8L1099.2 102.6L1095.1 103.4L1092.5 104.3L1089.2 105.1L1088.3 105.9L1085.8 106.7L1081.9 107.5L1081 108.4L1077.8 109.2L1077.9 110L1076.9 110.8L1075 111.6L1072.7 112.5L1072.4 113.3L1069 114.1L1066.2 117.2L1061.2 120.2L1059.1 123.3L1056.1 126.4L1055.3 129.5L1053.9 132.6L1054 135.6L1054.6 138.7L1052.5 141.8L1051.3 144.8L1050.5 147.9L1049.1 151L1047.1 154.1L1046.9 157.2L1046.5 160.2L1045.5 163.3L1044.9 166.4L1043.8 169.4L1043.3 172.5L1042.3 175.6L1040.8 178.7L1039.7 181.8L1039.5 184.8L1038.3 187.9L1037.5 191L1036.8 192L1032.3 202.2L1027 212.5L1021.3 222.8L1015.5 233L1009.7 243.2L1004.2 253.5L998.9 263.8L993.6 274L988.2 284.2L983 294.5L977.8 304.8L972.7 315L967.6 325.2L962.5 335.5L957.4 345.8L952.3 356L947.1 366.2L941.9 376.5L936.8 386.8L931.9 397L927.1 407.2L922.4 417.5L917.8 427.8L913.3 438L908.9 448.2L904.5 458.5L900.1 468.8L895.9 479L891.7 489.2L887.6 499.5" stroke="#0000b1" stroke-width="1.0" fill="none" stroke-linejoin="round" />
<path d="M1266.4 89.5L1256.7 90.3L1243.3 91.1L1226.4 92L1212.2 92.8L1203.6 93.6L1196.7 94.4L1185.2 95.2L1170.6 96.1L1156.5 96.9L1143.3 97.7L1134.5 98.5L1125.9 99.3L1116.9 100.2L1110.3 101L1103.5 101.8L1100.4 102.6L1097.8 103.4L1095.8 104.3L1090.7 105.1L1087.3 105.9L1084.5 106.7L1081.6 107.5L1078.7 108.4L1077.6 109.2L1074.6 110L1072.7 110.8L1071.2 111.6L1068.7 112.5L1066.6 113.3L1065.1 114.1L1059.2 117.2L1058.1 120.2L1056 123.3L1055.2 126.4L1052.7 129.5L1052.1 132.6L1050.5 135.6L1048.4 138.7L1047.7 141.8L1046.4 144.8L1045.5 147.9L1045.4 151L1044.1 154.1L1042.8 157.2L1042.2 160.2L1041.3 163.3L1041.2 166.4L1040.1 169.4L1039.2 172.5L1038.2 175.6L1037.2 178.7L1036.1 181.8L1036.3 184.8L1034.9 187.9L1033.7 191L1033.1 192L1029.3 202.2L1023.9 212.5L1017.9 222.8L1012.2 233L1006.7 243.2L1001.3 253.5L996.1 263.8L990.9 274L985.7 284.2L980.6 294.5L975.5 304.8L970.6 315L965.7 325.2L960.8 335.5L955.8 345.8L950.8 356L945.8 366.2L940.8 376.5L935.9 386.8L931.1 397L926.3 407.2L921.7 417.5L917.1 427.8L912.6 438L908.1 448.2L903.6 458.5L899.2 468.8L894.9 479L890.6 489.2L886.3 499.5" stroke="#0000a7" stroke-width="1.0" fill="none" stroke-linejoin="round" />
<path d="M1217.6 89.5L1214 90.3L1208.5 91.1L1200.7 92L1192.7 92.8L1186.8 93.6L1180.5 94.4L1176.8 95.2L1171.7 96.1L1161.7 96.9L1152.6 97.7L1139.2 98.5L1130.6 99.3L1121.6 100.2L1116.3 101L1109.3 101.8L1106.2 102.6L1101.2 103.4L1100.1 104.3L1095.7 105.1L1093.6 105.9L1089.5 106.7L1086.7 107.5L1086.4 108.4L1082.5 109.2L1078.2 110L1076.5 110.8L1075.4 111.6L1073.9 112.5L1070.5 113.3L1069.5 114.1L1063.8 117.2L1060.9 120.2L1057.7 123.3L1055.9 126.4L1054.5 129.5L1052.2 132.6L1052.3 135.6L1051.4 138.7L1050.3 141.8L1048.9 144.8L1047.3 147.9L1045.7 151L1045 154.1L1044.2 157.2L1042.8 160.2L1042.6 163.3L1041.3 166.4L1039.9 169.4L1038.8 172.5L1037.1 175.6L1036.1 178.7L1034.8 181.8L1033.8 184.8L1033.1 187.9L1031.8 191L1030.9 192L1026.6 202.2L1021.1 212.5L1016 222.8L1010.3 233L1005.2 243.2L1000 253.5L994.6 263.8L989.6 274L984.5 284.2L979.3 294.5L974.2 304.8L969.3 315L964.4 325.2L959.6 335.5L954.7 345.8L949.7 356L944.7 366.2L939.7 376.5L934.8 386.8L930 397L925.2 407.2L920.6 417.5L916 427.8L911.5 438L906.9 448.2L902.5 458.5L898 468.8L893.6 479L889.2 489.2L884.9 499.5" stroke="#00009d" stroke-width="1.0" fill="none" stroke-linejoin="round" />
<path d="M1231.4 89.5L1225.9 90.3L1216.4 91.1L1207.7 92L1200 92.8L1195.7 93.6L1188.8 94.4L1180.2 95.2L1164.2 96.1L1153.9 96.9L1145.7 97.7L1134.1 98.5L1128.5 99.3L1117.4 100.2L1111.8 101L1105.9 101.8L1101.6 102.6L1097.2 103.4L1094.7 104.3L1091.7 105.1L1089.5 105.9L1086.6 106.7L1083.7 107.5L1078.2 108.4L1077.4 109.2L1075.7 110L1071.1 110.8L1072.8 111.6L1072.1 112.5L1067.2 113.3L1065.8 114.1L1060.8 117.2L1060.1 120.2L1057.5 123.3L1057.4 126.4L1055.5 129.5L1053.6 132.6L1052.1 135.6L1050.3 138.7L1049.3 141.8L1048.7 144.8L1047.8 147.9L1046.7 151L1047 154.1L1046 157.2L1044.9 160.2L1043.9 163.3L1043 166.4L1042.3 169.4L1041.4 172.5L1040 175.6L1039.6 178.7L1039.1 181.8L1038.1 184.8L1037.4 187.9L1035.9 191L1035.2 192L1031.1 202.2L1026.2 212.5L1020 222.8L1014.3 233L1008.7 243.2L1003.3 253.5L998 263.8L992.6 274L987.4 284.2L982.2 294.5L977 304.8L972 315L967 325.2L961.9 335.5L956.9 345.8L951.8 356L946.7 366.2L941.5 376.5L936.5 386.8L931.6 397L926.9 407.2L922.2 417.5L917.6 427.8L913.1 438L908.6 448.2L904.2 458.5L899.8 468.8L895.5 479L891.3 489.2L887.1 499.5" stroke="#000093" stroke-width="1.0" fill="none" stroke-linejoin="round" />
<path d="M1279.1 89.5L1279.3 90.3L1280.9 91.1L1275.7 92L1275.5 92.8L1274 93.6L1274 94.4L1271 95.2L1265.5 96.1L1254.2 96.9L1244 97.7L1234.3 98.5L1224.3 99.3L1220.7 100.2L1212.5 101L1206.7 101.8L1198.5 102.6L1189.3 103.4L1180.9 104.3L1174.4 105.1L1168.8 105.9L1163.1 106.7L1156.9 107.5L1151.7 108.4L1148.9 109.2L1145.1 110L1141.1 110.8L1138.9 111.6L1134.6 112.5L1131.8 113.3L1129.2 114.1L1121.9 117.2L1115.8 120.2L1112.5 123.3L1110.2 126.4L1107.1 129.5L1104.1 132.6L1103 135.6L1101.1 138.7L1099.4 141.8L1097.8 144.8L1096.7 147.9L1094.6 151L1093.4 154.1L1091.8 157.2L1090 160.2L1088.1 163.3L1086.2 166.4L1084.8 169.4L1083.6 172.5L1081.5 175.6L1079.8 178.7L1078.5 181.8L1076.6 184.8L1074.7 187.9L1073.8 191L1073.1 192L1067.5 202.2L1061.7 212.5L1054.9 222.8L1046.9 233L1037.9 243.2L1029 253.5L1019.9 263.8L1011.5 274L1003.6 284.2L996.3 294.5L989.5 304.8L983.3 315L977.2 325.2L971.1 335.5L964.9 345.8L958.4 356L951.9 366.2L945.3 376.5L938.8 386.8L932.2 397L925.5 407.2L918.8 417.5L912.1 427.8L905.6 438L899.5 448.2L893.7 458.5L888.2 468.8L882.9 479L877.9 489.2L876.9 491.3" stroke="#0000ff" stroke-width="1.0" fill="none" stroke-linejoin="round" />
<path d="M1281.8 89.5L1276.2 90.3L1275.2 91.1L1271 92L1271.3 92.8L1271.7 93.6L1271.1 94.4L1270.5 95.2L1266.3 96.1L1251.2 96.9L1238.5 97.7L1225.7 98.5L1218.2 99.3L1213.8 100.2L1210.4 101L1203.1 101.8L1194.7 102.6L1186.6 103.4L1177.2 104.3L1168.7 105.1L1161.9 105.9L1159.6 106.7L1153 107.5L1147.2 108.4L1144.2 109.2L1139.6 110L1133.7 110.8L1132.8 111.6L1128.1 112.5L1125.8 113.3L1121.2 114.1L1113.1 117.2L1106.2 120.2L1102.7 123.3L1099.1 126.4L1097.7 129.5L1095.2 132.6L1093.4 135.6L1091.8 138.7L1090.1 141.8L1088.6 144.8L1087.6 147.9L1085 151L1084.4 154.1L1082.1 157.2L1080.8 160.2L1079.2 163.3L1077.5 166.4L1076 169.4L1074.3 172.5L1073 175.6L1071.4 178.7L1069.7 181.8L1067.9 184.8L1066 187.9L1064.2 191L1063.4 192L1057.8 202.2L1051.2 212.5L1044.7 222.8L1037.6 233L1030.2 243.2L1022.8 253.5L1015.5 263.8L1008.2 274L1000.9 284.2L993.8 294.5L987.3 304.8L981.2 315L975.2 325.2L969.1 335.5L963 345.8L956.7 356L950.3 366.2L943.8 376.5L937.4 386.8L931 397L924.6 407.2L918.3 417.5L911.9 427.8L905.6 438L899.3 448.2L893 458.5L886.7 468.8L880.5 479L877.6 483.7" stroke="#0000f8" stroke-width="1.0" fill="none" stroke-linejoin="round" /></g>
<path d="M856.5 89V500M856 499.5H1359M856 89.5H1359M1358.5 89V500M938.5 499v-6.5M938.5 90v6.5M1020.5 499v-6.5M1020.5 90v6.5M1102.5 499v-6.5M1102.5 90v6.5M1184.5 499v-6.5M1184.5 90v6.5M1267.5 499v-6.5M1267.5 90v6.5M1349.5 499v-6.5M1349.5 90v6.5M857 192.5h6.5M1358 192.5h-6.5M857 294.5h6.5M1358 294.5h-6.5M857 396.5h6.5M1358 396.5h-6.5" stroke="#262626" stroke-width="1" fill="none"/>
<text x="856.5" y="526.5" text-anchor="middle" class="tk">0</text>
<text x="938.5" y="526.5" text-anchor="middle" class="tk">20</text>
<text x="1020.5" y="526.5" text-anchor="middle" class="tk">40</text>
<text x="1102.5" y="526.5" text-anchor="middle" class="tk">60</text>
<text x="1184.5" y="526.5" text-anchor="middle" class="tk">80</text>
<text x="1267.5" y="526.5" text-anchor="middle" class="tk">100</text>
<text x="1349.5" y="526.5" text-anchor="middle" class="tk">120</text>
<text x="849" y="97.2" text-anchor="end" class="tk">0</text>
<text x="849" y="200.2" text-anchor="end" class="tk">500</text>
<text x="849" y="302.2" text-anchor="end" class="tk">1000</text>
<text x="849" y="404.2" text-anchor="end" class="tk">1500</text>
<text x="849" y="507.2" text-anchor="end" class="tk">2000</text>
<path d="M278.5 659V1068.5M362.5 659V1068.5M445.5 659V1068.5M529.5 659V1068.5M613.5 659V1068.5" stroke="#262626" stroke-opacity="0.15" stroke-width="1" fill="none"/>
<path d="M194.5 727.5H698M194.5 795.5H698M194.5 863.5H698M194.5 931.5H698M194.5 999.5H698" stroke="#262626" stroke-opacity="0.15" stroke-width="1" fill="none"/>
<g clip-path="url(#c3)"><path d="M199.2 688.6L203.4 878.3L207.6 962.9L211.7 1047.5L215.9 771.8L220.1 998.4L224.3 1003.9L228.5 871.5L232.7 960.2L236.8 922L241 983.4L245.2 1003.9L249.4 905.6L253.6 950.6L257.8 973.8L261.9 977.9L266.1 987.5L270.3 972.5L274.5 915.1L278.7 932.9L282.9 897.4L287 931.5L291.2 949.3L295.4 905.6L299.6 1005.2L303.8 931.5L308 890.6L312.1 946.5L316.3 913.8L320.5 938.3L324.7 941.1L328.9 896L333.1 919.2L337.2 953.4L341.4 967L345.6 982L349.8 999.8L354 967L358.2 922L362.3 930.2L366.5 950.6L370.7 956.1L374.9 964.3L379.1 971.1L383.3 882.4L387.5 766.4L391.6 977.9L395.8 992.9L400 998.4L404.2 982L408.4 1023L412.6 949.3L416.7 941.1L420.9 947.9L425.1 937L429.3 952L433.5 943.8L437.7 964.3L441.8 1014.8L446 928.8L450.2 998.4L454.4 934.2L458.6 912.4L462.8 887.8L466.9 904.2L471.1 958.8L475.3 942.4L479.5 986.1L483.7 971.1L487.9 995.7L492 964.3L496.2 960.2L500.4 947.9L504.6 943.8L508.8 952L513 942.4L517.1 968.4L521.3 934.2L525.5 977.9L529.7 990.2L533.9 979.3L538.1 988.8L542.3 999.8L546.4 937L550.6 905.6L554.8 938.3L559 961.5L563.2 941.1L567.4 947.9L571.5 942.4L575.7 943.8L579.9 937L584.1 947.9L588.3 956.1L592.5 958.8L596.6 962.9L600.8 983.4L605 998.4L609.2 928.8L613.4 952L617.6 950.6L621.7 941.1L625.9 943.8L630.1 945.2" stroke="#0072bd" stroke-width="1.0" fill="none" stroke-linejoin="round" /></g>
<path d="M194.5 659V1069M194 1068.5H698M194 659.5H698M697.5 659V1069M278.5 1068v-6.5M278.5 660v6.5M362.5 1068v-6.5M362.5 660v6.5M445.5 1068v-6.5M445.5 660v6.5M529.5 1068v-6.5M529.5 660v6.5M613.5 1068v-6.5M613.5 660v6.5M195 727.5h6.5M697 727.5h-6.5M195 795.5h6.5M697 795.5h-6.5M195 863.5h6.5M697 863.5h-6.5M195 931.5h6.5M697 931.5h-6.5M195 999.5h6.5M697 999.5h-6.5" stroke="#262626" stroke-width="1" fill="none"/>
<text x="194.5" y="1095.5" text-anchor="middle" class="tk">0</text>
<text x="278.5" y="1095.5" text-anchor="middle" class="tk">20</text>
<text x="362.5" y="1095.5" text-anchor="middle" class="tk">40</text>
<text x="445.5" y="1095.5" text-anchor="middle" class="tk">60</text>
<text x="529.5" y="1095.5" text-anchor="middle" class="tk">80</text>
<text x="613.5" y="1095.5" text-anchor="middle" class="tk">100</text>
<text x="697.5" y="1095.5" text-anchor="middle" class="tk">120</text>
<text x="187" y="667.2" text-anchor="end" class="tk">1480</text>
<text x="187" y="735.2" text-anchor="end" class="tk">1485</text>
<text x="187" y="803.2" text-anchor="end" class="tk">1490</text>
<text x="187" y="871.2" text-anchor="end" class="tk">1495</text>
<text x="187" y="939.2" text-anchor="end" class="tk">1500</text>
<text x="187" y="1007.2" text-anchor="end" class="tk">1505</text>
<text x="187" y="1076.2" text-anchor="end" class="tk">1510</text>
<path d="M939.5 658V1068.5M1023.5 658V1068.5M1106.5 658V1068.5M1190.5 658V1068.5M1274.5 658V1068.5" stroke="#262626" stroke-opacity="0.15" stroke-width="1" fill="none"/>
<path d="M856.5 1009.5H1359M856.5 951.5H1359M856.5 892.5H1359M856.5 834.5H1359M856.5 775.5H1359M856.5 717.5H1359" stroke="#262626" stroke-opacity="0.15" stroke-width="1" fill="none"/>
<g clip-path="url(#c4)"><path d="M860.3 1009.5L864.5 1009.5L868.7 1009.5L872.8 980.3L877 1038.8L881.2 951L885.4 921.8L889.6 921.8L893.8 921.8L897.9 921.8L902.1 921.8L906.3 892.5L910.5 892.5L914.7 892.5L918.9 892.5L923 892.5L927.2 892.5L931.4 892.5L935.6 834L939.8 834L944 834L948.1 834L952.3 834L956.5 834L960.7 804.8L964.9 804.8L969.1 804.8L973.2 804.8L977.4 804.8L981.6 804.8L985.8 804.8L990 804.8L994.2 804.8L998.3 804.8L1002.5 804.8L1006.7 804.8L1010.9 775.5L1015.1 775.5L1019.3 775.5L1023.5 775.5L1027.6 775.5L1031.8 775.5L1036 775.5L1040.2 775.5L1044.4 775.5L1048.6 834L1052.7 834L1056.9 834L1061.1 804.8L1065.3 804.8L1069.5 775.5L1073.7 775.5L1077.8 775.5L1082 775.5L1086.2 775.5L1090.4 775.5L1094.6 775.5L1098.8 775.5L1102.9 746.3L1107.1 746.3L1111.3 717.1L1115.5 717.1L1119.7 717.1L1123.9 717.1L1128 717.1L1132.2 717.1L1136.4 717.1L1140.6 717.1L1144.8 717.1L1149 717.1L1153.1 717.1L1157.3 717.1L1161.5 717.1L1165.7 717.1L1169.9 717.1L1174.1 717.1L1178.2 717.1L1182.4 717.1L1186.6 717.1L1190.8 717.1L1195 717.1L1199.2 717.1L1203.4 687.8L1207.5 687.8L1211.7 687.8L1215.9 687.8L1220.1 687.8L1224.3 687.8L1228.5 687.8L1232.6 687.8L1236.8 687.8L1241 687.8L1245.2 687.8L1249.4 687.8L1253.6 687.8L1257.7 687.8L1261.9 687.8L1266.1 659.4L1270.3 659.4L1274.5 659.4L1278.7 659.4L1282.8 659.4L1287 659.4L1291.2 659.4" stroke="#0072bd" stroke-width="1.0" fill="none" stroke-linejoin="round" /></g>
<path d="M856.5 658V1069M856 1068.5H1359M856 658.5H1359M1358.5 658V1069M939.5 1068v-6.5M939.5 659v6.5M1023.5 1068v-6.5M1023.5 659v6.5M1106.5 1068v-6.5M1106.5 659v6.5M1190.5 1068v-6.5M1190.5 659v6.5M1274.5 1068v-6.5M1274.5 659v6.5M857 1009.5h6.5M1358 1009.5h-6.5M857 951.5h6.5M1358 951.5h-6.5M857 892.5h6.5M1358 892.5h-6.5M857 834.5h6.5M1358 834.5h-6.5M857 775.5h6.5M1358 775.5h-6.5M857 717.5h6.5M1358 717.5h-6.5" stroke="#262626" stroke-width="1" fill="none"/>
<text x="856.5" y="1095.5" text-anchor="middle" class="tk">0</text>
<text x="939.5" y="1095.5" text-anchor="middle" class="tk">20</text>
<text x="1023.5" y="1095.5" text-anchor="middle" class="tk">40</text>
<text x="1106.5" y="1095.5" text-anchor="middle" class="tk">60</text>
<text x="1190.5" y="1095.5" text-anchor="middle" class="tk">80</text>
<text x="1274.5" y="1095.5" text-anchor="middle" class="tk">100</text>
<text x="1358.5" y="1095.5" text-anchor="middle" class="tk">120</text>
<text x="849" y="1076.2" text-anchor="end" class="tk">16.8</text>
<text x="849" y="1017.2" text-anchor="end" class="tk">17</text>
<text x="849" y="959.2" text-anchor="end" class="tk">17.2</text>
<text x="849" y="900.2" text-anchor="end" class="tk">17.4</text>
<text x="849" y="842.2" text-anchor="end" class="tk">17.6</text>
<text x="849" y="783.2" text-anchor="end" class="tk">17.8</text>
<text x="849" y="725.2" text-anchor="end" class="tk">18</text>
<text x="849" y="666.2" text-anchor="end" class="tk">18.2</text>
<text x="446" y="82" text-anchor="middle" class="tt">7796 Net Buoyancy of float with bladder in</text>
<text x="446" y="651" text-anchor="middle" class="tt">drift p</text>
<text x="1107.5" y="651" text-anchor="middle" class="tt">descent pump time</text>
<text x="446.5" y="556" text-anchor="middle" class="lb" textLength="131.5" lengthAdjust="spacing">buoyancy cc</text>
<text x="1107.5" y="556" text-anchor="middle" class="lb">Pump time (s)</text>
<text transform="translate(128 294) rotate(-90)" text-anchor="middle" class="lb" textLength="154.5" lengthAdjust="spacing">pressure (dbar)</text>
<text transform="translate(790 294) rotate(-90)" text-anchor="middle" class="lb" textLength="154.5" lengthAdjust="spacing">pressure (dbar)</text>
<text x="300" y="1182" class="ft">WHOI Argo:27-Dec-2024</text>
</svg>
</body></html>
